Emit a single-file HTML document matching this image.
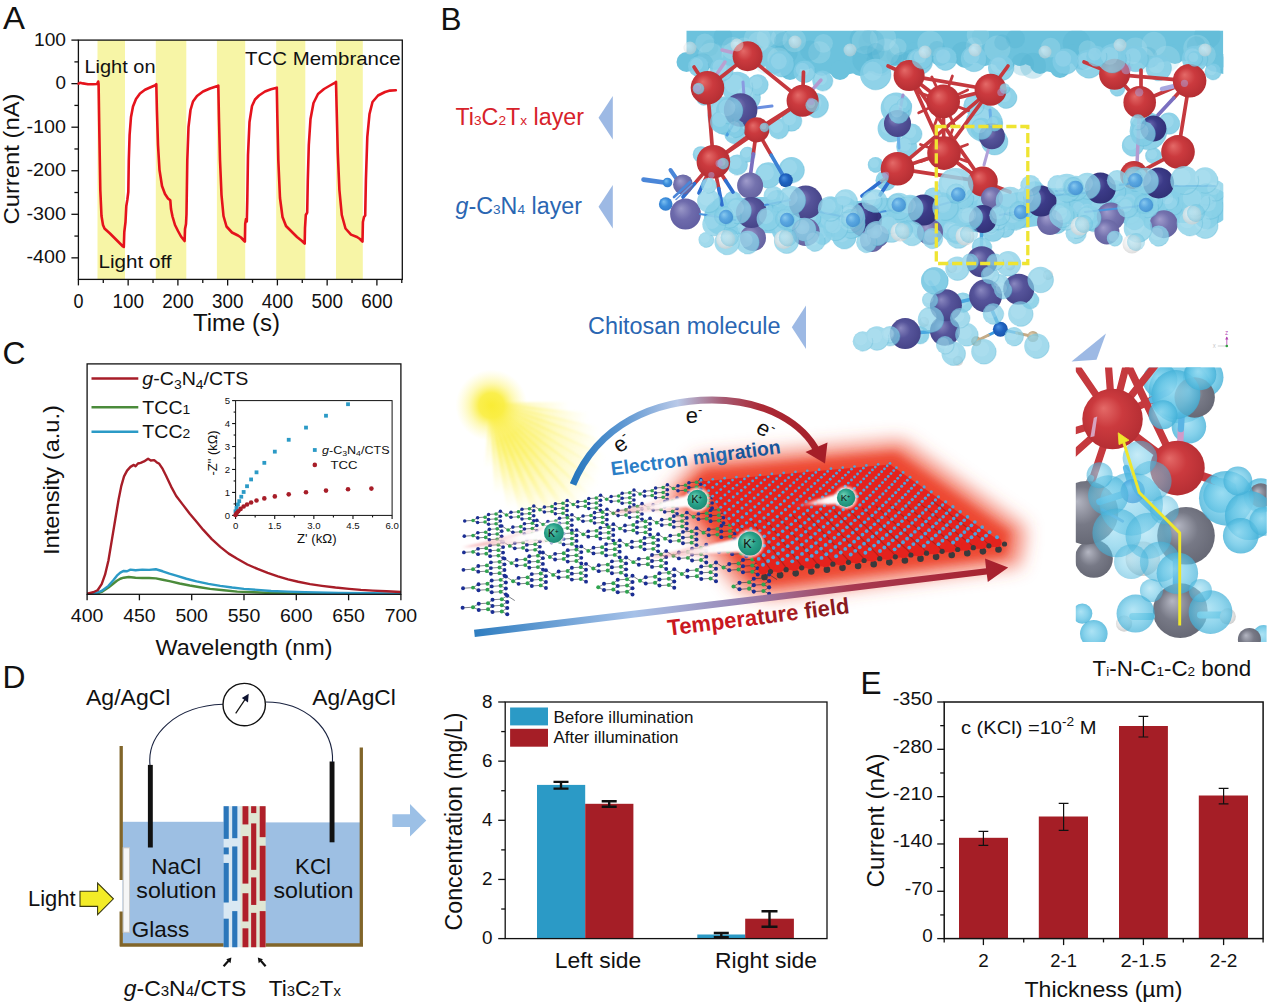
<!DOCTYPE html>
<html><head><meta charset="utf-8"><title>Figure</title>
<style>
html,body{margin:0;padding:0;background:#fff;}
svg{display:block;font-family:"Liberation Sans",sans-serif;}
</style></head><body>
<svg width="1269" height="1006" viewBox="0 0 1269 1006">
<defs><radialGradient id="gRed" cx="0.5" cy="0.5" r="0.75" fx="0.35" fy="0.32"><stop offset="0" stop-color="#e46a68"/><stop offset="0.35" stop-color="#cb3a3e"/><stop offset="1" stop-color="#a6262c"/></radialGradient>
<radialGradient id="gNavy" cx="0.5" cy="0.5" r="0.75" fx="0.35" fy="0.32"><stop offset="0" stop-color="#8a88c0"/><stop offset="0.35" stop-color="#56549a"/><stop offset="1" stop-color="#3a397c"/></radialGradient>
<radialGradient id="gNavyD" cx="0.5" cy="0.5" r="0.75" fx="0.35" fy="0.32"><stop offset="0" stop-color="#6a69b0"/><stop offset="0.35" stop-color="#3c3b88"/><stop offset="1" stop-color="#2a2a6c"/></radialGradient>
<radialGradient id="gPurp2" cx="0.5" cy="0.5" r="0.75" fx="0.35" fy="0.32"><stop offset="0" stop-color="#9a98c8"/><stop offset="0.4" stop-color="#6e6bac"/><stop offset="1" stop-color="#57559a"/></radialGradient>
<radialGradient id="gPurp" cx="0.5" cy="0.5" r="0.75" fx="0.35" fy="0.32"><stop offset="0" stop-color="#a09ccc"/><stop offset="0.4" stop-color="#7472ae"/><stop offset="1" stop-color="#5a5896"/></radialGradient>
<radialGradient id="gBlue" cx="0.5" cy="0.5" r="0.75" fx="0.35" fy="0.32"><stop offset="0" stop-color="#7cc0f0"/><stop offset="0.4" stop-color="#3c8edc"/><stop offset="1" stop-color="#2a6fc0"/></radialGradient>
<radialGradient id="gBlueD" cx="0.5" cy="0.5" r="0.75" fx="0.35" fy="0.32"><stop offset="0" stop-color="#4a90e0"/><stop offset="0.4" stop-color="#1f62c0"/><stop offset="1" stop-color="#174c9c"/></radialGradient>
<radialGradient id="gGrey" cx="0.5" cy="0.5" r="0.75" fx="0.35" fy="0.32"><stop offset="0" stop-color="#b4b6c2"/><stop offset="0.4" stop-color="#777986"/><stop offset="1" stop-color="#5a5c68"/></radialGradient>
<radialGradient id="gWhite" cx="0.5" cy="0.5" r="0.75" fx="0.35" fy="0.32"><stop offset="0" stop-color="#ffffff"/><stop offset="0.5" stop-color="#e4e4e4"/><stop offset="1" stop-color="#b8b8b8"/></radialGradient>
<radialGradient id="gTan" cx="0.5" cy="0.5" r="0.75" fx="0.35" fy="0.32"><stop offset="0" stop-color="#e0cfb0"/><stop offset="0.5" stop-color="#c4ac88"/><stop offset="1" stop-color="#a89070"/></radialGradient>
<radialGradient id="gTeal" cx="0.5" cy="0.5" r="0.75" fx="0.35" fy="0.32"><stop offset="0" stop-color="#6fd0b4"/><stop offset="0.45" stop-color="#27a088"/><stop offset="1" stop-color="#157a66"/></radialGradient>
<radialGradient id="gCy" cx="0.5" cy="0.5" r="0.5" fx="0.45" fy="0.42"><stop offset="0" stop-color="#a2dcee"/><stop offset="0.65" stop-color="#86cfe6"/><stop offset="0.9" stop-color="#6cc2de"/><stop offset="1" stop-color="#5ab6d6"/></radialGradient>
<radialGradient id="gCy2" cx="0.5" cy="0.5" r="0.52" fx="0.42" fy="0.4"><stop offset="0" stop-color="#98dcf2"/><stop offset="0.6" stop-color="#68c6e6"/><stop offset="0.92" stop-color="#48b4da"/><stop offset="1" stop-color="#3ca8d2"/></radialGradient>
<radialGradient id="gSun" cx="0.5" cy="0.5" r="0.5"><stop offset="0" stop-color="#f9ec36"/><stop offset="0.35" stop-color="#faee44" stop-opacity="0.95"/><stop offset="0.62" stop-color="#fcf26a" stop-opacity="0.5"/><stop offset="1" stop-color="#fff8a0" stop-opacity="0"/></radialGradient>
<linearGradient id="gRay" x1="0" y1="0" x2="1" y2="0"><stop offset="0" stop-color="#f9ec36" stop-opacity="0.95"/><stop offset="0.45" stop-color="#fbf05a" stop-opacity="0.7"/><stop offset="0.8" stop-color="#fdf480" stop-opacity="0.3"/><stop offset="1" stop-color="#fff8a0" stop-opacity="0"/></linearGradient>
<linearGradient id="gArc" gradientUnits="userSpaceOnUse" x1="572" y1="0" x2="824" y2="0"><stop offset="0" stop-color="#2576bd"/><stop offset="0.2" stop-color="#5d97d2"/><stop offset="0.42" stop-color="#b9c9e8"/><stop offset="0.6" stop-color="#a65a72"/><stop offset="0.75" stop-color="#ab2a36"/><stop offset="1" stop-color="#a51e28"/></linearGradient>
<linearGradient id="gTemp" gradientUnits="userSpaceOnUse" x1="474" y1="0" x2="1008" y2="0"><stop offset="0" stop-color="#2e7dc0"/><stop offset="0.3" stop-color="#a6c1e8"/><stop offset="0.5" stop-color="#9a86b4"/><stop offset="0.7" stop-color="#a63a52"/><stop offset="1" stop-color="#a81f2b"/></linearGradient>
<linearGradient id="gTail" x1="0" y1="0" x2="1" y2="0"><stop offset="0" stop-color="#f7c8c8" stop-opacity="0"/><stop offset="0.35" stop-color="#fde8e8" stop-opacity="0.8"/><stop offset="0.6" stop-color="#ffffff" stop-opacity="0.97"/><stop offset="1" stop-color="#ffffff" stop-opacity="1"/></linearGradient>
<filter id="blur7" x="-20%" y="-20%" width="140%" height="140%"><feGaussianBlur stdDeviation="7"/></filter>
<filter id="blur10" x="-20%" y="-30%" width="140%" height="160%"><feGaussianBlur stdDeviation="9"/></filter>
<filter id="blur5" x="-20%" y="-30%" width="140%" height="160%"><feGaussianBlur stdDeviation="5"/></filter>
<filter id="blur2" x="-20%" y="-20%" width="140%" height="140%"><feGaussianBlur stdDeviation="2"/></filter>
<filter id="blur1" x="-20%" y="-20%" width="140%" height="140%"><feGaussianBlur stdDeviation="0.8"/></filter>
<clipPath id="clipTop"><rect x="636" y="30.5" width="587.3" height="240"/></clipPath>
<clipPath id="clipIns"><rect x="1075.8" y="367.6" width="190.8" height="274.4"/></clipPath></defs>
<rect width="1269" height="1006" fill="#fff"/>
<g id="panelA">
<rect x="97.5" y="40.1" width="27.5" height="239.3" fill="#f7f5a6" />
<rect x="155.8" y="40.1" width="30.5" height="239.3" fill="#f7f5a6" />
<rect x="216.9" y="40.1" width="28.3" height="239.3" fill="#f7f5a6" />
<rect x="276.2" y="40.1" width="29.1" height="239.3" fill="#f7f5a6" />
<rect x="336" y="40.1" width="26.8" height="239.3" fill="#f7f5a6" />
<rect x="78.4" y="40.1" width="323.9" height="239.3" fill="none" stroke="#111" stroke-width="1.3" />
<line x1="71.4" y1="40.1" x2="78.4" y2="40.1" stroke="#111" stroke-width="1.3" />
<text x="66" y="45.5" font-size="17.6" text-anchor="end" textLength="32" lengthAdjust="spacingAndGlyphs" fill="#111" >100</text>
<line x1="71.4" y1="83.65" x2="78.4" y2="83.65" stroke="#111" stroke-width="1.3" />
<text x="66" y="89.05" font-size="17.6" text-anchor="end" textLength="10.5" lengthAdjust="spacingAndGlyphs" fill="#111" >0</text>
<line x1="71.4" y1="127.2" x2="78.4" y2="127.2" stroke="#111" stroke-width="1.3" />
<text x="66" y="132.6" font-size="17.6" text-anchor="end" textLength="39.5" lengthAdjust="spacingAndGlyphs" fill="#111" >-100</text>
<line x1="71.4" y1="170.75" x2="78.4" y2="170.75" stroke="#111" stroke-width="1.3" />
<text x="66" y="176.15" font-size="17.6" text-anchor="end" textLength="39.5" lengthAdjust="spacingAndGlyphs" fill="#111" >-200</text>
<line x1="71.4" y1="214.3" x2="78.4" y2="214.3" stroke="#111" stroke-width="1.3" />
<text x="66" y="219.7" font-size="17.6" text-anchor="end" textLength="39.5" lengthAdjust="spacingAndGlyphs" fill="#111" >-300</text>
<line x1="71.4" y1="257.85" x2="78.4" y2="257.85" stroke="#111" stroke-width="1.3" />
<text x="66" y="263.25" font-size="17.6" text-anchor="end" textLength="39.5" lengthAdjust="spacingAndGlyphs" fill="#111" >-400</text>
<line x1="74.4" y1="61.88" x2="78.4" y2="61.88" stroke="#111" stroke-width="1.3" />
<line x1="74.4" y1="105.42" x2="78.4" y2="105.42" stroke="#111" stroke-width="1.3" />
<line x1="74.4" y1="148.97" x2="78.4" y2="148.97" stroke="#111" stroke-width="1.3" />
<line x1="74.4" y1="192.52" x2="78.4" y2="192.52" stroke="#111" stroke-width="1.3" />
<line x1="74.4" y1="236.07" x2="78.4" y2="236.07" stroke="#111" stroke-width="1.3" />
<line x1="78.4" y1="279.4" x2="78.4" y2="285.4" stroke="#111" stroke-width="1.3" />
<text x="78.4" y="307.6" font-size="19.6" text-anchor="middle" textLength="10" lengthAdjust="spacingAndGlyphs" fill="#111" >0</text>
<line x1="128.15" y1="279.4" x2="128.15" y2="285.4" stroke="#111" stroke-width="1.3" />
<text x="128.15" y="307.6" font-size="19.6" text-anchor="middle" textLength="31.5" lengthAdjust="spacingAndGlyphs" fill="#111" >100</text>
<line x1="177.9" y1="279.4" x2="177.9" y2="285.4" stroke="#111" stroke-width="1.3" />
<text x="177.9" y="307.6" font-size="19.6" text-anchor="middle" textLength="31.5" lengthAdjust="spacingAndGlyphs" fill="#111" >200</text>
<line x1="227.65" y1="279.4" x2="227.65" y2="285.4" stroke="#111" stroke-width="1.3" />
<text x="227.65" y="307.6" font-size="19.6" text-anchor="middle" textLength="31.5" lengthAdjust="spacingAndGlyphs" fill="#111" >300</text>
<line x1="277.4" y1="279.4" x2="277.4" y2="285.4" stroke="#111" stroke-width="1.3" />
<text x="277.4" y="307.6" font-size="19.6" text-anchor="middle" textLength="31.5" lengthAdjust="spacingAndGlyphs" fill="#111" >400</text>
<line x1="327.15" y1="279.4" x2="327.15" y2="285.4" stroke="#111" stroke-width="1.3" />
<text x="327.15" y="307.6" font-size="19.6" text-anchor="middle" textLength="31.5" lengthAdjust="spacingAndGlyphs" fill="#111" >500</text>
<line x1="376.9" y1="279.4" x2="376.9" y2="285.4" stroke="#111" stroke-width="1.3" />
<text x="376.9" y="307.6" font-size="19.6" text-anchor="middle" textLength="31.5" lengthAdjust="spacingAndGlyphs" fill="#111" >600</text>
<line x1="103.28" y1="279.4" x2="103.28" y2="282.9" stroke="#111" stroke-width="1.3" />
<line x1="153.03" y1="279.4" x2="153.03" y2="282.9" stroke="#111" stroke-width="1.3" />
<line x1="202.78" y1="279.4" x2="202.78" y2="282.9" stroke="#111" stroke-width="1.3" />
<line x1="252.53" y1="279.4" x2="252.53" y2="282.9" stroke="#111" stroke-width="1.3" />
<line x1="302.27" y1="279.4" x2="302.27" y2="282.9" stroke="#111" stroke-width="1.3" />
<line x1="352.02" y1="279.4" x2="352.02" y2="282.9" stroke="#111" stroke-width="1.3" />
<line x1="401.77" y1="279.4" x2="401.77" y2="282.9" stroke="#111" stroke-width="1.3" />
<text x="236.5" y="330.6" font-size="23.5" text-anchor="middle" textLength="87" lengthAdjust="spacingAndGlyphs" fill="#111" >Time (s)</text>
<text transform="translate(19.3 159) rotate(-90)" font-size="22" text-anchor="middle" textLength="131" lengthAdjust="spacingAndGlyphs" fill="#111" >Current (nA)</text>
<text x="3" y="28.5" font-size="32" textLength="22" lengthAdjust="spacingAndGlyphs" fill="#111" >A</text>
<text x="84.5" y="72.8" font-size="18.8" textLength="71" lengthAdjust="spacingAndGlyphs" fill="#111" >Light on</text>
<text x="98.5" y="267.5" font-size="18.8" textLength="73" lengthAdjust="spacingAndGlyphs" fill="#111" >Light off</text>
<text x="245" y="64.5" font-size="19" textLength="155.5" lengthAdjust="spacingAndGlyphs" fill="#111" >TCC Membrance</text>
<polyline points="78.6,83.6 80,82.8 83,83.4 88,84.2 93,84.3 97,84 98.2,81.5 98.6,84 99.3,130 100.3,190 101.5,216 103,225 104.5,228.5 110,233.5 117,240.5 123,246.5 123.8,247 124.3,232 125.5,222 126.3,206 127.3,200 128.3,192 128.8,160 129.6,135 131,117 133,106.5 136,99 140,93.5 145,89.8 150,87.5 155.3,85.2 156.3,84.2 156.9,110 158,145 159.5,170 162,186 165,194 168,198.5 170.3,200.3 171,209 172.5,216.5 175,225 178,231 181,236.5 184.6,241 185,229 186,224 186.5,214 187.3,160 188.5,127 190.5,110 193,101.5 197,96 203,91.5 210,88.5 217.5,86 218.3,85.6 219,120 220,160 221.5,195 223.5,216 226.5,226.5 232,232.5 238,235.5 241,237.5 244.3,241 244.9,241.6 245.2,224 246,219 246.8,221.5 247.3,200 248,155 249.5,122 252,106 255,99.5 259,95.5 265,91.5 271,89.3 276.8,87.7 277.3,115 278.3,160 280,198 282.5,217 286,226 291,231 297,237 302,241 304.7,243.6 305,228 305.8,215 307.2,212.5 307.8,180 308.8,145 310.5,119 313.5,103 318,94 324,89 330,85.5 335.6,82.3 336,81.8 336.6,107 337.8,153 339.4,190 341.8,215 345.5,228.5 351,234.6 357,237 360,239 362.5,241.6 362.9,222 364,217 365.2,215.5 365.9,180 367.3,137 369.5,114 372.5,102 378,95.5 385,92 390,90.6 395.8,90.2" fill="none" stroke="#e5131c" stroke-width="2.6" stroke-linejoin="round" stroke-linecap="round" />
</g>
<g id="panelC">
<clipPath id="clipC"><rect x="87.1" y="363.9" width="313.79999999999995" height="230.39999999999998"/></clipPath>
<polyline points="87.09,594.66 96.58,593.64 101.66,591.95 108.44,587.54 113.52,583.47 116.91,580.76 120.3,578.73 123.69,577.71 128.77,577.03 135.55,577.71 142.32,578.05 149.1,578.05 155.88,578.39 162.66,579.75 169.43,581.1 179.6,583.47 189.77,585.51 199.93,587.2 210.1,588.9 223.65,590.25 237.21,591.61 254.15,592.28 271.09,592.96 304.98,593.64 338.87,593.98 400.88,594.15" fill="none" stroke="#4b8b3b" stroke-width="2.4" stroke-linejoin="round" stroke-linecap="round" clip-path="url(#clipC)"/>
<polyline points="87.09,594.32 96.58,592.96 101.66,590.93 108.44,585.85 113.52,580.08 116.91,575.68 120.3,572.63 123.69,570.94 127.08,571.27 130.46,569.58 135.55,570.26 142.32,569.58 149.1,569.92 155.88,569.24 159.27,570.26 162.66,571.27 169.43,573.65 176.21,575.68 186.38,578.73 196.54,581.44 208.4,583.81 220.26,585.85 232.12,587.54 243.99,588.9 257.54,589.91 271.09,590.93 288.04,591.61 304.98,592.28 338.87,592.96 372.75,593.3 400.88,593.64" fill="none" stroke="#2b9ac6" stroke-width="2.4" stroke-linejoin="round" stroke-linecap="round" clip-path="url(#clipC)"/>
<polyline points="87.09,593.64 93.19,592.28 97.59,590.25 101.66,584.15 105.05,574.66 108.44,560.43 111.83,540.1 115.22,519.77 118.6,499.43 121.31,485.88 124.03,476.39 127.08,470.63 130.46,466.9 133.85,464.87 135.55,466.23 137.92,463.51 140.63,462.84 144.02,461.48 148.09,458.77 150.8,460.46 154.19,460.13 156.56,462.16 159.27,463.85 162.66,468.94 166.05,475.71 171.13,486.56 176.21,496.05 182.99,504.86 189.77,513.67 196.54,521.8 203.32,529.93 211.79,539.08 220.26,546.88 228.74,553.65 237.21,558.74 247.37,564.5 257.54,568.9 267.71,572.97 277.87,576.36 288.04,579.41 298.2,581.78 310.06,584.15 321.92,585.85 335.48,587.54 349.03,588.9 360.89,589.91 372.75,590.59 386.31,591.27 400.88,591.95" fill="none" stroke="#a71d28" stroke-width="2.4" stroke-linejoin="round" stroke-linecap="round" clip-path="url(#clipC)"/>
<rect x="87.1" y="363.9" width="313.8" height="230.4" fill="none" stroke="#111" stroke-width="1.3" />
<line x1="87.1" y1="594.3" x2="87.1" y2="600.3" stroke="#111" stroke-width="1.3" />
<text x="87.1" y="622.3" font-size="18" text-anchor="middle" textLength="32.5" lengthAdjust="spacingAndGlyphs" fill="#111" >400</text>
<line x1="139.4" y1="594.3" x2="139.4" y2="600.3" stroke="#111" stroke-width="1.3" />
<text x="139.4" y="622.3" font-size="18" text-anchor="middle" textLength="32.5" lengthAdjust="spacingAndGlyphs" fill="#111" >450</text>
<line x1="191.7" y1="594.3" x2="191.7" y2="600.3" stroke="#111" stroke-width="1.3" />
<text x="191.7" y="622.3" font-size="18" text-anchor="middle" textLength="32.5" lengthAdjust="spacingAndGlyphs" fill="#111" >500</text>
<line x1="244" y1="594.3" x2="244" y2="600.3" stroke="#111" stroke-width="1.3" />
<text x="244" y="622.3" font-size="18" text-anchor="middle" textLength="32.5" lengthAdjust="spacingAndGlyphs" fill="#111" >550</text>
<line x1="296.3" y1="594.3" x2="296.3" y2="600.3" stroke="#111" stroke-width="1.3" />
<text x="296.3" y="622.3" font-size="18" text-anchor="middle" textLength="32.5" lengthAdjust="spacingAndGlyphs" fill="#111" >600</text>
<line x1="348.6" y1="594.3" x2="348.6" y2="600.3" stroke="#111" stroke-width="1.3" />
<text x="348.6" y="622.3" font-size="18" text-anchor="middle" textLength="32.5" lengthAdjust="spacingAndGlyphs" fill="#111" >650</text>
<line x1="400.9" y1="594.3" x2="400.9" y2="600.3" stroke="#111" stroke-width="1.3" />
<text x="400.9" y="622.3" font-size="18" text-anchor="middle" textLength="32.5" lengthAdjust="spacingAndGlyphs" fill="#111" >700</text>
<text x="244" y="654.8" font-size="22" text-anchor="middle" textLength="177" lengthAdjust="spacingAndGlyphs" fill="#111" >Wavelength (nm)</text>
<text transform="translate(58.5 480) rotate(-90)" font-size="22" text-anchor="middle" textLength="150" lengthAdjust="spacingAndGlyphs" fill="#111" >Intensity (a.u.)</text>
<text x="2.5" y="363.5" font-size="32" textLength="23" lengthAdjust="spacingAndGlyphs" fill="#111" >C</text>
<line x1="91.5" y1="378.5" x2="138.3" y2="378.5" stroke="#a71d28" stroke-width="2.6" />
<line x1="91.5" y1="407.3" x2="138.3" y2="407.3" stroke="#4b8b3b" stroke-width="2.6" />
<line x1="91.5" y1="431.7" x2="138.3" y2="431.7" stroke="#2b9ac6" stroke-width="2.6" />
<text x="142.3" y="384.5" font-size="19" fill="#111" textLength="106" lengthAdjust="spacingAndGlyphs"><tspan font-style="italic">g</tspan>-C<tspan font-size="13.5" dy="4">3</tspan><tspan dy="-4">N</tspan><tspan font-size="13.5" dy="4">4</tspan><tspan dy="-4">/CTS</tspan></text>
<text x="142.3" y="413.8" font-size="19" fill="#111" textLength="48" lengthAdjust="spacingAndGlyphs">TCC<tspan font-size="13.5">1</tspan></text>
<text x="142.3" y="438" font-size="19" fill="#111" textLength="48" lengthAdjust="spacingAndGlyphs">TCC<tspan font-size="13.5">2</tspan></text>
<rect x="235.6" y="400.6" width="156.5" height="114.8" fill="#fff" stroke="#111" stroke-width="1" />
<line x1="235.6" y1="515.4" x2="235.6" y2="518.9" stroke="#111" stroke-width="1.1" />
<text x="235.6" y="529.4" font-size="9.6" text-anchor="middle" fill="#111" >0</text>
<line x1="274.73" y1="515.4" x2="274.73" y2="518.9" stroke="#111" stroke-width="1.1" />
<text x="274.73" y="529.4" font-size="9.6" text-anchor="middle" fill="#111" >1.5</text>
<line x1="313.85" y1="515.4" x2="313.85" y2="518.9" stroke="#111" stroke-width="1.1" />
<text x="313.85" y="529.4" font-size="9.6" text-anchor="middle" fill="#111" >3.0</text>
<line x1="352.98" y1="515.4" x2="352.98" y2="518.9" stroke="#111" stroke-width="1.1" />
<text x="352.98" y="529.4" font-size="9.6" text-anchor="middle" fill="#111" >4.5</text>
<line x1="392.1" y1="515.4" x2="392.1" y2="518.9" stroke="#111" stroke-width="1.1" />
<text x="392.1" y="529.4" font-size="9.6" text-anchor="middle" fill="#111" >6.0</text>
<line x1="255.16" y1="515.4" x2="255.16" y2="517.4" stroke="#111" stroke-width="1.1" />
<line x1="294.29" y1="515.4" x2="294.29" y2="517.4" stroke="#111" stroke-width="1.1" />
<line x1="333.41" y1="515.4" x2="333.41" y2="517.4" stroke="#111" stroke-width="1.1" />
<line x1="372.54" y1="515.4" x2="372.54" y2="517.4" stroke="#111" stroke-width="1.1" />
<line x1="232.1" y1="515.4" x2="235.6" y2="515.4" stroke="#111" stroke-width="1.1" />
<text x="230.1" y="518.8" font-size="9.6" text-anchor="end" fill="#111" >0</text>
<line x1="232.1" y1="492.44" x2="235.6" y2="492.44" stroke="#111" stroke-width="1.1" />
<text x="230.1" y="495.84" font-size="9.6" text-anchor="end" fill="#111" >1</text>
<line x1="232.1" y1="469.48" x2="235.6" y2="469.48" stroke="#111" stroke-width="1.1" />
<text x="230.1" y="472.88" font-size="9.6" text-anchor="end" fill="#111" >2</text>
<line x1="232.1" y1="446.52" x2="235.6" y2="446.52" stroke="#111" stroke-width="1.1" />
<text x="230.1" y="449.92" font-size="9.6" text-anchor="end" fill="#111" >3</text>
<line x1="232.1" y1="423.56" x2="235.6" y2="423.56" stroke="#111" stroke-width="1.1" />
<text x="230.1" y="426.96" font-size="9.6" text-anchor="end" fill="#111" >4</text>
<line x1="232.1" y1="400.6" x2="235.6" y2="400.6" stroke="#111" stroke-width="1.1" />
<text x="230.1" y="404" font-size="9.6" text-anchor="end" fill="#111" >5</text>
<line x1="233.6" y1="503.92" x2="235.6" y2="503.92" stroke="#111" stroke-width="1.1" />
<line x1="233.6" y1="480.96" x2="235.6" y2="480.96" stroke="#111" stroke-width="1.1" />
<line x1="233.6" y1="458" x2="235.6" y2="458" stroke="#111" stroke-width="1.1" />
<line x1="233.6" y1="435.04" x2="235.6" y2="435.04" stroke="#111" stroke-width="1.1" />
<line x1="233.6" y1="412.08" x2="235.6" y2="412.08" stroke="#111" stroke-width="1.1" />
<rect x="346.12" y="402.31" width="3.8" height="3.8" fill="#2b9ac6" />
<rect x="324.09" y="413.83" width="3.8" height="3.8" fill="#2b9ac6" />
<rect x="304.1" y="425.69" width="3.8" height="3.8" fill="#2b9ac6" />
<rect x="286.82" y="437.89" width="3.8" height="3.8" fill="#2b9ac6" />
<rect x="272.92" y="449.75" width="3.8" height="3.8" fill="#2b9ac6" />
<rect x="262.42" y="460.94" width="3.8" height="3.8" fill="#2b9ac6" />
<rect x="254.62" y="470.42" width="3.8" height="3.8" fill="#2b9ac6" />
<rect x="249.2" y="477.54" width="3.8" height="3.8" fill="#2b9ac6" />
<rect x="245.13" y="484.32" width="3.8" height="3.8" fill="#2b9ac6" />
<rect x="241.75" y="490.08" width="3.8" height="3.8" fill="#2b9ac6" />
<rect x="239.37" y="494.82" width="3.8" height="3.8" fill="#2b9ac6" />
<rect x="237.34" y="499.23" width="3.8" height="3.8" fill="#2b9ac6" />
<rect x="235.99" y="502.62" width="3.8" height="3.8" fill="#2b9ac6" />
<rect x="234.63" y="506.01" width="3.8" height="3.8" fill="#2b9ac6" />
<rect x="233.61" y="509.39" width="3.8" height="3.8" fill="#2b9ac6" />
<circle cx="371.4" cy="488.59" r="2.3" fill="#a71d28" />
<circle cx="348.02" cy="489.27" r="2.3" fill="#a71d28" />
<circle cx="325.99" cy="490.62" r="2.3" fill="#a71d28" />
<circle cx="306" cy="492.32" r="2.3" fill="#a71d28" />
<circle cx="288.72" cy="494.35" r="2.3" fill="#a71d28" />
<circle cx="274.82" cy="496.38" r="2.3" fill="#a71d28" />
<circle cx="264.32" cy="498.42" r="2.3" fill="#a71d28" />
<circle cx="256.52" cy="500.45" r="2.3" fill="#a71d28" />
<circle cx="251.1" cy="502.48" r="2.3" fill="#a71d28" />
<circle cx="247.03" cy="504.52" r="2.3" fill="#a71d28" />
<circle cx="243.65" cy="506.55" r="2.3" fill="#a71d28" />
<circle cx="240.6" cy="508.92" r="2.3" fill="#a71d28" />
<circle cx="238.22" cy="511.29" r="2.3" fill="#a71d28" />
<circle cx="236.53" cy="513.33" r="2.3" fill="#a71d28" />
<circle cx="235.51" cy="515.02" r="2.3" fill="#a71d28" />
<rect x="312.9" y="448.1" width="3.8" height="3.8" fill="#2b9ac6" />
<circle cx="314.8" cy="464.9" r="2.3" fill="#a71d28" />
<text x="322" y="454" font-size="10.8" fill="#111" textLength="67.5" lengthAdjust="spacingAndGlyphs"><tspan font-style="italic">g</tspan>-C<tspan font-size="7.5" dy="2">3</tspan><tspan dy="-2">N</tspan><tspan font-size="7.5" dy="2">4</tspan><tspan dy="-2">/CTS</tspan></text>
<text x="330.4" y="468.6" font-size="10.8" textLength="27" lengthAdjust="spacingAndGlyphs" fill="#111" >TCC</text>
<text x="316.8" y="543" font-size="12" text-anchor="middle" textLength="39.5" lengthAdjust="spacingAndGlyphs" fill="#111" >Z' (k&#937;)</text>
<text transform="translate(216.5 453) rotate(-90)" font-size="12" text-anchor="middle" textLength="45" lengthAdjust="spacingAndGlyphs" fill="#111" >-Z'' (k&#937;)</text>
</g>
<g id="panelD">
<text x="2.5" y="688" font-size="32" textLength="23" lengthAdjust="spacingAndGlyphs" fill="#111" >D</text>
<rect x="122.5" y="821.8" width="101.5" height="123" fill="#9dbfe3" />
<rect x="265" y="822.4" width="95.5" height="122.4" fill="#9dbfe3" />
<path d="M121.2 746 V880 M121.2 911.5 V946.3 M119.8 945 H363 M361.3 747.6 V946.3" stroke="#81652a" stroke-width="3.3" fill="none"/>
<rect x="123.2" y="847.8" width="6.3" height="84.5" fill="#f6f6f6" stroke="#c9c9c9" stroke-width="1" />
<rect x="223.6" y="806.2" width="18.9" height="141" fill="#d9e8f3" />
<rect x="240.5" y="806.2" width="25.2" height="141" fill="#dfe6d3" />
<rect x="223.6" y="806.2" width="5.16" height="32.68" fill="#2b76ba" />
<rect x="223.6" y="847.48" width="5.16" height="6.88" fill="#2b76ba" />
<rect x="223.6" y="862.96" width="5.16" height="39.56" fill="#2b76ba" />
<rect x="223.6" y="918.69" width="5.16" height="28.55" fill="#2b76ba" />
<rect x="232.2" y="806.2" width="5.16" height="31.99" fill="#2b76ba" />
<rect x="232.2" y="846.45" width="5.16" height="54.35" fill="#2b76ba" />
<rect x="232.2" y="911.12" width="5.16" height="36.12" fill="#2b76ba" />
<rect x="242.52" y="806.2" width="5.85" height="18.23" fill="#b0202a" />
<rect x="242.52" y="836.13" width="5.85" height="47.47" fill="#b0202a" />
<rect x="242.52" y="893.23" width="5.85" height="28.21" fill="#b0202a" />
<rect x="242.52" y="928.32" width="5.85" height="18.92" fill="#b0202a" />
<rect x="251.12" y="806.2" width="5.16" height="6.88" fill="#b0202a" />
<rect x="251.12" y="823.4" width="5.16" height="46.44" fill="#b0202a" />
<rect x="251.12" y="877.41" width="5.16" height="27.52" fill="#b0202a" />
<rect x="251.12" y="912.84" width="5.16" height="34.4" fill="#b0202a" />
<rect x="259.72" y="806.2" width="5.85" height="30.96" fill="#b0202a" />
<rect x="259.72" y="845.76" width="5.85" height="55.04" fill="#b0202a" />
<rect x="259.72" y="911.12" width="5.85" height="36.12" fill="#b0202a" />
<rect x="147.9" y="764.9" width="4.9" height="82.6" fill="#111" />
<rect x="329.6" y="761.5" width="4.9" height="80.8" fill="#111" />
<path d="M150 765 C147 735 175 706 223 704.3" stroke="#1a2340" stroke-width="1.1" fill="none"/>
<path d="M265.5 702 C305 702 334 728 332.5 762" stroke="#1a2340" stroke-width="1.1" fill="none"/>
<circle cx="244.2" cy="704.6" r="21.2" fill="#fff" stroke="#111" stroke-width="1.4"/>
<path d="M235.7 713.4 L245.6 698.6" stroke="#111" stroke-width="1.2"/><path d="M248.7 693.8 L248 702.4 L241.8 698 Z" fill="#0d1230"/>
<text x="86" y="705.4" font-size="22.8" textLength="84.5" lengthAdjust="spacingAndGlyphs" fill="#111" >Ag/AgCl</text>
<text x="312.3" y="705.4" font-size="22.8" textLength="83.5" lengthAdjust="spacingAndGlyphs" fill="#111" >Ag/AgCl</text>
<text x="176.3" y="874" font-size="22.8" text-anchor="middle" textLength="50" lengthAdjust="spacingAndGlyphs" fill="#111" >NaCl</text>
<text x="176.3" y="898.2" font-size="22.8" text-anchor="middle" textLength="80" lengthAdjust="spacingAndGlyphs" fill="#111" >solution</text>
<text x="313" y="874" font-size="22.8" text-anchor="middle" textLength="36" lengthAdjust="spacingAndGlyphs" fill="#111" >KCl</text>
<text x="313.5" y="898.2" font-size="22.8" text-anchor="middle" textLength="80" lengthAdjust="spacingAndGlyphs" fill="#111" >solution</text>
<text x="131.7" y="937" font-size="22.8" textLength="57.5" lengthAdjust="spacingAndGlyphs" fill="#111" >Glass</text>
<text x="28" y="906" font-size="22.8" textLength="47.5" lengthAdjust="spacingAndGlyphs" fill="#111" >Light</text>
<path d="M80 891.2 H97.6 V883 L113.4 898.8 L97.6 914.6 V906.4 H80 Z" fill="#f3ec27" stroke="#3b3a10" stroke-width="1.1" stroke-linejoin="miter"/>
<path d="M223.6 966.2 L228.5 960.8" stroke="#111" stroke-width="2.2"/><path d="M231.4 957.6 L230.5 963.2 L226.3 959.2 Z" fill="#111"/>
<path d="M265.6 966.2 L260.8 960.8" stroke="#111" stroke-width="2.2"/><path d="M257.8 957.6 L258.7 963.2 L262.9 959.2 Z" fill="#111"/>
<text x="123.8" y="995.6" font-size="22.8" fill="#111" textLength="122.5" lengthAdjust="spacingAndGlyphs"><tspan font-style="italic">g</tspan>-C<tspan font-size="15">3</tspan>N<tspan font-size="15">4</tspan>/CTS</text>
<text x="268.8" y="995.6" font-size="22.8" fill="#111" textLength="72" lengthAdjust="spacingAndGlyphs">Ti<tspan font-size="15">3</tspan>C<tspan font-size="15">2</tspan>T<tspan font-size="15">x</tspan></text>
<path d="M392.4 814.2 H410 V804.1 L426.3 820.4 L410 836.6 V827.1 H392.4 Z" fill="#9cc0e6"/>
<rect x="537" y="784.9" width="48.2" height="153.7" fill="#2b9ac6" />
<rect x="585.2" y="803.8" width="48.2" height="134.8" fill="#a51e26" />
<rect x="697.3" y="934.5" width="47.9" height="4.1" fill="#2b9ac6" />
<rect x="745.2" y="918.7" width="48.7" height="19.9" fill="#a51e26" />
<path d="M561 781.9 V788.6 M553.5 781.9 H568.5 M553.5 788.6 H568.5" stroke="#111" stroke-width="2.4" fill="none"/>
<path d="M609.2 801.2 V806.8 M601.7 801.2 H616.7 M601.7 806.8 H616.7" stroke="#111" stroke-width="2.4" fill="none"/>
<path d="M721.3 933 V937.2 M713.8 933 H728.8 M713.8 937.2 H728.8" stroke="#111" stroke-width="2.4" fill="none"/>
<path d="M769.5 911.2 V926.7 M761.5 911.2 H777.5 M761.5 926.7 H777.5" stroke="#111" stroke-width="2.4" fill="none"/>
<rect x="505.2" y="702" width="321.8" height="236.6" fill="none" stroke="#111" stroke-width="1.3" />
<line x1="498.2" y1="938.6" x2="505.2" y2="938.6" stroke="#111" stroke-width="1.3" />
<text x="492.6" y="944.4" font-size="18.3" text-anchor="end" textLength="10.5" lengthAdjust="spacingAndGlyphs" fill="#111" >0</text>
<line x1="498.2" y1="879.45" x2="505.2" y2="879.45" stroke="#111" stroke-width="1.3" />
<text x="492.6" y="885.25" font-size="18.3" text-anchor="end" textLength="10.5" lengthAdjust="spacingAndGlyphs" fill="#111" >2</text>
<line x1="498.2" y1="820.3" x2="505.2" y2="820.3" stroke="#111" stroke-width="1.3" />
<text x="492.6" y="826.1" font-size="18.3" text-anchor="end" textLength="10.5" lengthAdjust="spacingAndGlyphs" fill="#111" >4</text>
<line x1="498.2" y1="761.15" x2="505.2" y2="761.15" stroke="#111" stroke-width="1.3" />
<text x="492.6" y="766.95" font-size="18.3" text-anchor="end" textLength="10.5" lengthAdjust="spacingAndGlyphs" fill="#111" >6</text>
<line x1="498.2" y1="702" x2="505.2" y2="702" stroke="#111" stroke-width="1.3" />
<text x="492.6" y="707.8" font-size="18.3" text-anchor="end" textLength="10.5" lengthAdjust="spacingAndGlyphs" fill="#111" >8</text>
<line x1="501.2" y1="909.02" x2="505.2" y2="909.02" stroke="#111" stroke-width="1.3" />
<line x1="501.2" y1="849.88" x2="505.2" y2="849.88" stroke="#111" stroke-width="1.3" />
<line x1="501.2" y1="790.73" x2="505.2" y2="790.73" stroke="#111" stroke-width="1.3" />
<line x1="501.2" y1="731.58" x2="505.2" y2="731.58" stroke="#111" stroke-width="1.3" />
<rect x="510.1" y="707.5" width="37.9" height="17.9" fill="#2b9ac6" />
<rect x="510.1" y="728.8" width="37.9" height="17.9" fill="#a51e26" />
<text x="553.5" y="722.5" font-size="16.3" textLength="140" lengthAdjust="spacingAndGlyphs" fill="#111" >Before illumination</text>
<text x="553.5" y="743.3" font-size="16.3" textLength="125" lengthAdjust="spacingAndGlyphs" fill="#111" >After illumination</text>
<text x="554.8" y="968" font-size="22.6" textLength="86.5" lengthAdjust="spacingAndGlyphs" fill="#111" >Left side</text>
<text x="715" y="968" font-size="22.6" textLength="102" lengthAdjust="spacingAndGlyphs" fill="#111" >Right side</text>
<text transform="translate(461.8 821.5) rotate(-90)" font-size="23" text-anchor="middle" textLength="218" lengthAdjust="spacingAndGlyphs" fill="#111" >Concentration (mg/L)</text>
</g>
<g id="panelE">
<text x="860.5" y="693.6" font-size="32" textLength="21" lengthAdjust="spacingAndGlyphs" fill="#111" >E</text>
<rect x="959" y="837.8" width="49" height="100.8" fill="#a51e26" />
<rect x="1038.8" y="816.5" width="49.2" height="122.1" fill="#a51e26" />
<rect x="1119" y="726" width="48.9" height="212.6" fill="#a51e26" />
<rect x="1198.8" y="795.5" width="49.2" height="143.1" fill="#a51e26" />
<path d="M983.4 831.3 V845.4 M978.5 831.3 H988.3 M978.5 845.4 H988.3" stroke="#111" stroke-width="1.2" fill="none"/>
<path d="M1063.6 803.4 V830.3 M1058.7 803.4 H1068.5 M1058.7 830.3 H1068.5" stroke="#111" stroke-width="1.2" fill="none"/>
<path d="M1143.4 716.4 V737 M1138.5 716.4 H1148.3 M1138.5 737 H1148.3" stroke="#111" stroke-width="1.2" fill="none"/>
<path d="M1223.6 788.3 V803.8 M1218.7 788.3 H1228.5 M1218.7 803.8 H1228.5" stroke="#111" stroke-width="1.2" fill="none"/>
<rect x="944.2" y="702" width="318.9" height="236.6" fill="none" stroke="#111" stroke-width="1.5" />
<line x1="937.2" y1="938.6" x2="944.2" y2="938.6" stroke="#111" stroke-width="1.3" />
<text x="932.7" y="942" font-size="18" text-anchor="end" textLength="10.5" lengthAdjust="spacingAndGlyphs" fill="#111" >0</text>
<line x1="937.2" y1="891.28" x2="944.2" y2="891.28" stroke="#111" stroke-width="1.3" />
<text x="932.7" y="894.68" font-size="18" text-anchor="end" textLength="28" lengthAdjust="spacingAndGlyphs" fill="#111" >-70</text>
<line x1="937.2" y1="843.96" x2="944.2" y2="843.96" stroke="#111" stroke-width="1.3" />
<text x="932.7" y="847.36" font-size="18" text-anchor="end" textLength="40" lengthAdjust="spacingAndGlyphs" fill="#111" >-140</text>
<line x1="937.2" y1="796.64" x2="944.2" y2="796.64" stroke="#111" stroke-width="1.3" />
<text x="932.7" y="800.04" font-size="18" text-anchor="end" textLength="40" lengthAdjust="spacingAndGlyphs" fill="#111" >-210</text>
<line x1="937.2" y1="749.32" x2="944.2" y2="749.32" stroke="#111" stroke-width="1.3" />
<text x="932.7" y="752.72" font-size="18" text-anchor="end" textLength="40" lengthAdjust="spacingAndGlyphs" fill="#111" >-280</text>
<line x1="937.2" y1="702" x2="944.2" y2="702" stroke="#111" stroke-width="1.3" />
<text x="932.7" y="705.4" font-size="18" text-anchor="end" textLength="40" lengthAdjust="spacingAndGlyphs" fill="#111" >-350</text>
<line x1="940.2" y1="914.94" x2="944.2" y2="914.94" stroke="#111" stroke-width="1.3" />
<line x1="940.2" y1="867.62" x2="944.2" y2="867.62" stroke="#111" stroke-width="1.3" />
<line x1="940.2" y1="820.3" x2="944.2" y2="820.3" stroke="#111" stroke-width="1.3" />
<line x1="940.2" y1="772.98" x2="944.2" y2="772.98" stroke="#111" stroke-width="1.3" />
<line x1="940.2" y1="725.66" x2="944.2" y2="725.66" stroke="#111" stroke-width="1.3" />
<line x1="983.4" y1="938.6" x2="983.4" y2="945.1" stroke="#111" stroke-width="1.3" />
<text x="983.4" y="966.5" font-size="18.5" text-anchor="middle" textLength="10.5" lengthAdjust="spacingAndGlyphs" fill="#111" >2</text>
<line x1="1063.6" y1="938.6" x2="1063.6" y2="945.1" stroke="#111" stroke-width="1.3" />
<text x="1063.6" y="966.5" font-size="18.5" text-anchor="middle" textLength="26.5" lengthAdjust="spacingAndGlyphs" fill="#111" >2-1</text>
<line x1="1143.4" y1="938.6" x2="1143.4" y2="945.1" stroke="#111" stroke-width="1.3" />
<text x="1143.4" y="966.5" font-size="18.5" text-anchor="middle" textLength="46" lengthAdjust="spacingAndGlyphs" fill="#111" >2-1.5</text>
<line x1="1223.6" y1="938.6" x2="1223.6" y2="945.1" stroke="#111" stroke-width="1.3" />
<text x="1223.6" y="966.5" font-size="18.5" text-anchor="middle" textLength="27.5" lengthAdjust="spacingAndGlyphs" fill="#111" >2-2</text>
<line x1="944.2" y1="938.6" x2="944.2" y2="942.4" stroke="#111" stroke-width="1.3" />
<line x1="1023.7" y1="938.6" x2="1023.7" y2="942.4" stroke="#111" stroke-width="1.3" />
<line x1="1103.5" y1="938.6" x2="1103.5" y2="942.4" stroke="#111" stroke-width="1.3" />
<line x1="1183.3" y1="938.6" x2="1183.3" y2="942.4" stroke="#111" stroke-width="1.3" />
<line x1="1263.1" y1="938.6" x2="1263.1" y2="942.4" stroke="#111" stroke-width="1.3" />
<text x="1103.5" y="997.2" font-size="22.5" text-anchor="middle" textLength="158" lengthAdjust="spacingAndGlyphs" fill="#111" >Thickness (&#181;m)</text>
<text transform="translate(884 820.5) rotate(-90)" font-size="23" text-anchor="middle" textLength="134" lengthAdjust="spacingAndGlyphs" fill="#111" >Current (nA)</text>
<text x="961" y="734" font-size="17.6" fill="#111" textLength="135.5" lengthAdjust="spacingAndGlyphs">c (KCl) =10<tspan font-size="12" dy="-8">-2</tspan><tspan dy="8"> M</tspan></text>
<text x="1092.6" y="675.8" font-size="22.3" fill="#111" textLength="158.5" lengthAdjust="spacingAndGlyphs">T<tspan font-size="13.5">i</tspan>-N-C<tspan font-size="13.5">1</tspan>-C<tspan font-size="13.5">2</tspan> bond</text>
</g>
<g id="panelB">
<text x="440.5" y="29.5" font-size="32" textLength="21" lengthAdjust="spacingAndGlyphs" fill="#111" >B</text>
<text x="455.5" y="124.8" font-size="23" fill="#d7222a" textLength="128.5" lengthAdjust="spacingAndGlyphs">Ti<tspan font-size="13.5">3</tspan>C<tspan font-size="13.5">2</tspan>T<tspan font-size="13.5">x</tspan> layer</text>
<text x="455.5" y="213.5" font-size="23" fill="#2a66b2" textLength="126.5" lengthAdjust="spacingAndGlyphs"><tspan font-style="italic">g</tspan>-C<tspan font-size="13.5">3</tspan>N<tspan font-size="13.5">4</tspan> layer</text>
<text x="588" y="334.3" font-size="23" textLength="192.5" lengthAdjust="spacingAndGlyphs" fill="#2a66b2" >Chitosan molecule</text>
<g stroke-width="0.8" fill="none"><path d="M1226.8 346 V337" stroke="#b040b0"/><path d="M1225.2 339.5 L1226.8 336.5 L1228.3999999999999 339.5 Z" fill="#b040b0" stroke="none"/><path d="M1226.8 346 H1217.8" stroke="#c8c8c8"/><circle cx="1226.8" cy="346" r="1.3" fill="#30a040" stroke="none"/></g><text x="1225.3" y="335" font-size="4.5" fill="#b040b0">Z</text><text x="1212.8" y="347.5" font-size="4.5" fill="#c0c0c0">X</text>
<path d="M612.8 96 V139.5 L598.5 117.8 Z" fill="#9db9e4"/>
<path d="M612.8 185 V228.5 L598.5 206.8 Z" fill="#9db9e4"/>
<path d="M806 305.5 V349 L791.8 327.2 Z" fill="#9db9e4"/>
<path d="M1071.5 361.6 L1106 333.5 L1096.5 359.8 Z" fill="#9db9e4"/>
<g clip-path="url(#clipTop)">
<path d="M686.5 30.5 H1223.3 L1223.3 70 L1215 68 L1200 62 L1175 60 L1150 64 L1120 60 L1095 62 L1082 66 L1074 60 L1060 74 L1040 70 L1020 62 L1005 68 L985 62 L965 64 L940 62 L915 58 L895 62 L880 70 L860 72 L840 76 L822 72 L805 66 L790 76 L775 70 L760 64 L730 62 L715 66 L700 70 L686.5 68 Z" fill="#6cc2dd"/>
<circle cx="686.5" cy="62" r="10" fill="#6cc2dd"/>
<circle cx="700" cy="64" r="10" fill="#6cc2dd"/>
<circle cx="715" cy="60" r="10" fill="#6cc2dd"/>
<circle cx="730" cy="56" r="10" fill="#6cc2dd"/>
<circle cx="760" cy="58" r="10" fill="#6cc2dd"/>
<circle cx="775" cy="64" r="10" fill="#6cc2dd"/>
<circle cx="790" cy="70" r="10" fill="#6cc2dd"/>
<circle cx="805" cy="60" r="10" fill="#6cc2dd"/>
<circle cx="822" cy="66" r="10" fill="#6cc2dd"/>
<circle cx="840" cy="70" r="10" fill="#6cc2dd"/>
<circle cx="860" cy="66" r="10" fill="#6cc2dd"/>
<circle cx="880" cy="64" r="10" fill="#6cc2dd"/>
<circle cx="895" cy="56" r="10" fill="#6cc2dd"/>
<circle cx="915" cy="52" r="10" fill="#6cc2dd"/>
<circle cx="940" cy="56" r="10" fill="#6cc2dd"/>
<circle cx="965" cy="58" r="10" fill="#6cc2dd"/>
<circle cx="985" cy="56" r="10" fill="#6cc2dd"/>
<circle cx="1005" cy="62" r="10" fill="#6cc2dd"/>
<circle cx="1020" cy="56" r="10" fill="#6cc2dd"/>
<circle cx="1040" cy="64" r="10" fill="#6cc2dd"/>
<circle cx="1060" cy="68" r="10" fill="#6cc2dd"/>
<circle cx="1074" cy="54" r="10" fill="#6cc2dd"/>
<circle cx="1082" cy="60" r="10" fill="#6cc2dd"/>
<circle cx="1095" cy="56" r="10" fill="#6cc2dd"/>
<circle cx="1120" cy="54" r="10" fill="#6cc2dd"/>
<circle cx="1150" cy="58" r="10" fill="#6cc2dd"/>
<circle cx="1175" cy="54" r="10" fill="#6cc2dd"/>
<circle cx="1200" cy="56" r="10" fill="#6cc2dd"/>
<circle cx="1215" cy="62" r="10" fill="#6cc2dd"/>
<circle cx="1223.3" cy="64" r="10" fill="#6cc2dd"/>
<circle cx="861.63" cy="38.83" r="11.91" fill="#4eb0d2" fill-opacity="0.28"/>
<circle cx="974.02" cy="45.7" r="8.35" fill="#b4e2f0" fill-opacity="0.3"/>
<circle cx="709.87" cy="47.88" r="8.42" fill="#4eb0d2" fill-opacity="0.28"/>
<circle cx="915" cy="60.46" r="8.74" fill="#4eb0d2" fill-opacity="0.28"/>
<circle cx="1022.54" cy="64.33" r="11.46" fill="#4eb0d2" fill-opacity="0.28"/>
<circle cx="1207.42" cy="35.49" r="13.15" fill="#4eb0d2" fill-opacity="0.28"/>
<circle cx="766.46" cy="37.77" r="9.85" fill="#b4e2f0" fill-opacity="0.3"/>
<circle cx="785.78" cy="52.61" r="11.83" fill="#4eb0d2" fill-opacity="0.28"/>
<circle cx="980.3" cy="36.01" r="8.36" fill="#4eb0d2" fill-opacity="0.28"/>
<circle cx="1050.61" cy="47.68" r="9.88" fill="#b4e2f0" fill-opacity="0.3"/>
<circle cx="930.19" cy="43.59" r="12.77" fill="#b4e2f0" fill-opacity="0.3"/>
<circle cx="819.37" cy="52.38" r="11.15" fill="#b4e2f0" fill-opacity="0.3"/>
<circle cx="1076.61" cy="43.21" r="13.88" fill="#4eb0d2" fill-opacity="0.28"/>
<circle cx="911.61" cy="58.23" r="8.91" fill="#4eb0d2" fill-opacity="0.28"/>
<circle cx="710.78" cy="55.38" r="12.59" fill="#b4e2f0" fill-opacity="0.3"/>
<circle cx="1154" cy="44.04" r="12.17" fill="#b4e2f0" fill-opacity="0.3"/>
<circle cx="997.34" cy="48.6" r="13.04" fill="#b4e2f0" fill-opacity="0.3"/>
<circle cx="941.27" cy="55.25" r="8.36" fill="#b4e2f0" fill-opacity="0.3"/>
<circle cx="1032.98" cy="65.78" r="12.93" fill="#4eb0d2" fill-opacity="0.28"/>
<circle cx="894.47" cy="55.4" r="8.14" fill="#4eb0d2" fill-opacity="0.28"/>
<circle cx="779.07" cy="37.75" r="8.35" fill="#b4e2f0" fill-opacity="0.3"/>
<circle cx="758.55" cy="41.92" r="10.35" fill="#b4e2f0" fill-opacity="0.3"/>
<circle cx="732.71" cy="48.37" r="11.3" fill="#b4e2f0" fill-opacity="0.3"/>
<circle cx="1124.22" cy="61.65" r="9.67" fill="#4eb0d2" fill-opacity="0.28"/>
<circle cx="880.15" cy="62.29" r="13.75" fill="#4eb0d2" fill-opacity="0.28"/>
<circle cx="783.4" cy="41.42" r="9.4" fill="#4eb0d2" fill-opacity="0.28"/>
<circle cx="1002.24" cy="42.41" r="8.02" fill="#4eb0d2" fill-opacity="0.28"/>
<circle cx="885.7" cy="52.12" r="13.72" fill="#b4e2f0" fill-opacity="0.3"/>
<circle cx="963.21" cy="53.76" r="12.06" fill="#4eb0d2" fill-opacity="0.28"/>
<circle cx="1166.75" cy="58.96" r="13.25" fill="#b4e2f0" fill-opacity="0.3"/>
<circle cx="897.96" cy="46.77" r="8.62" fill="#b4e2f0" fill-opacity="0.3"/>
<circle cx="722.99" cy="36.16" r="9.25" fill="#4eb0d2" fill-opacity="0.28"/>
<circle cx="870.23" cy="35.68" r="8" fill="#4eb0d2" fill-opacity="0.28"/>
<circle cx="743.78" cy="45.64" r="8.15" fill="#b4e2f0" fill-opacity="0.3"/>
<circle cx="1015.46" cy="38.75" r="9.51" fill="#4eb0d2" fill-opacity="0.28"/>
<circle cx="883.01" cy="37.93" r="13.09" fill="#b4e2f0" fill-opacity="0.3"/>
<circle cx="936.97" cy="49.48" r="8.52" fill="#4eb0d2" fill-opacity="0.28"/>
<circle cx="871.6" cy="42.47" r="12.97" fill="#4eb0d2" fill-opacity="0.28"/>
<circle cx="702.24" cy="64.43" r="11.17" fill="#4eb0d2" fill-opacity="0.28"/>
<circle cx="977.88" cy="34.87" r="11.17" fill="#b4e2f0" fill-opacity="0.3"/>
<circle cx="1147.56" cy="56.28" r="9.57" fill="#4eb0d2" fill-opacity="0.28"/>
<circle cx="778.53" cy="58.7" r="11.2" fill="#b4e2f0" fill-opacity="0.3"/>
<circle cx="864.72" cy="41.14" r="12.87" fill="#b4e2f0" fill-opacity="0.3"/>
<circle cx="1141.89" cy="59.79" r="12.91" fill="#b4e2f0" fill-opacity="0.3"/>
<circle cx="810.17" cy="50.56" r="10.13" fill="#4eb0d2" fill-opacity="0.28"/>
<circle cx="704.81" cy="42.94" r="9.56" fill="#b4e2f0" fill-opacity="0.3"/>
<circle cx="1196.95" cy="48.31" r="13.62" fill="#b4e2f0" fill-opacity="0.3"/>
<circle cx="1196.15" cy="45.67" r="9.32" fill="#4eb0d2" fill-opacity="0.28"/>
<circle cx="794.25" cy="40.54" r="11.74" fill="#b4e2f0" fill-opacity="0.3"/>
<circle cx="1135.43" cy="49.34" r="11.92" fill="#b4e2f0" fill-opacity="0.3"/>
<circle cx="734.93" cy="55.14" r="13.46" fill="#b4e2f0" fill-opacity="0.3"/>
<circle cx="1087.57" cy="49.3" r="9.07" fill="#b4e2f0" fill-opacity="0.3"/>
<circle cx="866.23" cy="59.63" r="13.83" fill="#4eb0d2" fill-opacity="0.28"/>
<circle cx="902.74" cy="64.3" r="12.35" fill="#4eb0d2" fill-opacity="0.28"/>
<circle cx="757.33" cy="38.84" r="13.43" fill="#b4e2f0" fill-opacity="0.3"/>
<circle cx="767.47" cy="60.45" r="13.88" fill="#b4e2f0" fill-opacity="0.3"/>
<circle cx="875.72" cy="51.56" r="8.79" fill="#4eb0d2" fill-opacity="0.28"/>
<circle cx="1204.57" cy="54.79" r="11.16" fill="#b4e2f0" fill-opacity="0.3"/>
<circle cx="919.92" cy="61.9" r="12.96" fill="#4eb0d2" fill-opacity="0.28"/>
<circle cx="823.47" cy="43.37" r="9.44" fill="#b4e2f0" fill-opacity="0.3"/>
<path d="M722 217 L760 215 L800 216 L850 220 L890 216 L930 213 L970 214 L1000 213 L1050 206 L1100 206 L1160 204 L1212 206" fill="none" stroke="#86cfe7" stroke-width="36" stroke-linecap="round" stroke-linejoin="round"/>
<g opacity="0.9" fill="#86cfe7">
<circle cx="842.2" cy="217.46" r="8.52"/>
<circle cx="1168.83" cy="200.08" r="9.83"/>
<circle cx="1004.84" cy="227.88" r="9.68"/>
<circle cx="1172.7" cy="205.55" r="10.13"/>
<circle cx="974.8" cy="197.51" r="9.76"/>
<circle cx="803.92" cy="199.46" r="11.2"/>
<circle cx="798.52" cy="216.01" r="10.9"/>
<circle cx="991.35" cy="208.02" r="10.07"/>
<circle cx="990.83" cy="224.54" r="8.42"/>
<circle cx="993.27" cy="205.17" r="9.11"/>
<circle cx="1099.68" cy="207.28" r="10.25"/>
<circle cx="1093.52" cy="221.85" r="9.77"/>
<circle cx="1019.49" cy="211.47" r="10.05"/>
<circle cx="1059.75" cy="205.28" r="10.13"/>
<circle cx="951.97" cy="230.44" r="10.8"/>
<circle cx="1152.02" cy="221.18" r="9.04"/>
<circle cx="992.88" cy="230.2" r="11.36"/>
<circle cx="780.84" cy="202.9" r="9.77"/>
<circle cx="748.42" cy="207.27" r="8.29"/>
<circle cx="1048.08" cy="217.49" r="11.59"/>
<circle cx="789.53" cy="224.52" r="10.64"/>
<circle cx="783.78" cy="230.38" r="11.87"/>
<circle cx="822.23" cy="235.07" r="9.59"/>
<circle cx="956.6" cy="232.3" r="11.33"/>
<circle cx="793.06" cy="214.36" r="10.06"/>
<circle cx="882.24" cy="206.82" r="9.27"/>
<circle cx="1074.52" cy="189.7" r="10.22"/>
<circle cx="933.11" cy="196.73" r="9.33"/>
<circle cx="1025.21" cy="210.91" r="8.26"/>
<circle cx="1206.51" cy="217.17" r="11.89"/>
<circle cx="764.6" cy="207.68" r="8.16"/>
<circle cx="1103.06" cy="198.63" r="8.52"/>
<circle cx="923.97" cy="229.26" r="11.28"/>
<circle cx="841.82" cy="207.72" r="11.68"/>
<circle cx="998.44" cy="221.27" r="8.36"/>
<circle cx="740.88" cy="223.78" r="9.7"/>
<circle cx="748.35" cy="232.39" r="10.54"/>
<circle cx="1114.42" cy="191.53" r="11.42"/>
<circle cx="745.44" cy="229.83" r="9.82"/>
<circle cx="882.25" cy="219.68" r="11.71"/>
<circle cx="846.47" cy="207.37" r="10.11"/>
<circle cx="831.69" cy="205.48" r="8.65"/>
<circle cx="737.29" cy="206.46" r="9.25"/>
<circle cx="865.11" cy="228.83" r="9.16"/>
<circle cx="963.04" cy="203.23" r="9.39"/>
<circle cx="721.12" cy="205.02" r="8.06"/>
<circle cx="1080.01" cy="208.84" r="8.76"/>
<circle cx="950.33" cy="230.16" r="8.43"/>
<circle cx="1123.1" cy="203.79" r="9.98"/>
<circle cx="1130.98" cy="202.12" r="10.03"/>
<circle cx="1057.25" cy="224.37" r="9.37"/>
<circle cx="1129.81" cy="213.45" r="10.54"/>
<circle cx="915.16" cy="209.63" r="8.22"/>
<circle cx="777.17" cy="200.98" r="10.96"/>
<circle cx="840.31" cy="208.1" r="8.34"/>
<circle cx="1134.32" cy="219.2" r="10.68"/>
<circle cx="853.53" cy="211.37" r="9.17"/>
<circle cx="942.65" cy="201.99" r="9.78"/>
<circle cx="844.15" cy="237.16" r="11.89"/>
<circle cx="986.63" cy="205.25" r="11.86"/>
<circle cx="867.39" cy="214.1" r="8"/>
<circle cx="903.58" cy="215.07" r="10.01"/>
<circle cx="812.89" cy="218.2" r="8.02"/>
<circle cx="844.61" cy="205.8" r="9.6"/>
<circle cx="732.92" cy="200.24" r="9.22"/>
<circle cx="828.87" cy="222.39" r="10.12"/>
<circle cx="1088.77" cy="212.67" r="10.86"/>
<circle cx="1153.3" cy="201.25" r="9.3"/>
<circle cx="1206.33" cy="194.16" r="10.9"/>
<circle cx="1034.9" cy="192.69" r="11.34"/>
</g>
<circle cx="840.67" cy="215.76" r="5.29" fill="#c4eaf5" fill-opacity="0.22"/>
<path d="M850.3 214.9 A8.52 8.52 0 0 1 839.64 225.56" fill="none" stroke="#4fb0d2" stroke-opacity="0.28" stroke-width="1.1"/>
<circle cx="1167.06" cy="198.11" r="6.1" fill="#c4eaf5" fill-opacity="0.22"/>
<path d="M1178.17 197.13 A9.83 9.83 0 0 1 1165.88 209.42" fill="none" stroke="#4fb0d2" stroke-opacity="0.28" stroke-width="1.1"/>
<circle cx="1003.1" cy="225.94" r="6" fill="#c4eaf5" fill-opacity="0.22"/>
<path d="M1014.04 224.97 A9.68 9.68 0 0 1 1001.94 237.08" fill="none" stroke="#4fb0d2" stroke-opacity="0.28" stroke-width="1.1"/>
<circle cx="1170.87" cy="203.52" r="6.28" fill="#c4eaf5" fill-opacity="0.22"/>
<path d="M1182.32 202.51 A10.13 10.13 0 0 1 1169.66 215.17" fill="none" stroke="#4fb0d2" stroke-opacity="0.28" stroke-width="1.1"/>
<circle cx="973.04" cy="195.56" r="6.05" fill="#c4eaf5" fill-opacity="0.22"/>
<path d="M984.07 194.59 A9.76 9.76 0 0 1 971.87 206.79" fill="none" stroke="#4fb0d2" stroke-opacity="0.28" stroke-width="1.1"/>
<circle cx="801.9" cy="197.22" r="6.94" fill="#c4eaf5" fill-opacity="0.22"/>
<path d="M814.56 196.1 A11.2 11.2 0 0 1 800.56 210.09" fill="none" stroke="#4fb0d2" stroke-opacity="0.28" stroke-width="1.1"/>
<circle cx="796.56" cy="213.83" r="6.76" fill="#c4eaf5" fill-opacity="0.22"/>
<path d="M808.87 212.74 A10.9 10.9 0 0 1 795.25 226.36" fill="none" stroke="#4fb0d2" stroke-opacity="0.28" stroke-width="1.1"/>
<circle cx="989.54" cy="206.01" r="6.25" fill="#c4eaf5" fill-opacity="0.22"/>
<path d="M1000.92 205 A10.07 10.07 0 0 1 988.33 217.59" fill="none" stroke="#4fb0d2" stroke-opacity="0.28" stroke-width="1.1"/>
<circle cx="989.32" cy="222.85" r="5.22" fill="#c4eaf5" fill-opacity="0.22"/>
<path d="M998.84 222.01 A8.42 8.42 0 0 1 988.3 232.54" fill="none" stroke="#4fb0d2" stroke-opacity="0.28" stroke-width="1.1"/>
<circle cx="991.63" cy="203.35" r="5.65" fill="#c4eaf5" fill-opacity="0.22"/>
<path d="M1001.92 202.44 A9.11 9.11 0 0 1 990.54 213.82" fill="none" stroke="#4fb0d2" stroke-opacity="0.28" stroke-width="1.1"/>
<circle cx="1097.83" cy="205.23" r="6.35" fill="#c4eaf5" fill-opacity="0.22"/>
<path d="M1109.41 204.2 A10.25 10.25 0 0 1 1096.6 217.01" fill="none" stroke="#4fb0d2" stroke-opacity="0.28" stroke-width="1.1"/>
<circle cx="1091.76" cy="219.89" r="6.06" fill="#c4eaf5" fill-opacity="0.22"/>
<path d="M1102.8 218.92 A9.77 9.77 0 0 1 1090.58 231.13" fill="none" stroke="#4fb0d2" stroke-opacity="0.28" stroke-width="1.1"/>
<circle cx="1017.68" cy="209.46" r="6.23" fill="#c4eaf5" fill-opacity="0.22"/>
<path d="M1029.04 208.46 A10.05 10.05 0 0 1 1016.47 221.02" fill="none" stroke="#4fb0d2" stroke-opacity="0.28" stroke-width="1.1"/>
<circle cx="1057.93" cy="203.26" r="6.28" fill="#c4eaf5" fill-opacity="0.22"/>
<path d="M1069.38 202.24 A10.13 10.13 0 0 1 1056.71 214.91" fill="none" stroke="#4fb0d2" stroke-opacity="0.28" stroke-width="1.1"/>
<circle cx="950.03" cy="228.28" r="6.69" fill="#c4eaf5" fill-opacity="0.22"/>
<path d="M962.23 227.2 A10.8 10.8 0 0 1 948.74 240.7" fill="none" stroke="#4fb0d2" stroke-opacity="0.28" stroke-width="1.1"/>
<circle cx="1150.39" cy="219.38" r="5.6" fill="#c4eaf5" fill-opacity="0.22"/>
<path d="M1160.61 218.47 A9.04 9.04 0 0 1 1149.31 229.77" fill="none" stroke="#4fb0d2" stroke-opacity="0.28" stroke-width="1.1"/>
<circle cx="990.83" cy="227.92" r="7.04" fill="#c4eaf5" fill-opacity="0.22"/>
<path d="M1003.67 226.79 A11.36 11.36 0 0 1 989.47 240.99" fill="none" stroke="#4fb0d2" stroke-opacity="0.28" stroke-width="1.1"/>
<circle cx="779.08" cy="200.95" r="6.06" fill="#c4eaf5" fill-opacity="0.22"/>
<path d="M790.12 199.97 A9.77 9.77 0 0 1 777.91 212.18" fill="none" stroke="#4fb0d2" stroke-opacity="0.28" stroke-width="1.1"/>
<circle cx="746.93" cy="205.61" r="5.14" fill="#c4eaf5" fill-opacity="0.22"/>
<path d="M756.3 204.78 A8.29 8.29 0 0 1 745.93 215.15" fill="none" stroke="#4fb0d2" stroke-opacity="0.28" stroke-width="1.1"/>
<circle cx="1045.99" cy="215.17" r="7.18" fill="#c4eaf5" fill-opacity="0.22"/>
<path d="M1059.08 214.01 A11.59 11.59 0 0 1 1044.6 228.5" fill="none" stroke="#4fb0d2" stroke-opacity="0.28" stroke-width="1.1"/>
<circle cx="787.62" cy="222.39" r="6.6" fill="#c4eaf5" fill-opacity="0.22"/>
<path d="M799.64 221.33 A10.64 10.64 0 0 1 786.34 234.63" fill="none" stroke="#4fb0d2" stroke-opacity="0.28" stroke-width="1.1"/>
<circle cx="781.64" cy="228" r="7.36" fill="#c4eaf5" fill-opacity="0.22"/>
<path d="M795.05 226.82 A11.87 11.87 0 0 1 780.21 241.65" fill="none" stroke="#4fb0d2" stroke-opacity="0.28" stroke-width="1.1"/>
<circle cx="820.51" cy="233.15" r="5.95" fill="#c4eaf5" fill-opacity="0.22"/>
<path d="M831.35 232.19 A9.59 9.59 0 0 1 819.36 244.18" fill="none" stroke="#4fb0d2" stroke-opacity="0.28" stroke-width="1.1"/>
<circle cx="954.57" cy="230.03" r="7.02" fill="#c4eaf5" fill-opacity="0.22"/>
<path d="M967.37 228.9 A11.33 11.33 0 0 1 953.21 243.06" fill="none" stroke="#4fb0d2" stroke-opacity="0.28" stroke-width="1.1"/>
<circle cx="791.24" cy="212.35" r="6.24" fill="#c4eaf5" fill-opacity="0.22"/>
<path d="M802.62 211.34 A10.06 10.06 0 0 1 790.04 223.92" fill="none" stroke="#4fb0d2" stroke-opacity="0.28" stroke-width="1.1"/>
<circle cx="880.57" cy="204.97" r="5.75" fill="#c4eaf5" fill-opacity="0.22"/>
<path d="M891.05 204.04 A9.27 9.27 0 0 1 879.45 215.63" fill="none" stroke="#4fb0d2" stroke-opacity="0.28" stroke-width="1.1"/>
<circle cx="1072.68" cy="187.66" r="6.33" fill="#c4eaf5" fill-opacity="0.22"/>
<path d="M1084.23 186.64 A10.22 10.22 0 0 1 1071.45 199.41" fill="none" stroke="#4fb0d2" stroke-opacity="0.28" stroke-width="1.1"/>
<circle cx="931.43" cy="194.86" r="5.78" fill="#c4eaf5" fill-opacity="0.22"/>
<path d="M941.97 193.93 A9.33 9.33 0 0 1 930.31 205.59" fill="none" stroke="#4fb0d2" stroke-opacity="0.28" stroke-width="1.1"/>
<circle cx="1023.73" cy="209.26" r="5.12" fill="#c4eaf5" fill-opacity="0.22"/>
<path d="M1033.06 208.43 A8.26 8.26 0 0 1 1022.73 218.76" fill="none" stroke="#4fb0d2" stroke-opacity="0.28" stroke-width="1.1"/>
<circle cx="1204.37" cy="214.79" r="7.37" fill="#c4eaf5" fill-opacity="0.22"/>
<path d="M1217.8 213.6 A11.89 11.89 0 0 1 1202.95 228.46" fill="none" stroke="#4fb0d2" stroke-opacity="0.28" stroke-width="1.1"/>
<circle cx="763.13" cy="206.04" r="5.06" fill="#c4eaf5" fill-opacity="0.22"/>
<path d="M772.35 205.23 A8.16 8.16 0 0 1 762.15 215.43" fill="none" stroke="#4fb0d2" stroke-opacity="0.28" stroke-width="1.1"/>
<circle cx="1101.52" cy="196.93" r="5.28" fill="#c4eaf5" fill-opacity="0.22"/>
<path d="M1111.15 196.08 A8.52 8.52 0 0 1 1100.5 206.73" fill="none" stroke="#4fb0d2" stroke-opacity="0.28" stroke-width="1.1"/>
<circle cx="921.94" cy="227.01" r="6.99" fill="#c4eaf5" fill-opacity="0.22"/>
<path d="M934.68 225.88 A11.28 11.28 0 0 1 920.59 239.98" fill="none" stroke="#4fb0d2" stroke-opacity="0.28" stroke-width="1.1"/>
<circle cx="839.72" cy="205.39" r="7.24" fill="#c4eaf5" fill-opacity="0.22"/>
<path d="M852.91 204.22 A11.68 11.68 0 0 1 838.32 218.82" fill="none" stroke="#4fb0d2" stroke-opacity="0.28" stroke-width="1.1"/>
<circle cx="996.93" cy="219.6" r="5.18" fill="#c4eaf5" fill-opacity="0.22"/>
<path d="M1006.38 218.76 A8.36 8.36 0 0 1 995.93 229.21" fill="none" stroke="#4fb0d2" stroke-opacity="0.28" stroke-width="1.1"/>
<circle cx="739.13" cy="221.84" r="6.01" fill="#c4eaf5" fill-opacity="0.22"/>
<path d="M750.09 220.87 A9.7 9.7 0 0 1 737.97 233" fill="none" stroke="#4fb0d2" stroke-opacity="0.28" stroke-width="1.1"/>
<circle cx="746.46" cy="230.29" r="6.53" fill="#c4eaf5" fill-opacity="0.22"/>
<path d="M758.36 229.23 A10.54 10.54 0 0 1 745.19 242.4" fill="none" stroke="#4fb0d2" stroke-opacity="0.28" stroke-width="1.1"/>
<circle cx="1112.36" cy="189.25" r="7.08" fill="#c4eaf5" fill-opacity="0.22"/>
<path d="M1125.27 188.11 A11.42 11.42 0 0 1 1110.99 202.39" fill="none" stroke="#4fb0d2" stroke-opacity="0.28" stroke-width="1.1"/>
<circle cx="743.68" cy="227.86" r="6.09" fill="#c4eaf5" fill-opacity="0.22"/>
<path d="M754.77 226.88 A9.82 9.82 0 0 1 742.5 239.15" fill="none" stroke="#4fb0d2" stroke-opacity="0.28" stroke-width="1.1"/>
<circle cx="880.15" cy="217.34" r="7.26" fill="#c4eaf5" fill-opacity="0.22"/>
<path d="M893.38 216.17 A11.71 11.71 0 0 1 878.74 230.81" fill="none" stroke="#4fb0d2" stroke-opacity="0.28" stroke-width="1.1"/>
<circle cx="844.65" cy="205.35" r="6.27" fill="#c4eaf5" fill-opacity="0.22"/>
<path d="M856.07 204.34 A10.11 10.11 0 0 1 843.43 216.97" fill="none" stroke="#4fb0d2" stroke-opacity="0.28" stroke-width="1.1"/>
<circle cx="830.14" cy="203.75" r="5.36" fill="#c4eaf5" fill-opacity="0.22"/>
<path d="M839.91 202.88 A8.65 8.65 0 0 1 829.1 213.69" fill="none" stroke="#4fb0d2" stroke-opacity="0.28" stroke-width="1.1"/>
<circle cx="735.63" cy="204.61" r="5.73" fill="#c4eaf5" fill-opacity="0.22"/>
<path d="M746.08 203.68 A9.25 9.25 0 0 1 734.52 215.24" fill="none" stroke="#4fb0d2" stroke-opacity="0.28" stroke-width="1.1"/>
<circle cx="863.46" cy="227" r="5.68" fill="#c4eaf5" fill-opacity="0.22"/>
<path d="M873.81 226.08 A9.16 9.16 0 0 1 862.36 237.53" fill="none" stroke="#4fb0d2" stroke-opacity="0.28" stroke-width="1.1"/>
<circle cx="961.35" cy="201.35" r="5.82" fill="#c4eaf5" fill-opacity="0.22"/>
<path d="M971.96 200.41 A9.39 9.39 0 0 1 960.23 212.15" fill="none" stroke="#4fb0d2" stroke-opacity="0.28" stroke-width="1.1"/>
<circle cx="719.67" cy="203.4" r="5" fill="#c4eaf5" fill-opacity="0.22"/>
<path d="M728.78 202.6 A8.06 8.06 0 0 1 718.7 212.67" fill="none" stroke="#4fb0d2" stroke-opacity="0.28" stroke-width="1.1"/>
<circle cx="1078.43" cy="207.09" r="5.43" fill="#c4eaf5" fill-opacity="0.22"/>
<path d="M1088.33 206.21 A8.76 8.76 0 0 1 1077.38 217.16" fill="none" stroke="#4fb0d2" stroke-opacity="0.28" stroke-width="1.1"/>
<circle cx="948.81" cy="228.47" r="5.22" fill="#c4eaf5" fill-opacity="0.22"/>
<path d="M958.33 227.63 A8.43 8.43 0 0 1 947.8 238.16" fill="none" stroke="#4fb0d2" stroke-opacity="0.28" stroke-width="1.1"/>
<circle cx="1121.3" cy="201.79" r="6.19" fill="#c4eaf5" fill-opacity="0.22"/>
<path d="M1132.58 200.79 A9.98 9.98 0 0 1 1120.1 213.27" fill="none" stroke="#4fb0d2" stroke-opacity="0.28" stroke-width="1.1"/>
<circle cx="1129.17" cy="200.11" r="6.22" fill="#c4eaf5" fill-opacity="0.22"/>
<path d="M1140.5 199.11 A10.03 10.03 0 0 1 1127.97 211.64" fill="none" stroke="#4fb0d2" stroke-opacity="0.28" stroke-width="1.1"/>
<circle cx="1055.56" cy="222.49" r="5.81" fill="#c4eaf5" fill-opacity="0.22"/>
<path d="M1066.15 221.56 A9.37 9.37 0 0 1 1054.44 233.27" fill="none" stroke="#4fb0d2" stroke-opacity="0.28" stroke-width="1.1"/>
<circle cx="1127.91" cy="211.34" r="6.54" fill="#c4eaf5" fill-opacity="0.22"/>
<path d="M1139.82 210.29 A10.54 10.54 0 0 1 1126.64 223.47" fill="none" stroke="#4fb0d2" stroke-opacity="0.28" stroke-width="1.1"/>
<circle cx="913.68" cy="207.98" r="5.09" fill="#c4eaf5" fill-opacity="0.22"/>
<path d="M922.96 207.16 A8.22 8.22 0 0 1 912.69 217.43" fill="none" stroke="#4fb0d2" stroke-opacity="0.28" stroke-width="1.1"/>
<circle cx="775.2" cy="198.78" r="6.8" fill="#c4eaf5" fill-opacity="0.22"/>
<path d="M787.58 197.69 A10.96 10.96 0 0 1 773.88 211.39" fill="none" stroke="#4fb0d2" stroke-opacity="0.28" stroke-width="1.1"/>
<circle cx="838.81" cy="206.43" r="5.17" fill="#c4eaf5" fill-opacity="0.22"/>
<path d="M848.23 205.6 A8.34 8.34 0 0 1 837.81 216.02" fill="none" stroke="#4fb0d2" stroke-opacity="0.28" stroke-width="1.1"/>
<circle cx="1132.39" cy="217.06" r="6.62" fill="#c4eaf5" fill-opacity="0.22"/>
<path d="M1144.47 215.99 A10.68 10.68 0 0 1 1131.11 229.34" fill="none" stroke="#4fb0d2" stroke-opacity="0.28" stroke-width="1.1"/>
<circle cx="851.88" cy="209.53" r="5.69" fill="#c4eaf5" fill-opacity="0.22"/>
<path d="M862.24 208.61 A9.17 9.17 0 0 1 850.78 220.08" fill="none" stroke="#4fb0d2" stroke-opacity="0.28" stroke-width="1.1"/>
<circle cx="940.88" cy="200.03" r="6.07" fill="#c4eaf5" fill-opacity="0.22"/>
<path d="M951.94 199.05 A9.78 9.78 0 0 1 939.71 211.28" fill="none" stroke="#4fb0d2" stroke-opacity="0.28" stroke-width="1.1"/>
<circle cx="842.01" cy="234.78" r="7.37" fill="#c4eaf5" fill-opacity="0.22"/>
<path d="M855.44 233.59 A11.89 11.89 0 0 1 840.58 248.45" fill="none" stroke="#4fb0d2" stroke-opacity="0.28" stroke-width="1.1"/>
<circle cx="984.5" cy="202.87" r="7.35" fill="#c4eaf5" fill-opacity="0.22"/>
<path d="M997.9 201.69 A11.86 11.86 0 0 1 983.07 216.52" fill="none" stroke="#4fb0d2" stroke-opacity="0.28" stroke-width="1.1"/>
<circle cx="865.95" cy="212.5" r="4.96" fill="#c4eaf5" fill-opacity="0.22"/>
<path d="M875 211.7 A8 8 0 0 1 864.99 221.7" fill="none" stroke="#4fb0d2" stroke-opacity="0.28" stroke-width="1.1"/>
<circle cx="901.77" cy="213.07" r="6.21" fill="#c4eaf5" fill-opacity="0.22"/>
<path d="M913.09 212.07 A10.01 10.01 0 0 1 900.57 224.58" fill="none" stroke="#4fb0d2" stroke-opacity="0.28" stroke-width="1.1"/>
<circle cx="811.45" cy="216.6" r="4.97" fill="#c4eaf5" fill-opacity="0.22"/>
<path d="M820.51 215.8 A8.02 8.02 0 0 1 810.49 225.82" fill="none" stroke="#4fb0d2" stroke-opacity="0.28" stroke-width="1.1"/>
<circle cx="842.89" cy="203.88" r="5.95" fill="#c4eaf5" fill-opacity="0.22"/>
<path d="M853.73 202.92 A9.6 9.6 0 0 1 841.73 214.92" fill="none" stroke="#4fb0d2" stroke-opacity="0.28" stroke-width="1.1"/>
<circle cx="731.26" cy="198.39" r="5.71" fill="#c4eaf5" fill-opacity="0.22"/>
<path d="M741.67 197.47 A9.22 9.22 0 0 1 730.15 208.99" fill="none" stroke="#4fb0d2" stroke-opacity="0.28" stroke-width="1.1"/>
<circle cx="827.05" cy="220.37" r="6.27" fill="#c4eaf5" fill-opacity="0.22"/>
<path d="M838.48 219.36 A10.12 10.12 0 0 1 825.84 232" fill="none" stroke="#4fb0d2" stroke-opacity="0.28" stroke-width="1.1"/>
<circle cx="1086.82" cy="210.5" r="6.74" fill="#c4eaf5" fill-opacity="0.22"/>
<path d="M1099.09 209.41 A10.86 10.86 0 0 1 1085.51 222.99" fill="none" stroke="#4fb0d2" stroke-opacity="0.28" stroke-width="1.1"/>
<circle cx="1151.63" cy="199.38" r="5.77" fill="#c4eaf5" fill-opacity="0.22"/>
<path d="M1162.14 198.45 A9.3 9.3 0 0 1 1150.51 210.09" fill="none" stroke="#4fb0d2" stroke-opacity="0.28" stroke-width="1.1"/>
<circle cx="1204.37" cy="191.98" r="6.76" fill="#c4eaf5" fill-opacity="0.22"/>
<path d="M1216.69 190.89 A10.9 10.9 0 0 1 1203.07 204.51" fill="none" stroke="#4fb0d2" stroke-opacity="0.28" stroke-width="1.1"/>
<circle cx="1032.85" cy="190.42" r="7.03" fill="#c4eaf5" fill-opacity="0.22"/>
<path d="M1045.67 189.29 A11.34 11.34 0 0 1 1031.49 203.47" fill="none" stroke="#4fb0d2" stroke-opacity="0.28" stroke-width="1.1"/>
<g opacity="0.88" fill="#80cce5">
<circle cx="737.22" cy="87.22" r="15.51"/>
<circle cx="726.88" cy="115.66" r="19.39"/>
<circle cx="747.56" cy="97.56" r="12.93"/>
<circle cx="757.9" cy="84.63" r="10.34"/>
<circle cx="781.17" cy="63.95" r="12.93"/>
<circle cx="804.44" cy="71.71" r="10.86"/>
<circle cx="822.53" cy="80.75" r="10.34"/>
<circle cx="816.07" cy="105.32" r="12.41"/>
<circle cx="791.51" cy="120.83" r="10.34"/>
<circle cx="778.58" cy="128.58" r="10.34"/>
<circle cx="703.61" cy="97.56" r="7.76"/>
<circle cx="734.63" cy="133.75" r="10.34"/>
<circle cx="701.02" cy="154.44" r="8.27"/>
<circle cx="737.22" cy="164.78" r="10.34"/>
<circle cx="768.24" cy="175.12" r="12.93"/>
<circle cx="791.51" cy="169.95" r="12.93"/>
<circle cx="747.56" cy="154.44" r="7.76"/>
<circle cx="721.71" cy="69.12" r="11.63"/>
<circle cx="698.44" cy="66.54" r="10.34"/>
<circle cx="875.51" cy="74.29" r="15.51"/>
<circle cx="896.19" cy="107.9" r="15.51"/>
<circle cx="891.02" cy="128.58" r="13.44"/>
<circle cx="911.71" cy="133.75" r="10.34"/>
<circle cx="906.54" cy="146.68" r="10.34"/>
<circle cx="984.1" cy="123.41" r="18.61"/>
<circle cx="994.44" cy="141.51" r="13.44"/>
<circle cx="973.75" cy="105.32" r="10.34"/>
<circle cx="1006.07" cy="97.56" r="10.86"/>
<circle cx="1000.9" cy="67.83" r="12.93"/>
<circle cx="885.85" cy="180.29" r="10.34"/>
<circle cx="875.51" cy="164.78" r="7.76"/>
<circle cx="919.46" cy="61.37" r="12.93"/>
<circle cx="945.32" cy="58.78" r="11.63"/>
<circle cx="973.75" cy="58.78" r="12.93"/>
<circle cx="1065.51" cy="61.37" r="12.93"/>
<circle cx="1088.78" cy="63.95" r="14.22"/>
<circle cx="1114.63" cy="58.78" r="15.51"/>
<circle cx="1135.32" cy="58.78" r="12.93"/>
<circle cx="1158.58" cy="67.83" r="12.93"/>
<circle cx="1212.87" cy="71.71" r="8.27"/>
<circle cx="1148.24" cy="131.17" r="18.61"/>
<circle cx="1132.73" cy="145.39" r="10.86"/>
<circle cx="1168.92" cy="123.41" r="10.86"/>
<circle cx="1153.41" cy="155.73" r="8.27"/>
<circle cx="1117.22" cy="88.51" r="7.76"/>
<circle cx="1194.78" cy="58.78" r="12.93"/>
</g>
<circle cx="734.43" cy="84.12" r="9.62" fill="#c4eaf5" fill-opacity="0.22"/>
<path d="M751.95 82.56 A15.51 15.51 0 0 1 732.56 101.95" fill="none" stroke="#4fb0d2" stroke-opacity="0.28" stroke-width="1.1"/>
<circle cx="723.39" cy="111.78" r="12.02" fill="#c4eaf5" fill-opacity="0.22"/>
<path d="M745.3 109.84 A19.39 19.39 0 0 1 721.06 134.08" fill="none" stroke="#4fb0d2" stroke-opacity="0.28" stroke-width="1.1"/>
<circle cx="745.23" cy="94.97" r="8.01" fill="#c4eaf5" fill-opacity="0.22"/>
<path d="M759.84 93.68 A12.93 12.93 0 0 1 743.68 109.84" fill="none" stroke="#4fb0d2" stroke-opacity="0.28" stroke-width="1.1"/>
<circle cx="756.04" cy="82.56" r="6.41" fill="#c4eaf5" fill-opacity="0.22"/>
<path d="M767.72 81.53 A10.34 10.34 0 0 1 754.8 94.46" fill="none" stroke="#4fb0d2" stroke-opacity="0.28" stroke-width="1.1"/>
<circle cx="778.84" cy="61.37" r="8.01" fill="#c4eaf5" fill-opacity="0.22"/>
<path d="M793.45 60.07 A12.93 12.93 0 0 1 777.29 76.23" fill="none" stroke="#4fb0d2" stroke-opacity="0.28" stroke-width="1.1"/>
<circle cx="802.48" cy="69.53" r="6.73" fill="#c4eaf5" fill-opacity="0.22"/>
<path d="M814.75 68.45 A10.86 10.86 0 0 1 801.18 82.02" fill="none" stroke="#4fb0d2" stroke-opacity="0.28" stroke-width="1.1"/>
<circle cx="820.67" cy="78.69" r="6.41" fill="#c4eaf5" fill-opacity="0.22"/>
<path d="M832.36 77.65 A10.34 10.34 0 0 1 819.43 90.58" fill="none" stroke="#4fb0d2" stroke-opacity="0.28" stroke-width="1.1"/>
<circle cx="813.84" cy="102.83" r="7.69" fill="#c4eaf5" fill-opacity="0.22"/>
<path d="M827.86 101.59 A12.41 12.41 0 0 1 812.35 117.1" fill="none" stroke="#4fb0d2" stroke-opacity="0.28" stroke-width="1.1"/>
<circle cx="789.65" cy="118.76" r="6.41" fill="#c4eaf5" fill-opacity="0.22"/>
<path d="M801.33 117.72 A10.34 10.34 0 0 1 788.41 130.65" fill="none" stroke="#4fb0d2" stroke-opacity="0.28" stroke-width="1.1"/>
<circle cx="776.72" cy="126.51" r="6.41" fill="#c4eaf5" fill-opacity="0.22"/>
<path d="M788.41 125.48 A10.34 10.34 0 0 1 775.48 138.41" fill="none" stroke="#4fb0d2" stroke-opacity="0.28" stroke-width="1.1"/>
<circle cx="702.21" cy="96.01" r="4.81" fill="#c4eaf5" fill-opacity="0.22"/>
<path d="M710.98 95.23 A7.76 7.76 0 0 1 701.28 104.93" fill="none" stroke="#4fb0d2" stroke-opacity="0.28" stroke-width="1.1"/>
<circle cx="732.77" cy="131.69" r="6.41" fill="#c4eaf5" fill-opacity="0.22"/>
<path d="M744.46 130.65 A10.34 10.34 0 0 1 731.53 143.58" fill="none" stroke="#4fb0d2" stroke-opacity="0.28" stroke-width="1.1"/>
<circle cx="699.53" cy="152.78" r="5.13" fill="#c4eaf5" fill-opacity="0.22"/>
<path d="M708.88 151.95 A8.27 8.27 0 0 1 698.54 162.3" fill="none" stroke="#4fb0d2" stroke-opacity="0.28" stroke-width="1.1"/>
<circle cx="735.36" cy="162.71" r="6.41" fill="#c4eaf5" fill-opacity="0.22"/>
<path d="M747.04 161.68 A10.34 10.34 0 0 1 734.12 174.6" fill="none" stroke="#4fb0d2" stroke-opacity="0.28" stroke-width="1.1"/>
<circle cx="765.92" cy="172.53" r="8.01" fill="#c4eaf5" fill-opacity="0.22"/>
<path d="M780.52 171.24 A12.93 12.93 0 0 1 764.36 187.4" fill="none" stroke="#4fb0d2" stroke-opacity="0.28" stroke-width="1.1"/>
<circle cx="789.18" cy="167.36" r="8.01" fill="#c4eaf5" fill-opacity="0.22"/>
<path d="M803.79 166.07 A12.93 12.93 0 0 1 787.63 182.23" fill="none" stroke="#4fb0d2" stroke-opacity="0.28" stroke-width="1.1"/>
<circle cx="746.16" cy="152.89" r="4.81" fill="#c4eaf5" fill-opacity="0.22"/>
<path d="M754.93 152.11 A7.76 7.76 0 0 1 745.23 161.8" fill="none" stroke="#4fb0d2" stroke-opacity="0.28" stroke-width="1.1"/>
<circle cx="719.61" cy="66.79" r="7.21" fill="#c4eaf5" fill-opacity="0.22"/>
<path d="M732.76 65.63 A11.63 11.63 0 0 1 718.22 80.17" fill="none" stroke="#4fb0d2" stroke-opacity="0.28" stroke-width="1.1"/>
<circle cx="696.58" cy="64.47" r="6.41" fill="#c4eaf5" fill-opacity="0.22"/>
<path d="M708.26 63.43 A10.34 10.34 0 0 1 695.34 76.36" fill="none" stroke="#4fb0d2" stroke-opacity="0.28" stroke-width="1.1"/>
<circle cx="872.72" cy="71.19" r="9.62" fill="#c4eaf5" fill-opacity="0.22"/>
<path d="M890.25 69.64 A15.51 15.51 0 0 1 870.86 89.03" fill="none" stroke="#4fb0d2" stroke-opacity="0.28" stroke-width="1.1"/>
<circle cx="893.4" cy="104.8" r="9.62" fill="#c4eaf5" fill-opacity="0.22"/>
<path d="M910.93 103.25 A15.51 15.51 0 0 1 891.54 122.64" fill="none" stroke="#4fb0d2" stroke-opacity="0.28" stroke-width="1.1"/>
<circle cx="888.6" cy="125.89" r="8.34" fill="#c4eaf5" fill-opacity="0.22"/>
<path d="M903.8 124.55 A13.44 13.44 0 0 1 886.99 141.35" fill="none" stroke="#4fb0d2" stroke-opacity="0.28" stroke-width="1.1"/>
<circle cx="909.84" cy="131.69" r="6.41" fill="#c4eaf5" fill-opacity="0.22"/>
<path d="M921.53 130.65 A10.34 10.34 0 0 1 908.6 143.58" fill="none" stroke="#4fb0d2" stroke-opacity="0.28" stroke-width="1.1"/>
<circle cx="904.67" cy="144.61" r="6.41" fill="#c4eaf5" fill-opacity="0.22"/>
<path d="M916.36 143.58 A10.34 10.34 0 0 1 903.43 156.5" fill="none" stroke="#4fb0d2" stroke-opacity="0.28" stroke-width="1.1"/>
<circle cx="980.74" cy="119.69" r="11.54" fill="#c4eaf5" fill-opacity="0.22"/>
<path d="M1001.78 117.83 A18.61 18.61 0 0 1 978.51 141.1" fill="none" stroke="#4fb0d2" stroke-opacity="0.28" stroke-width="1.1"/>
<circle cx="992.02" cy="138.82" r="8.34" fill="#c4eaf5" fill-opacity="0.22"/>
<path d="M1007.21 137.48 A13.44 13.44 0 0 1 990.4 154.28" fill="none" stroke="#4fb0d2" stroke-opacity="0.28" stroke-width="1.1"/>
<circle cx="971.89" cy="103.25" r="6.41" fill="#c4eaf5" fill-opacity="0.22"/>
<path d="M983.58 102.21 A10.34 10.34 0 0 1 970.65 115.14" fill="none" stroke="#4fb0d2" stroke-opacity="0.28" stroke-width="1.1"/>
<circle cx="1004.12" cy="95.39" r="6.73" fill="#c4eaf5" fill-opacity="0.22"/>
<path d="M1016.39 94.3 A10.86 10.86 0 0 1 1002.81 107.87" fill="none" stroke="#4fb0d2" stroke-opacity="0.28" stroke-width="1.1"/>
<circle cx="998.57" cy="65.24" r="8.01" fill="#c4eaf5" fill-opacity="0.22"/>
<path d="M1013.18 63.95 A12.93 12.93 0 0 1 997.02 80.11" fill="none" stroke="#4fb0d2" stroke-opacity="0.28" stroke-width="1.1"/>
<circle cx="883.99" cy="178.22" r="6.41" fill="#c4eaf5" fill-opacity="0.22"/>
<path d="M895.68 177.19 A10.34 10.34 0 0 1 882.75 190.11" fill="none" stroke="#4fb0d2" stroke-opacity="0.28" stroke-width="1.1"/>
<circle cx="874.12" cy="163.23" r="4.81" fill="#c4eaf5" fill-opacity="0.22"/>
<path d="M882.88 162.45 A7.76 7.76 0 0 1 873.19 172.15" fill="none" stroke="#4fb0d2" stroke-opacity="0.28" stroke-width="1.1"/>
<circle cx="917.14" cy="58.78" r="8.01" fill="#c4eaf5" fill-opacity="0.22"/>
<path d="M931.74 57.49 A12.93 12.93 0 0 1 915.58 73.65" fill="none" stroke="#4fb0d2" stroke-opacity="0.28" stroke-width="1.1"/>
<circle cx="943.22" cy="56.45" r="7.21" fill="#c4eaf5" fill-opacity="0.22"/>
<path d="M956.37 55.29 A11.63 11.63 0 0 1 941.83 69.83" fill="none" stroke="#4fb0d2" stroke-opacity="0.28" stroke-width="1.1"/>
<circle cx="971.43" cy="56.19" r="8.01" fill="#c4eaf5" fill-opacity="0.22"/>
<path d="M986.03 54.9 A12.93 12.93 0 0 1 969.88 71.06" fill="none" stroke="#4fb0d2" stroke-opacity="0.28" stroke-width="1.1"/>
<circle cx="1063.19" cy="58.78" r="8.01" fill="#c4eaf5" fill-opacity="0.22"/>
<path d="M1077.79 57.49 A12.93 12.93 0 0 1 1061.63 73.65" fill="none" stroke="#4fb0d2" stroke-opacity="0.28" stroke-width="1.1"/>
<circle cx="1086.22" cy="61.11" r="8.82" fill="#c4eaf5" fill-opacity="0.22"/>
<path d="M1102.29 59.68 A14.22 14.22 0 0 1 1084.51 77.46" fill="none" stroke="#4fb0d2" stroke-opacity="0.28" stroke-width="1.1"/>
<circle cx="1111.84" cy="55.68" r="9.62" fill="#c4eaf5" fill-opacity="0.22"/>
<path d="M1129.37 54.13 A15.51 15.51 0 0 1 1109.98 73.52" fill="none" stroke="#4fb0d2" stroke-opacity="0.28" stroke-width="1.1"/>
<circle cx="1132.99" cy="56.19" r="8.01" fill="#c4eaf5" fill-opacity="0.22"/>
<path d="M1147.6 54.9 A12.93 12.93 0 0 1 1131.44 71.06" fill="none" stroke="#4fb0d2" stroke-opacity="0.28" stroke-width="1.1"/>
<circle cx="1156.26" cy="65.24" r="8.01" fill="#c4eaf5" fill-opacity="0.22"/>
<path d="M1170.86 63.95 A12.93 12.93 0 0 1 1154.71 80.11" fill="none" stroke="#4fb0d2" stroke-opacity="0.28" stroke-width="1.1"/>
<circle cx="1211.39" cy="70.05" r="5.13" fill="#c4eaf5" fill-opacity="0.22"/>
<path d="M1220.73 69.22 A8.27 8.27 0 0 1 1210.39 79.57" fill="none" stroke="#4fb0d2" stroke-opacity="0.28" stroke-width="1.1"/>
<circle cx="1144.89" cy="127.45" r="11.54" fill="#c4eaf5" fill-opacity="0.22"/>
<path d="M1165.93 125.58 A18.61 18.61 0 0 1 1142.66 148.85" fill="none" stroke="#4fb0d2" stroke-opacity="0.28" stroke-width="1.1"/>
<circle cx="1130.78" cy="143.22" r="6.73" fill="#c4eaf5" fill-opacity="0.22"/>
<path d="M1143.05 142.13 A10.86 10.86 0 0 1 1129.47 155.7" fill="none" stroke="#4fb0d2" stroke-opacity="0.28" stroke-width="1.1"/>
<circle cx="1166.97" cy="121.24" r="6.73" fill="#c4eaf5" fill-opacity="0.22"/>
<path d="M1179.24 120.16 A10.86 10.86 0 0 1 1165.67 133.73" fill="none" stroke="#4fb0d2" stroke-opacity="0.28" stroke-width="1.1"/>
<circle cx="1151.92" cy="154.07" r="5.13" fill="#c4eaf5" fill-opacity="0.22"/>
<path d="M1161.27 153.25 A8.27 8.27 0 0 1 1150.93 163.59" fill="none" stroke="#4fb0d2" stroke-opacity="0.28" stroke-width="1.1"/>
<circle cx="1115.82" cy="86.96" r="4.81" fill="#c4eaf5" fill-opacity="0.22"/>
<path d="M1124.59 86.18 A7.76 7.76 0 0 1 1114.89 95.88" fill="none" stroke="#4fb0d2" stroke-opacity="0.28" stroke-width="1.1"/>
<circle cx="1192.45" cy="56.19" r="8.01" fill="#c4eaf5" fill-opacity="0.22"/>
<path d="M1207.06 54.9 A12.93 12.93 0 0 1 1190.9 71.06" fill="none" stroke="#4fb0d2" stroke-opacity="0.28" stroke-width="1.1"/>
<line x1="747.6" y1="56.2" x2="802.6" y2="100.7" stroke="#c5393e" stroke-width="3.7" stroke-linecap="round"/>
<line x1="747.6" y1="56.2" x2="707.5" y2="87.7" stroke="#c5393e" stroke-width="3.7" stroke-linecap="round"/>
<line x1="707.5" y1="87.7" x2="713.4" y2="161.7" stroke="#c5393e" stroke-width="3.7" stroke-linecap="round"/>
<line x1="713.4" y1="161.7" x2="756.6" y2="129.9" stroke="#c5393e" stroke-width="3.7" stroke-linecap="round"/>
<line x1="756.6" y1="129.9" x2="802.6" y2="100.7" stroke="#c5393e" stroke-width="3.7" stroke-linecap="round"/>
<line x1="713.4" y1="161.7" x2="802.6" y2="100.7" stroke="#c5393e" stroke-width="3.7" stroke-linecap="round"/>
<line x1="802.6" y1="100.7" x2="803.5" y2="72" stroke="#c5393e" stroke-width="3.7" stroke-linecap="round"/>
<line x1="802.6" y1="100.7" x2="821" y2="80" stroke="#b39ad0" stroke-width="3.4" stroke-linecap="round"/>
<line x1="707.5" y1="87.7" x2="694" y2="67" stroke="#c5393e" stroke-width="3.7" stroke-linecap="round"/>
<line x1="747.6" y1="56.2" x2="722" y2="50" stroke="#b9a0d0" stroke-width="3.5" stroke-linecap="round"/>
<line x1="707.5" y1="87.7" x2="725" y2="62" stroke="#b9a0d0" stroke-width="3.5" stroke-linecap="round"/>
<line x1="756.6" y1="129.9" x2="753.3" y2="153.95" stroke="#c5393e" stroke-width="3.7" stroke-linecap="round"/><line x1="753.3" y1="153.95" x2="750" y2="178" stroke="#7a6fc0" stroke-width="3.7" stroke-linecap="round"/>
<line x1="756.6" y1="129.9" x2="771.2" y2="155.1" stroke="#c5393e" stroke-width="3.7" stroke-linecap="round"/><line x1="771.2" y1="155.1" x2="785.8" y2="180.3" stroke="#3c82d4" stroke-width="3.7" stroke-linecap="round"/>
<line x1="713.4" y1="161.7" x2="694.55" y2="183.59" stroke="#c5393e" stroke-width="3.7" stroke-linecap="round"/><line x1="694.55" y1="183.59" x2="683" y2="197" stroke="#2f6fd0" stroke-width="3.7" stroke-linecap="round"/>
<line x1="713.4" y1="161.7" x2="704.47" y2="181.11" stroke="#c5393e" stroke-width="3.7" stroke-linecap="round"/><line x1="704.47" y1="181.11" x2="699" y2="193" stroke="#2f6fd0" stroke-width="3.7" stroke-linecap="round"/>
<line x1="713.4" y1="161.7" x2="718.73" y2="188.55" stroke="#c5393e" stroke-width="3.7" stroke-linecap="round"/><line x1="718.73" y1="188.55" x2="722" y2="205" stroke="#2f6fd0" stroke-width="3.7" stroke-linecap="round"/>
<line x1="713.4" y1="161.7" x2="725.55" y2="180.49" stroke="#c5393e" stroke-width="3.7" stroke-linecap="round"/><line x1="725.55" y1="180.49" x2="733" y2="192" stroke="#2f6fd0" stroke-width="3.7" stroke-linecap="round"/>
<line x1="740.6" y1="110" x2="772" y2="106" stroke="#6a8fe0" stroke-width="3" stroke-linecap="round"/>
<line x1="740.6" y1="110" x2="727" y2="135" stroke="#4a9fe0" stroke-width="3" stroke-linecap="round"/>
<line x1="743" y1="82" x2="744" y2="96" stroke="#8a9ae0" stroke-width="3" stroke-linecap="round"/>
<line x1="643.5" y1="179.6" x2="668" y2="183" stroke="#4a86d8" stroke-width="4.6" stroke-linecap="round"/>
<line x1="670.5" y1="170" x2="676" y2="178" stroke="#4a86d8" stroke-width="4" stroke-linecap="round"/>
<circle cx="667.5" cy="182.5" r="4.8" fill="url(#gBlue)"/>
<circle cx="683" cy="184.4" r="10" fill="url(#gPurp)"/>
<circle cx="665.7" cy="204" r="6.8" fill="url(#gBlue)"/>
<line x1="674" y1="197" x2="690" y2="182" stroke="#4a86d8" stroke-width="2.6" stroke-linecap="round"/>
<line x1="676" y1="199.5" x2="692" y2="184.5" stroke="#6a9ae0" stroke-width="1.6" stroke-linecap="round"/>
<circle cx="740.6" cy="110" r="16.8" fill="url(#gNavy)"/>
<circle cx="747.6" cy="56.2" r="15" fill="url(#gRed)"/>
<circle cx="707.5" cy="87.7" r="16.8" fill="url(#gRed)"/>
<circle cx="802.6" cy="100.7" r="16" fill="url(#gRed)"/>
<circle cx="756.6" cy="129.9" r="12.6" fill="url(#gRed)"/>
<circle cx="713.4" cy="161.7" r="16.8" fill="url(#gRed)"/>
<g opacity="0.78" fill="#80cce5">
<circle cx="729.46" cy="110.49" r="13.44"/>
<circle cx="721.71" cy="122.12" r="11.63"/>
<circle cx="735.93" cy="128.58" r="9.05"/>
<circle cx="698.44" cy="88.51" r="5.69"/>
<circle cx="812.19" cy="105.32" r="6.72"/>
<circle cx="764.36" cy="127.29" r="4.65"/>
<circle cx="723" cy="163.49" r="5.69"/>
</g>
<circle cx="727.04" cy="107.8" r="8.34" fill="#c4eaf5" fill-opacity="0.22"/>
<path d="M742.23 106.45 A13.44 13.44 0 0 1 725.43 123.26" fill="none" stroke="#4fb0d2" stroke-opacity="0.28" stroke-width="1.1"/>
<circle cx="719.61" cy="119.79" r="7.21" fill="#c4eaf5" fill-opacity="0.22"/>
<path d="M732.76 118.63 A11.63 11.63 0 0 1 718.22 133.17" fill="none" stroke="#4fb0d2" stroke-opacity="0.28" stroke-width="1.1"/>
<circle cx="734.3" cy="126.77" r="5.61" fill="#c4eaf5" fill-opacity="0.22"/>
<path d="M744.52 125.87 A9.05 9.05 0 0 1 733.21 137.18" fill="none" stroke="#4fb0d2" stroke-opacity="0.28" stroke-width="1.1"/>
<circle cx="697.41" cy="87.37" r="3.53" fill="#c4eaf5" fill-opacity="0.22"/>
<path d="M703.84 86.8 A5.69 5.69 0 0 1 696.73 93.91" fill="none" stroke="#4fb0d2" stroke-opacity="0.28" stroke-width="1.1"/>
<circle cx="810.98" cy="103.97" r="4.17" fill="#c4eaf5" fill-opacity="0.22"/>
<path d="M818.58 103.3 A6.72 6.72 0 0 1 810.18 111.7" fill="none" stroke="#4fb0d2" stroke-opacity="0.28" stroke-width="1.1"/>
<circle cx="763.53" cy="126.36" r="2.89" fill="#c4eaf5" fill-opacity="0.22"/>
<path d="M768.78 125.89 A4.65 4.65 0 0 1 762.97 131.71" fill="none" stroke="#4fb0d2" stroke-opacity="0.28" stroke-width="1.1"/>
<circle cx="721.98" cy="162.35" r="3.53" fill="#c4eaf5" fill-opacity="0.22"/>
<path d="M728.4 161.78 A5.69 5.69 0 0 1 721.29 168.89" fill="none" stroke="#4fb0d2" stroke-opacity="0.28" stroke-width="1.1"/>
<circle cx="697.15" cy="88.51" r="3.62" fill="#a99ad2" fill-opacity="0.55"/>
<circle cx="810.9" cy="101.44" r="3.62" fill="#a99ad2" fill-opacity="0.55"/>
<circle cx="719.12" cy="163.49" r="3.62" fill="#a99ad2" fill-opacity="0.55"/>
<circle cx="711.37" cy="175.12" r="3.1" fill="#a99ad2" fill-opacity="0.55"/>
<circle cx="750.1" cy="185.5" r="13" fill="url(#gPurp)"/>
<circle cx="805.7" cy="232" r="14" fill="url(#gPurp)"/>
<circle cx="753" cy="238" r="13" fill="url(#gPurp)"/>
<circle cx="685.5" cy="214" r="15.4" fill="url(#gPurp2)"/>
<circle cx="751.4" cy="212.6" r="15.5" fill="url(#gNavy)"/>
<circle cx="805.7" cy="202.3" r="16.8" fill="url(#gNavy)"/>
<circle cx="865.2" cy="220.4" r="16.8" fill="url(#gNavyD)"/>
<circle cx="872" cy="240" r="12" fill="url(#gPurp)"/>
<circle cx="785.8" cy="180.3" r="7" fill="url(#gBlueD)"/>
<line x1="909.1" y1="75.6" x2="943.2" y2="101.4" stroke="#c5393e" stroke-width="3.7" stroke-linecap="round"/>
<line x1="909.1" y1="75.6" x2="990.6" y2="89.8" stroke="#c5393e" stroke-width="3.7" stroke-linecap="round"/>
<line x1="943.2" y1="101.4" x2="990.6" y2="89.8" stroke="#c5393e" stroke-width="3.7" stroke-linecap="round"/>
<line x1="943.2" y1="101.4" x2="944" y2="153.1" stroke="#c5393e" stroke-width="3.7" stroke-linecap="round"/>
<line x1="909.1" y1="75.6" x2="944" y2="153.1" stroke="#c5393e" stroke-width="3.7" stroke-linecap="round"/>
<line x1="990.6" y1="89.8" x2="944" y2="153.1" stroke="#c5393e" stroke-width="3.7" stroke-linecap="round"/>
<line x1="944" y1="153.1" x2="897.5" y2="168.7" stroke="#c5393e" stroke-width="3.7" stroke-linecap="round"/>
<line x1="944" y1="153.1" x2="982.8" y2="181.6" stroke="#c5393e" stroke-width="3.7" stroke-linecap="round"/>
<line x1="897.5" y1="168.7" x2="982.8" y2="181.6" stroke="#c5393e" stroke-width="3.7" stroke-linecap="round"/>
<line x1="990.6" y1="89.8" x2="897.5" y2="168.7" stroke="#c5393e" stroke-width="3.7" stroke-linecap="round"/>
<line x1="909.1" y1="75.6" x2="982.8" y2="181.6" stroke="#c5393e" stroke-width="3.7" stroke-linecap="round"/>
<line x1="943.2" y1="101.4" x2="968.57" y2="110.63" stroke="#c5393e" stroke-width="2.8" stroke-linecap="round"/>
<line x1="943.2" y1="101.4" x2="954.61" y2="125.87" stroke="#c5393e" stroke-width="2.8" stroke-linecap="round"/>
<line x1="943.2" y1="101.4" x2="933.97" y2="126.77" stroke="#c5393e" stroke-width="2.8" stroke-linecap="round"/>
<line x1="943.2" y1="101.4" x2="918.73" y2="112.81" stroke="#c5393e" stroke-width="2.8" stroke-linecap="round"/>
<line x1="943.2" y1="101.4" x2="917.83" y2="92.17" stroke="#c5393e" stroke-width="2.8" stroke-linecap="round"/>
<line x1="943.2" y1="101.4" x2="931.79" y2="76.93" stroke="#c5393e" stroke-width="2.8" stroke-linecap="round"/>
<line x1="943.2" y1="101.4" x2="952.43" y2="76.03" stroke="#c5393e" stroke-width="2.8" stroke-linecap="round"/>
<line x1="943.2" y1="101.4" x2="967.67" y2="89.99" stroke="#c5393e" stroke-width="2.8" stroke-linecap="round"/>
<line x1="944" y1="153.1" x2="967.49" y2="161.65" stroke="#c5393e" stroke-width="2.8" stroke-linecap="round"/>
<line x1="944" y1="153.1" x2="920.51" y2="161.65" stroke="#c5393e" stroke-width="2.8" stroke-linecap="round"/>
<line x1="944" y1="153.1" x2="920.51" y2="144.55" stroke="#c5393e" stroke-width="2.8" stroke-linecap="round"/>
<line x1="944" y1="153.1" x2="935.45" y2="129.61" stroke="#c5393e" stroke-width="2.8" stroke-linecap="round"/>
<line x1="944" y1="153.1" x2="952.55" y2="129.61" stroke="#c5393e" stroke-width="2.8" stroke-linecap="round"/>
<line x1="944" y1="153.1" x2="967.49" y2="144.55" stroke="#c5393e" stroke-width="2.8" stroke-linecap="round"/>
<line x1="909.1" y1="75.6" x2="888" y2="66" stroke="#c5393e" stroke-width="3.7" stroke-linecap="round"/>
<line x1="990.6" y1="89.8" x2="1008" y2="66" stroke="#c5393e" stroke-width="3.7" stroke-linecap="round"/>
<line x1="897.5" y1="168.7" x2="879.75" y2="182.35" stroke="#c5393e" stroke-width="3.7" stroke-linecap="round"/><line x1="879.75" y1="182.35" x2="862" y2="196" stroke="#2f6fd0" stroke-width="3.7" stroke-linecap="round"/>
<line x1="897.5" y1="168.7" x2="888.75" y2="181.85" stroke="#c5393e" stroke-width="3.7" stroke-linecap="round"/><line x1="888.75" y1="181.85" x2="880" y2="195" stroke="#2f6fd0" stroke-width="3.7" stroke-linecap="round"/>
<line x1="982.8" y1="181.6" x2="1010" y2="192" stroke="#c5393e" stroke-width="3.7" stroke-linecap="round"/>
<line x1="897.5" y1="123.4" x2="899" y2="148" stroke="#6ab0e8" stroke-width="3" stroke-linecap="round"/>
<line x1="897.5" y1="123.4" x2="903" y2="95" stroke="#a090d0" stroke-width="3" stroke-linecap="round"/>
<line x1="991.9" y1="136.3" x2="990" y2="110" stroke="#6ab0e8" stroke-width="3" stroke-linecap="round"/>
<line x1="991.9" y1="136.3" x2="984" y2="165" stroke="#b0a0d8" stroke-width="3" stroke-linecap="round"/>
<circle cx="897.5" cy="123.4" r="13.5" fill="url(#gNavy)"/>
<circle cx="991.9" cy="136.3" r="13" fill="url(#gNavy)"/>
<circle cx="909.1" cy="75.6" r="15.5" fill="url(#gRed)"/>
<circle cx="943.2" cy="101.4" r="16.8" fill="url(#gRed)"/>
<circle cx="990.6" cy="89.8" r="16" fill="url(#gRed)"/>
<circle cx="944" cy="153.1" r="16.8" fill="url(#gRed)"/>
<circle cx="897.5" cy="168.7" r="16.8" fill="url(#gRed)"/>
<circle cx="982.8" cy="181.6" r="15" fill="url(#gRed)"/>
<g opacity="0.78" fill="#80cce5">
<circle cx="898.78" cy="113.07" r="10.34"/>
<circle cx="903.95" cy="105.32" r="7.76"/>
<circle cx="981.51" cy="128.58" r="10.86"/>
<circle cx="994.44" cy="123.41" r="7.76"/>
<circle cx="922.05" cy="58.78" r="10.34"/>
<circle cx="1004.78" cy="88.51" r="5.17"/>
<circle cx="883.27" cy="177.7" r="5.17"/>
</g>
<circle cx="896.92" cy="111" r="6.41" fill="#c4eaf5" fill-opacity="0.22"/>
<path d="M908.6 109.97 A10.34 10.34 0 0 1 895.68 122.9" fill="none" stroke="#4fb0d2" stroke-opacity="0.28" stroke-width="1.1"/>
<circle cx="902.55" cy="103.76" r="4.81" fill="#c4eaf5" fill-opacity="0.22"/>
<path d="M911.32 102.99 A7.76 7.76 0 0 1 901.62 112.68" fill="none" stroke="#4fb0d2" stroke-opacity="0.28" stroke-width="1.1"/>
<circle cx="979.56" cy="126.41" r="6.73" fill="#c4eaf5" fill-opacity="0.22"/>
<path d="M991.83 125.33 A10.86 10.86 0 0 1 978.25 138.9" fill="none" stroke="#4fb0d2" stroke-opacity="0.28" stroke-width="1.1"/>
<circle cx="993.04" cy="121.86" r="4.81" fill="#c4eaf5" fill-opacity="0.22"/>
<path d="M1001.8 121.09 A7.76 7.76 0 0 1 992.11 130.78" fill="none" stroke="#4fb0d2" stroke-opacity="0.28" stroke-width="1.1"/>
<circle cx="920.19" cy="56.71" r="6.41" fill="#c4eaf5" fill-opacity="0.22"/>
<path d="M931.87 55.68 A10.34 10.34 0 0 1 918.95 68.6" fill="none" stroke="#4fb0d2" stroke-opacity="0.28" stroke-width="1.1"/>
<circle cx="1003.85" cy="87.48" r="3.21" fill="#c4eaf5" fill-opacity="0.22"/>
<path d="M1009.69 86.96 A5.17 5.17 0 0 1 1003.23 93.42" fill="none" stroke="#4fb0d2" stroke-opacity="0.28" stroke-width="1.1"/>
<circle cx="882.34" cy="176.67" r="3.21" fill="#c4eaf5" fill-opacity="0.22"/>
<path d="M888.18 176.15 A5.17 5.17 0 0 1 881.72 182.62" fill="none" stroke="#4fb0d2" stroke-opacity="0.28" stroke-width="1.1"/>
<circle cx="1000.9" cy="92.39" r="3.62" fill="#a99ad2" fill-opacity="0.55"/>
<circle cx="885.85" cy="175.12" r="3.36" fill="#a99ad2" fill-opacity="0.55"/>
<line x1="981.5" y1="232" x2="981.5" y2="252" stroke="#4aa8e0" stroke-width="3.5" stroke-linecap="round"/>
<circle cx="930" cy="232" r="13" fill="url(#gPurp)"/>
<circle cx="878" cy="236" r="11" fill="url(#gPurp)"/>
<circle cx="992" cy="198" r="11" fill="url(#gPurp)"/>
<circle cx="1050" cy="222" r="13" fill="url(#gPurp)"/>
<circle cx="863.9" cy="216.5" r="14" fill="url(#gNavyD)"/>
<circle cx="923.3" cy="210" r="15.5" fill="url(#gNavyD)"/>
<circle cx="982.8" cy="219.1" r="14" fill="url(#gNavyD)"/>
<circle cx="1041" cy="201" r="15.5" fill="url(#gNavyD)"/>
<line x1="1114.6" y1="74.3" x2="1139.7" y2="102.2" stroke="#c5393e" stroke-width="3.7" stroke-linecap="round"/>
<line x1="1139.7" y1="102.2" x2="1189.6" y2="80.8" stroke="#c5393e" stroke-width="3.7" stroke-linecap="round"/>
<line x1="1189.6" y1="80.8" x2="1178" y2="151.9" stroke="#c5393e" stroke-width="3.7" stroke-linecap="round"/>
<line x1="1178" y1="151.9" x2="1134" y2="175.1" stroke="#c5393e" stroke-width="3.7" stroke-linecap="round"/>
<line x1="1114.6" y1="74.3" x2="1189.6" y2="80.8" stroke="#c5393e" stroke-width="3.7" stroke-linecap="round"/>
<line x1="1139.7" y1="102.2" x2="1137" y2="165" stroke="#b49ad0" stroke-width="3.5" stroke-linecap="round"/>
<line x1="1189.6" y1="80.8" x2="1173.8" y2="97.9" stroke="#c5393e" stroke-width="3.7" stroke-linecap="round"/><line x1="1173.8" y1="97.9" x2="1158" y2="115" stroke="#7a6fc0" stroke-width="3.7" stroke-linecap="round"/>
<line x1="1114.6" y1="74.3" x2="1084" y2="62" stroke="#c5393e" stroke-width="3.7" stroke-linecap="round"/>
<line x1="1141" y1="70" x2="1141" y2="92" stroke="#c5393e" stroke-width="3.7" stroke-linecap="round"/>
<line x1="1162" y1="89" x2="1183" y2="84" stroke="#a9a8e0" stroke-width="4.5" stroke-linecap="round"/>
<circle cx="1153.4" cy="128.6" r="13" fill="url(#gNavyD)"/>
<circle cx="1114.6" cy="74.3" r="15.5" fill="url(#gRed)"/>
<circle cx="1139.7" cy="102.2" r="16.3" fill="url(#gRed)"/>
<circle cx="1189.6" cy="80.8" r="16.8" fill="url(#gRed)"/>
<circle cx="1178" cy="151.9" r="16.8" fill="url(#gRed)"/>
<circle cx="1134" cy="175.1" r="14" fill="url(#gRed)"/>
<g opacity="0.8" fill="#80cce5">
<circle cx="1112.05" cy="58.78" r="14.22"/>
<circle cx="1096.54" cy="56.19" r="10.34"/>
<circle cx="1143.07" cy="133.75" r="12.41"/>
<circle cx="1137.9" cy="122.12" r="7.76"/>
<circle cx="1135.32" cy="179" r="12.41"/>
<circle cx="1194.78" cy="58.78" r="7.76"/>
</g>
<circle cx="1109.49" cy="55.94" r="8.82" fill="#c4eaf5" fill-opacity="0.22"/>
<path d="M1125.56 54.51 A14.22 14.22 0 0 1 1107.78 72.29" fill="none" stroke="#4fb0d2" stroke-opacity="0.28" stroke-width="1.1"/>
<circle cx="1094.67" cy="54.13" r="6.41" fill="#c4eaf5" fill-opacity="0.22"/>
<path d="M1106.36 53.09 A10.34 10.34 0 0 1 1093.43 66.02" fill="none" stroke="#4fb0d2" stroke-opacity="0.28" stroke-width="1.1"/>
<circle cx="1140.84" cy="131.27" r="7.69" fill="#c4eaf5" fill-opacity="0.22"/>
<path d="M1154.86 130.03 A12.41 12.41 0 0 1 1139.35 145.54" fill="none" stroke="#4fb0d2" stroke-opacity="0.28" stroke-width="1.1"/>
<circle cx="1136.5" cy="120.57" r="4.81" fill="#c4eaf5" fill-opacity="0.22"/>
<path d="M1145.27 119.79 A7.76 7.76 0 0 1 1135.57 129.49" fill="none" stroke="#4fb0d2" stroke-opacity="0.28" stroke-width="1.1"/>
<circle cx="1133.08" cy="176.51" r="7.69" fill="#c4eaf5" fill-opacity="0.22"/>
<path d="M1147.1 175.27 A12.41 12.41 0 0 1 1131.59 190.79" fill="none" stroke="#4fb0d2" stroke-opacity="0.28" stroke-width="1.1"/>
<circle cx="1193.38" cy="57.23" r="4.81" fill="#c4eaf5" fill-opacity="0.22"/>
<path d="M1202.15 56.45 A7.76 7.76 0 0 1 1192.45 66.15" fill="none" stroke="#4fb0d2" stroke-opacity="0.28" stroke-width="1.1"/>
<circle cx="1139.19" cy="92.39" r="4.14" fill="#a99ad2" fill-opacity="0.55"/>
<circle cx="1184.44" cy="83.34" r="3.62" fill="#a99ad2" fill-opacity="0.55"/>
<circle cx="1126.27" cy="69.12" r="5.17" fill="#a99ad2" fill-opacity="0.55"/>
<circle cx="1110.8" cy="216.5" r="14" fill="url(#gPurp)"/>
<circle cx="1106.9" cy="232" r="12.5" fill="url(#gPurp)"/>
<circle cx="1163.8" cy="224.2" r="14" fill="url(#gPurp)"/>
<circle cx="1100.4" cy="188" r="15.5" fill="url(#gNavyD)"/>
<circle cx="1158.6" cy="182.9" r="15.5" fill="url(#gNavyD)"/>
<line x1="700" y1="214" x2="735" y2="220" stroke="#4a94dc" stroke-width="2.2" stroke-linecap="round"/>
<line x1="765" y1="205" x2="790" y2="200" stroke="#4a94dc" stroke-width="2.2" stroke-linecap="round"/>
<line x1="820" y1="212" x2="850" y2="218" stroke="#4a94dc" stroke-width="2.2" stroke-linecap="round"/>
<line x1="880" y1="212" x2="905" y2="208" stroke="#4a94dc" stroke-width="2.2" stroke-linecap="round"/>
<line x1="940" y1="205" x2="965" y2="198" stroke="#4a94dc" stroke-width="2.2" stroke-linecap="round"/>
<line x1="1000" y1="215" x2="1025" y2="210" stroke="#4a94dc" stroke-width="2.2" stroke-linecap="round"/>
<line x1="1056" y1="191" x2="1085" y2="189" stroke="#4a94dc" stroke-width="2.2" stroke-linecap="round"/>
<line x1="1056" y1="195" x2="1085" y2="193" stroke="#4a94dc" stroke-width="2.2" stroke-linecap="round"/>
<line x1="1120" y1="185" x2="1140" y2="182" stroke="#4a94dc" stroke-width="2.2" stroke-linecap="round"/>
<line x1="1175" y1="186" x2="1215" y2="186" stroke="#4a94dc" stroke-width="2.2" stroke-linecap="round"/>
<line x1="1085" y1="212" x2="1140" y2="206" stroke="#4a94dc" stroke-width="2.2" stroke-linecap="round"/>
<g opacity="0.8" fill="#8ad1e8">
<circle cx="852" cy="214.5" r="11.9"/>
<circle cx="845.8" cy="200.97" r="11.63"/>
<circle cx="1061.65" cy="215.19" r="12.41"/>
<circle cx="1088.78" cy="217.78" r="12.41"/>
<circle cx="773.41" cy="195.8" r="9.82"/>
<circle cx="1158.58" cy="235.87" r="10.34"/>
<circle cx="708.78" cy="200.97" r="11.63"/>
<circle cx="804.44" cy="229.41" r="11.63"/>
<circle cx="898.78" cy="206.14" r="13.44"/>
<circle cx="1027.83" cy="199" r="13.17"/>
<circle cx="835.46" cy="228.12" r="12.41"/>
<circle cx="1015.12" cy="217.78" r="12.41"/>
<circle cx="768.24" cy="219.07" r="11.63"/>
<circle cx="1210.29" cy="206.14" r="12.93"/>
<circle cx="1145.42" cy="180.9" r="13.17"/>
<circle cx="729.46" cy="216.48" r="11.63"/>
<circle cx="958.24" cy="235.87" r="12.41"/>
<circle cx="910.12" cy="208" r="13.17"/>
<circle cx="891.02" cy="228.12" r="14.22"/>
<circle cx="963.41" cy="198.39" r="10.34"/>
<circle cx="871.65" cy="200.97" r="10.34"/>
<circle cx="738.23" cy="210.6" r="13.17"/>
<circle cx="932.39" cy="238.46" r="10.34"/>
<circle cx="1215.46" cy="190.63" r="10.34"/>
<circle cx="866.48" cy="242.34" r="10.34"/>
<circle cx="999.61" cy="215.19" r="10.34"/>
<circle cx="1205.12" cy="225.53" r="12.93"/>
<circle cx="1127.56" cy="207.44" r="10.34"/>
<circle cx="1075.85" cy="233.29" r="10.34"/>
<circle cx="726.88" cy="242.34" r="12.41"/>
<circle cx="1205.12" cy="180.29" r="12.93"/>
<circle cx="830.29" cy="208.73" r="12.41"/>
<circle cx="875.51" cy="200.97" r="11.63"/>
<circle cx="1057.76" cy="185.46" r="10.34"/>
<circle cx="791.42" cy="200.3" r="14.28"/>
<circle cx="1065.51" cy="217.78" r="12.41"/>
<circle cx="786.34" cy="241.04" r="12.41"/>
<circle cx="955.66" cy="185.46" r="17.58"/>
<circle cx="706.19" cy="239.75" r="7.76"/>
<circle cx="1009.95" cy="200.97" r="14.22"/>
<circle cx="1189.61" cy="222.95" r="12.93"/>
<circle cx="911.71" cy="233.29" r="12.41"/>
<circle cx="876.83" cy="233.29" r="12.41"/>
<circle cx="1077.17" cy="228.12" r="10.34"/>
<circle cx="708.78" cy="185.46" r="7.76"/>
<circle cx="1194.78" cy="200.97" r="14.99"/>
<circle cx="968.58" cy="217.78" r="12.93"/>
<circle cx="1030.63" cy="185.46" r="10.34"/>
<circle cx="850.92" cy="218.4" r="14.28"/>
<circle cx="1184.44" cy="180.29" r="14.22"/>
<circle cx="747.56" cy="242.34" r="11.63"/>
<circle cx="1066.83" cy="188.05" r="14.22"/>
<circle cx="787.63" cy="219.07" r="12.41"/>
<circle cx="814.78" cy="241.04" r="10.34"/>
<circle cx="1137.9" cy="228.12" r="14.22"/>
<circle cx="945.32" cy="207.44" r="12.93"/>
<circle cx="1117.22" cy="180.29" r="10.34"/>
<circle cx="1075.85" cy="188.05" r="12.41"/>
<circle cx="713.95" cy="224.24" r="11.63"/>
<circle cx="1148.24" cy="207.44" r="10.34"/>
<circle cx="850.97" cy="224.24" r="14.22"/>
<circle cx="1114.63" cy="238.46" r="7.76"/>
<circle cx="970.9" cy="217.1" r="11.9"/>
<circle cx="1087.23" cy="186" r="13.17"/>
</g>
<circle cx="849.86" cy="212.12" r="7.38" fill="#c4eaf5" fill-opacity="0.22"/>
<path d="M863.3 210.93 A11.9 11.9 0 0 1 848.43 225.81" fill="none" stroke="#4fb0d2" stroke-opacity="0.28" stroke-width="1.1"/>
<circle cx="843.71" cy="198.65" r="7.21" fill="#c4eaf5" fill-opacity="0.22"/>
<path d="M856.85 197.48 A11.63 11.63 0 0 1 842.31 212.02" fill="none" stroke="#4fb0d2" stroke-opacity="0.28" stroke-width="1.1"/>
<circle cx="1059.42" cy="212.71" r="7.69" fill="#c4eaf5" fill-opacity="0.22"/>
<path d="M1073.44 211.47 A12.41 12.41 0 0 1 1057.93 226.98" fill="none" stroke="#4fb0d2" stroke-opacity="0.28" stroke-width="1.1"/>
<circle cx="1086.55" cy="215.29" r="7.69" fill="#c4eaf5" fill-opacity="0.22"/>
<path d="M1100.57 214.05 A12.41 12.41 0 0 1 1085.06 229.57" fill="none" stroke="#4fb0d2" stroke-opacity="0.28" stroke-width="1.1"/>
<circle cx="771.64" cy="193.84" r="6.09" fill="#c4eaf5" fill-opacity="0.22"/>
<path d="M782.75 192.85 A9.82 9.82 0 0 1 770.47 205.13" fill="none" stroke="#4fb0d2" stroke-opacity="0.28" stroke-width="1.1"/>
<circle cx="1156.72" cy="233.81" r="6.41" fill="#c4eaf5" fill-opacity="0.22"/>
<path d="M1168.41 232.77 A10.34 10.34 0 0 1 1155.48 245.7" fill="none" stroke="#4fb0d2" stroke-opacity="0.28" stroke-width="1.1"/>
<circle cx="706.69" cy="198.65" r="7.21" fill="#c4eaf5" fill-opacity="0.22"/>
<path d="M719.83 197.48 A11.63 11.63 0 0 1 705.29 212.02" fill="none" stroke="#4fb0d2" stroke-opacity="0.28" stroke-width="1.1"/>
<circle cx="802.34" cy="227.08" r="7.21" fill="#c4eaf5" fill-opacity="0.22"/>
<path d="M815.49 225.92 A11.63 11.63 0 0 1 800.95 240.46" fill="none" stroke="#4fb0d2" stroke-opacity="0.28" stroke-width="1.1"/>
<circle cx="896.36" cy="203.45" r="8.34" fill="#c4eaf5" fill-opacity="0.22"/>
<path d="M911.55 202.11 A13.44 13.44 0 0 1 894.75 218.91" fill="none" stroke="#4fb0d2" stroke-opacity="0.28" stroke-width="1.1"/>
<circle cx="1025.45" cy="196.37" r="8.17" fill="#c4eaf5" fill-opacity="0.22"/>
<path d="M1040.34 195.05 A13.17 13.17 0 0 1 1023.87 211.52" fill="none" stroke="#4fb0d2" stroke-opacity="0.28" stroke-width="1.1"/>
<circle cx="833.23" cy="225.64" r="7.69" fill="#c4eaf5" fill-opacity="0.22"/>
<path d="M847.25 224.4 A12.41 12.41 0 0 1 831.74 239.91" fill="none" stroke="#4fb0d2" stroke-opacity="0.28" stroke-width="1.1"/>
<circle cx="1012.89" cy="215.29" r="7.69" fill="#c4eaf5" fill-opacity="0.22"/>
<path d="M1026.91 214.05 A12.41 12.41 0 0 1 1011.4 229.57" fill="none" stroke="#4fb0d2" stroke-opacity="0.28" stroke-width="1.1"/>
<circle cx="766.15" cy="216.74" r="7.21" fill="#c4eaf5" fill-opacity="0.22"/>
<path d="M779.29 215.58 A11.63 11.63 0 0 1 764.75 230.12" fill="none" stroke="#4fb0d2" stroke-opacity="0.28" stroke-width="1.1"/>
<circle cx="1207.96" cy="203.56" r="8.01" fill="#c4eaf5" fill-opacity="0.22"/>
<path d="M1222.57 202.26 A12.93 12.93 0 0 1 1206.41 218.42" fill="none" stroke="#4fb0d2" stroke-opacity="0.28" stroke-width="1.1"/>
<circle cx="1143.05" cy="178.27" r="8.17" fill="#c4eaf5" fill-opacity="0.22"/>
<path d="M1157.94 176.95 A13.17 13.17 0 0 1 1141.47 193.42" fill="none" stroke="#4fb0d2" stroke-opacity="0.28" stroke-width="1.1"/>
<circle cx="727.37" cy="214.16" r="7.21" fill="#c4eaf5" fill-opacity="0.22"/>
<path d="M740.51 212.99 A11.63 11.63 0 0 1 725.97 227.54" fill="none" stroke="#4fb0d2" stroke-opacity="0.28" stroke-width="1.1"/>
<circle cx="956.01" cy="233.39" r="7.69" fill="#c4eaf5" fill-opacity="0.22"/>
<path d="M970.03 232.15 A12.41 12.41 0 0 1 954.52 247.66" fill="none" stroke="#4fb0d2" stroke-opacity="0.28" stroke-width="1.1"/>
<circle cx="907.75" cy="205.37" r="8.17" fill="#c4eaf5" fill-opacity="0.22"/>
<path d="M922.64 204.05 A13.17 13.17 0 0 1 906.17 220.52" fill="none" stroke="#4fb0d2" stroke-opacity="0.28" stroke-width="1.1"/>
<circle cx="888.46" cy="225.27" r="8.82" fill="#c4eaf5" fill-opacity="0.22"/>
<path d="M904.53 223.85 A14.22 14.22 0 0 1 886.76 241.63" fill="none" stroke="#4fb0d2" stroke-opacity="0.28" stroke-width="1.1"/>
<circle cx="961.55" cy="196.32" r="6.41" fill="#c4eaf5" fill-opacity="0.22"/>
<path d="M973.24 195.28 A10.34 10.34 0 0 1 960.31 208.21" fill="none" stroke="#4fb0d2" stroke-opacity="0.28" stroke-width="1.1"/>
<circle cx="869.79" cy="198.9" r="6.41" fill="#c4eaf5" fill-opacity="0.22"/>
<path d="M881.48 197.87 A10.34 10.34 0 0 1 868.55 210.8" fill="none" stroke="#4fb0d2" stroke-opacity="0.28" stroke-width="1.1"/>
<circle cx="735.85" cy="207.97" r="8.17" fill="#c4eaf5" fill-opacity="0.22"/>
<path d="M750.74 206.65 A13.17 13.17 0 0 1 734.27 223.12" fill="none" stroke="#4fb0d2" stroke-opacity="0.28" stroke-width="1.1"/>
<circle cx="930.53" cy="236.39" r="6.41" fill="#c4eaf5" fill-opacity="0.22"/>
<path d="M942.21 235.36 A10.34 10.34 0 0 1 929.29 248.28" fill="none" stroke="#4fb0d2" stroke-opacity="0.28" stroke-width="1.1"/>
<circle cx="1213.6" cy="188.56" r="6.41" fill="#c4eaf5" fill-opacity="0.22"/>
<path d="M1225.28 187.53 A10.34 10.34 0 0 1 1212.36 200.46" fill="none" stroke="#4fb0d2" stroke-opacity="0.28" stroke-width="1.1"/>
<circle cx="864.62" cy="240.27" r="6.41" fill="#c4eaf5" fill-opacity="0.22"/>
<path d="M876.31 239.23 A10.34 10.34 0 0 1 863.38 252.16" fill="none" stroke="#4fb0d2" stroke-opacity="0.28" stroke-width="1.1"/>
<circle cx="997.75" cy="213.12" r="6.41" fill="#c4eaf5" fill-opacity="0.22"/>
<path d="M1009.43 212.09 A10.34 10.34 0 0 1 996.5 225.02" fill="none" stroke="#4fb0d2" stroke-opacity="0.28" stroke-width="1.1"/>
<circle cx="1202.79" cy="222.95" r="8.01" fill="#c4eaf5" fill-opacity="0.22"/>
<path d="M1217.4 221.65 A12.93 12.93 0 0 1 1201.24 237.81" fill="none" stroke="#4fb0d2" stroke-opacity="0.28" stroke-width="1.1"/>
<circle cx="1125.7" cy="205.37" r="6.41" fill="#c4eaf5" fill-opacity="0.22"/>
<path d="M1137.38 204.33 A10.34 10.34 0 0 1 1124.46 217.26" fill="none" stroke="#4fb0d2" stroke-opacity="0.28" stroke-width="1.1"/>
<circle cx="1073.99" cy="231.22" r="6.41" fill="#c4eaf5" fill-opacity="0.22"/>
<path d="M1085.68 230.19 A10.34 10.34 0 0 1 1072.75 243.11" fill="none" stroke="#4fb0d2" stroke-opacity="0.28" stroke-width="1.1"/>
<circle cx="724.64" cy="239.86" r="7.69" fill="#c4eaf5" fill-opacity="0.22"/>
<path d="M738.67 238.61 A12.41 12.41 0 0 1 723.15 254.13" fill="none" stroke="#4fb0d2" stroke-opacity="0.28" stroke-width="1.1"/>
<circle cx="1202.79" cy="177.7" r="8.01" fill="#c4eaf5" fill-opacity="0.22"/>
<path d="M1217.4 176.41 A12.93 12.93 0 0 1 1201.24 192.57" fill="none" stroke="#4fb0d2" stroke-opacity="0.28" stroke-width="1.1"/>
<circle cx="828.06" cy="206.25" r="7.69" fill="#c4eaf5" fill-opacity="0.22"/>
<path d="M842.08 205.01 A12.41 12.41 0 0 1 826.57 220.52" fill="none" stroke="#4fb0d2" stroke-opacity="0.28" stroke-width="1.1"/>
<circle cx="873.42" cy="198.65" r="7.21" fill="#c4eaf5" fill-opacity="0.22"/>
<path d="M886.56 197.48 A11.63 11.63 0 0 1 872.02 212.02" fill="none" stroke="#4fb0d2" stroke-opacity="0.28" stroke-width="1.1"/>
<circle cx="1055.89" cy="183.39" r="6.41" fill="#c4eaf5" fill-opacity="0.22"/>
<path d="M1067.58 182.36 A10.34 10.34 0 0 1 1054.65 195.28" fill="none" stroke="#4fb0d2" stroke-opacity="0.28" stroke-width="1.1"/>
<circle cx="788.85" cy="197.44" r="8.85" fill="#c4eaf5" fill-opacity="0.22"/>
<path d="M804.99 196.02 A14.28 14.28 0 0 1 787.14 213.87" fill="none" stroke="#4fb0d2" stroke-opacity="0.28" stroke-width="1.1"/>
<circle cx="1063.28" cy="215.29" r="7.69" fill="#c4eaf5" fill-opacity="0.22"/>
<path d="M1077.3 214.05 A12.41 12.41 0 0 1 1061.79 229.57" fill="none" stroke="#4fb0d2" stroke-opacity="0.28" stroke-width="1.1"/>
<circle cx="784.11" cy="238.56" r="7.69" fill="#c4eaf5" fill-opacity="0.22"/>
<path d="M798.13 237.32 A12.41 12.41 0 0 1 782.62 252.83" fill="none" stroke="#4fb0d2" stroke-opacity="0.28" stroke-width="1.1"/>
<circle cx="952.49" cy="181.94" r="10.9" fill="#c4eaf5" fill-opacity="0.22"/>
<path d="M972.36 180.19 A17.58 17.58 0 0 1 950.38 202.16" fill="none" stroke="#4fb0d2" stroke-opacity="0.28" stroke-width="1.1"/>
<circle cx="704.8" cy="238.2" r="4.81" fill="#c4eaf5" fill-opacity="0.22"/>
<path d="M713.56 237.43 A7.76 7.76 0 0 1 703.87 247.12" fill="none" stroke="#4fb0d2" stroke-opacity="0.28" stroke-width="1.1"/>
<circle cx="1007.39" cy="198.13" r="8.82" fill="#c4eaf5" fill-opacity="0.22"/>
<path d="M1023.46 196.71 A14.22 14.22 0 0 1 1005.68 214.48" fill="none" stroke="#4fb0d2" stroke-opacity="0.28" stroke-width="1.1"/>
<circle cx="1187.28" cy="220.36" r="8.01" fill="#c4eaf5" fill-opacity="0.22"/>
<path d="M1201.89 219.07 A12.93 12.93 0 0 1 1185.73 235.23" fill="none" stroke="#4fb0d2" stroke-opacity="0.28" stroke-width="1.1"/>
<circle cx="909.47" cy="230.81" r="7.69" fill="#c4eaf5" fill-opacity="0.22"/>
<path d="M923.5 229.57 A12.41 12.41 0 0 1 907.98 245.08" fill="none" stroke="#4fb0d2" stroke-opacity="0.28" stroke-width="1.1"/>
<circle cx="874.59" cy="230.81" r="7.69" fill="#c4eaf5" fill-opacity="0.22"/>
<path d="M888.61 229.57 A12.41 12.41 0 0 1 873.1 245.08" fill="none" stroke="#4fb0d2" stroke-opacity="0.28" stroke-width="1.1"/>
<circle cx="1075.31" cy="226.05" r="6.41" fill="#c4eaf5" fill-opacity="0.22"/>
<path d="M1086.99 225.02 A10.34 10.34 0 0 1 1074.06 237.94" fill="none" stroke="#4fb0d2" stroke-opacity="0.28" stroke-width="1.1"/>
<circle cx="707.38" cy="183.91" r="4.81" fill="#c4eaf5" fill-opacity="0.22"/>
<path d="M716.15 183.13 A7.76 7.76 0 0 1 706.45 192.83" fill="none" stroke="#4fb0d2" stroke-opacity="0.28" stroke-width="1.1"/>
<circle cx="1192.08" cy="197.97" r="9.3" fill="#c4eaf5" fill-opacity="0.22"/>
<path d="M1209.02 196.47 A14.99 14.99 0 0 1 1190.28 215.22" fill="none" stroke="#4fb0d2" stroke-opacity="0.28" stroke-width="1.1"/>
<circle cx="966.26" cy="215.19" r="8.01" fill="#c4eaf5" fill-opacity="0.22"/>
<path d="M980.86 213.9 A12.93 12.93 0 0 1 964.71 230.06" fill="none" stroke="#4fb0d2" stroke-opacity="0.28" stroke-width="1.1"/>
<circle cx="1028.77" cy="183.39" r="6.41" fill="#c4eaf5" fill-opacity="0.22"/>
<path d="M1040.46 182.36 A10.34 10.34 0 0 1 1027.53 195.28" fill="none" stroke="#4fb0d2" stroke-opacity="0.28" stroke-width="1.1"/>
<circle cx="848.35" cy="215.54" r="8.85" fill="#c4eaf5" fill-opacity="0.22"/>
<path d="M864.49 214.12 A14.28 14.28 0 0 1 846.64 231.97" fill="none" stroke="#4fb0d2" stroke-opacity="0.28" stroke-width="1.1"/>
<circle cx="1181.88" cy="177.45" r="8.82" fill="#c4eaf5" fill-opacity="0.22"/>
<path d="M1197.94 176.02 A14.22 14.22 0 0 1 1180.17 193.8" fill="none" stroke="#4fb0d2" stroke-opacity="0.28" stroke-width="1.1"/>
<circle cx="745.47" cy="240.01" r="7.21" fill="#c4eaf5" fill-opacity="0.22"/>
<path d="M758.61 238.85 A11.63 11.63 0 0 1 744.07 253.39" fill="none" stroke="#4fb0d2" stroke-opacity="0.28" stroke-width="1.1"/>
<circle cx="1064.27" cy="185.2" r="8.82" fill="#c4eaf5" fill-opacity="0.22"/>
<path d="M1080.33 183.78 A14.22 14.22 0 0 1 1062.56 201.55" fill="none" stroke="#4fb0d2" stroke-opacity="0.28" stroke-width="1.1"/>
<circle cx="785.4" cy="216.59" r="7.69" fill="#c4eaf5" fill-opacity="0.22"/>
<path d="M799.42 215.35 A12.41 12.41 0 0 1 783.91 230.86" fill="none" stroke="#4fb0d2" stroke-opacity="0.28" stroke-width="1.1"/>
<circle cx="812.92" cy="238.98" r="6.41" fill="#c4eaf5" fill-opacity="0.22"/>
<path d="M824.6 237.94 A10.34 10.34 0 0 1 811.68 250.87" fill="none" stroke="#4fb0d2" stroke-opacity="0.28" stroke-width="1.1"/>
<circle cx="1135.34" cy="225.27" r="8.82" fill="#c4eaf5" fill-opacity="0.22"/>
<path d="M1151.41 223.85 A14.22 14.22 0 0 1 1133.63 241.63" fill="none" stroke="#4fb0d2" stroke-opacity="0.28" stroke-width="1.1"/>
<circle cx="942.99" cy="204.85" r="8.01" fill="#c4eaf5" fill-opacity="0.22"/>
<path d="M957.6 203.56 A12.93 12.93 0 0 1 941.44 219.72" fill="none" stroke="#4fb0d2" stroke-opacity="0.28" stroke-width="1.1"/>
<circle cx="1115.36" cy="178.22" r="6.41" fill="#c4eaf5" fill-opacity="0.22"/>
<path d="M1127.04 177.19 A10.34 10.34 0 0 1 1114.12 190.11" fill="none" stroke="#4fb0d2" stroke-opacity="0.28" stroke-width="1.1"/>
<circle cx="1073.62" cy="185.56" r="7.69" fill="#c4eaf5" fill-opacity="0.22"/>
<path d="M1087.64 184.32 A12.41 12.41 0 0 1 1072.13 199.83" fill="none" stroke="#4fb0d2" stroke-opacity="0.28" stroke-width="1.1"/>
<circle cx="711.86" cy="221.91" r="7.21" fill="#c4eaf5" fill-opacity="0.22"/>
<path d="M725 220.75 A11.63 11.63 0 0 1 710.46 235.29" fill="none" stroke="#4fb0d2" stroke-opacity="0.28" stroke-width="1.1"/>
<circle cx="1146.38" cy="205.37" r="6.41" fill="#c4eaf5" fill-opacity="0.22"/>
<path d="M1158.07 204.33 A10.34 10.34 0 0 1 1145.14 217.26" fill="none" stroke="#4fb0d2" stroke-opacity="0.28" stroke-width="1.1"/>
<circle cx="848.41" cy="221.4" r="8.82" fill="#c4eaf5" fill-opacity="0.22"/>
<path d="M864.48 219.97 A14.22 14.22 0 0 1 846.71 237.75" fill="none" stroke="#4fb0d2" stroke-opacity="0.28" stroke-width="1.1"/>
<circle cx="1113.24" cy="236.91" r="4.81" fill="#c4eaf5" fill-opacity="0.22"/>
<path d="M1122 236.13 A7.76 7.76 0 0 1 1112.31 245.83" fill="none" stroke="#4fb0d2" stroke-opacity="0.28" stroke-width="1.1"/>
<circle cx="968.76" cy="214.72" r="7.38" fill="#c4eaf5" fill-opacity="0.22"/>
<path d="M982.2 213.53 A11.9 11.9 0 0 1 967.33 228.41" fill="none" stroke="#4fb0d2" stroke-opacity="0.28" stroke-width="1.1"/>
<circle cx="1084.85" cy="183.37" r="8.17" fill="#c4eaf5" fill-opacity="0.22"/>
<path d="M1099.74 182.05 A13.17 13.17 0 0 1 1083.27 198.52" fill="none" stroke="#4fb0d2" stroke-opacity="0.28" stroke-width="1.1"/>
<circle cx="726" cy="217" r="7.2" fill="url(#gBlue)"/>
<circle cx="724" cy="216" r="10" fill="url(#gCy)" fill-opacity="0.35"/>
<circle cx="787" cy="220" r="7.2" fill="url(#gBlue)"/>
<circle cx="785" cy="219" r="10" fill="url(#gCy)" fill-opacity="0.35"/>
<circle cx="853" cy="220" r="7.2" fill="url(#gBlue)"/>
<circle cx="851" cy="219" r="10" fill="url(#gCy)" fill-opacity="0.35"/>
<circle cx="898.8" cy="204.8" r="7.2" fill="url(#gBlue)"/>
<circle cx="896.8" cy="203.8" r="10" fill="url(#gCy)" fill-opacity="0.35"/>
<circle cx="958.2" cy="194.5" r="7.2" fill="url(#gBlue)"/>
<circle cx="956.2" cy="193.5" r="10" fill="url(#gCy)" fill-opacity="0.35"/>
<circle cx="1074.6" cy="188" r="7.2" fill="url(#gBlue)"/>
<circle cx="1072.6" cy="187" r="10" fill="url(#gCy)" fill-opacity="0.35"/>
<circle cx="1021" cy="212" r="7.2" fill="url(#gBlue)"/>
<circle cx="1019" cy="211" r="10" fill="url(#gCy)" fill-opacity="0.35"/>
<circle cx="1075.9" cy="188" r="7.2" fill="url(#gBlue)"/>
<circle cx="1073.9" cy="187" r="10" fill="url(#gCy)" fill-opacity="0.35"/>
<circle cx="1135.3" cy="180.3" r="7.2" fill="url(#gBlue)"/>
<circle cx="1133.3" cy="179.3" r="10" fill="url(#gCy)" fill-opacity="0.35"/>
<circle cx="1146" cy="205" r="7.2" fill="url(#gBlue)"/>
<circle cx="1144" cy="204" r="10" fill="url(#gCy)" fill-opacity="0.35"/>
<circle cx="725.6" cy="239.5" r="9.5" fill="url(#gWhite)" fill-opacity="0.7"/>
<circle cx="729.6" cy="237.5" r="9" fill="url(#gCy)" fill-opacity="0.45"/>
<circle cx="783.8" cy="239.5" r="9.5" fill="url(#gWhite)" fill-opacity="0.7"/>
<circle cx="787.8" cy="237.5" r="9" fill="url(#gCy)" fill-opacity="0.45"/>
<circle cx="900" cy="232" r="9.5" fill="url(#gWhite)" fill-opacity="0.7"/>
<circle cx="904" cy="230" r="9" fill="url(#gCy)" fill-opacity="0.45"/>
<circle cx="965" cy="236" r="9.5" fill="url(#gWhite)" fill-opacity="0.7"/>
<circle cx="969" cy="234" r="9" fill="url(#gCy)" fill-opacity="0.45"/>
<circle cx="1080" cy="226" r="9.5" fill="url(#gWhite)" fill-opacity="0.7"/>
<circle cx="1084" cy="224" r="9" fill="url(#gCy)" fill-opacity="0.45"/>
<circle cx="1132" cy="244" r="9.5" fill="url(#gWhite)" fill-opacity="0.7"/>
<circle cx="1136" cy="242" r="9" fill="url(#gCy)" fill-opacity="0.45"/>
<circle cx="1192" cy="215" r="9.5" fill="url(#gWhite)" fill-opacity="0.7"/>
<circle cx="1196" cy="213" r="9" fill="url(#gCy)" fill-opacity="0.45"/>
<circle cx="737" cy="45" r="6.5" fill="url(#gWhite)" fill-opacity="0.5"/>
<circle cx="795" cy="42" r="6.5" fill="url(#gWhite)" fill-opacity="0.5"/>
<circle cx="850" cy="50" r="6.5" fill="url(#gWhite)" fill-opacity="0.5"/>
<circle cx="925" cy="52" r="6.5" fill="url(#gWhite)" fill-opacity="0.5"/>
<circle cx="975" cy="50" r="6.5" fill="url(#gWhite)" fill-opacity="0.5"/>
<circle cx="1045" cy="52" r="6.5" fill="url(#gWhite)" fill-opacity="0.5"/>
<circle cx="1205" cy="50" r="6.5" fill="url(#gWhite)" fill-opacity="0.5"/>
<circle cx="1120" cy="45" r="6.5" fill="url(#gWhite)" fill-opacity="0.5"/>
<circle cx="690" cy="48" r="6.5" fill="url(#gWhite)" fill-opacity="0.5"/>
</g>
<g opacity="0.85" fill="#80cce5">
<circle cx="981.8" cy="247" r="10"/>
<circle cx="962.9" cy="302.4" r="10"/>
<circle cx="1030" cy="300" r="9"/>
<circle cx="934.6" cy="280.7" r="13.5"/>
<circle cx="920" cy="335" r="9"/>
</g>
<circle cx="980" cy="245" r="6.2" fill="#c4eaf5" fill-opacity="0.22"/>
<path d="M991.3 244 A10 10 0 0 1 978.8 256.5" fill="none" stroke="#4fb0d2" stroke-opacity="0.28" stroke-width="1.1"/>
<circle cx="961.1" cy="300.4" r="6.2" fill="#c4eaf5" fill-opacity="0.22"/>
<path d="M972.4 299.4 A10 10 0 0 1 959.9 311.9" fill="none" stroke="#4fb0d2" stroke-opacity="0.28" stroke-width="1.1"/>
<circle cx="1028.38" cy="298.2" r="5.58" fill="#c4eaf5" fill-opacity="0.22"/>
<path d="M1038.55 297.3 A9 9 0 0 1 1027.3 308.55" fill="none" stroke="#4fb0d2" stroke-opacity="0.28" stroke-width="1.1"/>
<circle cx="932.17" cy="278" r="8.37" fill="#c4eaf5" fill-opacity="0.22"/>
<path d="M947.43 276.65 A13.5 13.5 0 0 1 930.55 293.52" fill="none" stroke="#4fb0d2" stroke-opacity="0.28" stroke-width="1.1"/>
<circle cx="918.38" cy="333.2" r="5.58" fill="#c4eaf5" fill-opacity="0.22"/>
<path d="M928.55 332.3 A9 9 0 0 1 917.3 343.55" fill="none" stroke="#4fb0d2" stroke-opacity="0.28" stroke-width="1.1"/>
<line x1="985.6" y1="295.8" x2="1000.4" y2="329.3" stroke="#3c9ae0" stroke-width="3.5" stroke-linecap="round"/>
<line x1="1000.4" y1="329.3" x2="988.3" y2="335.25" stroke="#3c9ae0" stroke-width="3" stroke-linecap="round"/><line x1="988.3" y1="335.25" x2="976.2" y2="341.2" stroke="#c4ac88" stroke-width="3" stroke-linecap="round"/>
<line x1="1000.4" y1="329.3" x2="1016.65" y2="332.9" stroke="#3c9ae0" stroke-width="3" stroke-linecap="round"/><line x1="1016.65" y1="332.9" x2="1032.9" y2="336.5" stroke="#c4ac88" stroke-width="3" stroke-linecap="round"/>
<line x1="945.9" y1="305.2" x2="985.6" y2="295.8" stroke="#4aa8e0" stroke-width="3.5" stroke-linecap="round"/>
<line x1="905.2" y1="333.6" x2="945" y2="330.8" stroke="#4aa8e0" stroke-width="3.5" stroke-linecap="round"/>
<line x1="945.9" y1="305.2" x2="930" y2="282" stroke="#6ac0e4" stroke-width="3.5" stroke-linecap="round"/>
<circle cx="945" cy="330.8" r="15" fill="url(#gNavy)"/>
<circle cx="981.8" cy="261.7" r="15.5" fill="url(#gNavy)"/>
<circle cx="1018.7" cy="289.2" r="15.5" fill="url(#gNavy)"/>
<circle cx="945.9" cy="305.2" r="16" fill="url(#gNavy)"/>
<circle cx="985.6" cy="295.8" r="16.5" fill="url(#gNavy)"/>
<circle cx="905.2" cy="333.6" r="15.5" fill="url(#gNavy)"/>
<circle cx="1000.4" cy="329.3" r="7.5" fill="url(#gBlueD)"/>
<circle cx="976.2" cy="341.2" r="5" fill="url(#gTan)"/>
<circle cx="1032.9" cy="336.5" r="5.5" fill="url(#gTan)"/>
<circle cx="952" cy="268" r="5" fill="url(#gWhite)" fill-opacity="0.9"/>
<circle cx="1010" cy="265.5" r="5" fill="url(#gWhite)" fill-opacity="0.9"/>
<circle cx="1048" cy="275" r="5" fill="url(#gWhite)" fill-opacity="0.9"/>
<circle cx="924" cy="322" r="5" fill="url(#gWhite)" fill-opacity="0.9"/>
<circle cx="958" cy="361" r="5" fill="url(#gWhite)" fill-opacity="0.9"/>
<g opacity="0.72" fill="#80cce5">
<circle cx="862.7" cy="341.2" r="10"/>
<circle cx="876.9" cy="338.3" r="12"/>
<circle cx="890" cy="336" r="10"/>
<circle cx="934.6" cy="280.7" r="13.5"/>
<circle cx="957.3" cy="268.4" r="12"/>
<circle cx="1008.3" cy="263.6" r="12.5"/>
<circle cx="1040.5" cy="279.7" r="13"/>
<circle cx="1020.6" cy="313.8" r="12.5"/>
<circle cx="993.2" cy="313.8" r="10.5"/>
<circle cx="930.8" cy="319.4" r="13"/>
<circle cx="966.7" cy="334.6" r="11.5"/>
<circle cx="953.5" cy="353.5" r="12"/>
<circle cx="983.7" cy="351.6" r="12.5"/>
<circle cx="1036.7" cy="345.9" r="12.5"/>
<circle cx="1014" cy="336.5" r="9.5"/>
<circle cx="970" cy="262" r="8.5"/>
<circle cx="995" cy="262" r="8.5"/>
<circle cx="1000" cy="283" r="9"/>
<circle cx="960" cy="318" r="10"/>
<circle cx="945" cy="345" r="9"/>
<circle cx="990" cy="275" r="9"/>
<circle cx="1003" cy="290" r="9"/>
<circle cx="930" cy="300" r="8"/>
<circle cx="890" cy="335" r="8"/>
</g>
<circle cx="860.9" cy="339.2" r="6.2" fill="#c4eaf5" fill-opacity="0.22"/>
<path d="M872.2 338.2 A10 10 0 0 1 859.7 350.7" fill="none" stroke="#4fb0d2" stroke-opacity="0.28" stroke-width="1.1"/>
<circle cx="874.74" cy="335.9" r="7.44" fill="#c4eaf5" fill-opacity="0.22"/>
<path d="M888.3 334.7 A12 12 0 0 1 873.3 349.7" fill="none" stroke="#4fb0d2" stroke-opacity="0.28" stroke-width="1.1"/>
<circle cx="888.2" cy="334" r="6.2" fill="#c4eaf5" fill-opacity="0.22"/>
<path d="M899.5 333 A10 10 0 0 1 887 345.5" fill="none" stroke="#4fb0d2" stroke-opacity="0.28" stroke-width="1.1"/>
<circle cx="932.17" cy="278" r="8.37" fill="#c4eaf5" fill-opacity="0.22"/>
<path d="M947.43 276.65 A13.5 13.5 0 0 1 930.55 293.52" fill="none" stroke="#4fb0d2" stroke-opacity="0.28" stroke-width="1.1"/>
<circle cx="955.14" cy="266" r="7.44" fill="#c4eaf5" fill-opacity="0.22"/>
<path d="M968.7 264.8 A12 12 0 0 1 953.7 279.8" fill="none" stroke="#4fb0d2" stroke-opacity="0.28" stroke-width="1.1"/>
<circle cx="1006.05" cy="261.1" r="7.75" fill="#c4eaf5" fill-opacity="0.22"/>
<path d="M1020.17 259.85 A12.5 12.5 0 0 1 1004.55 275.48" fill="none" stroke="#4fb0d2" stroke-opacity="0.28" stroke-width="1.1"/>
<circle cx="1038.16" cy="277.1" r="8.06" fill="#c4eaf5" fill-opacity="0.22"/>
<path d="M1052.85 275.8 A13 13 0 0 1 1036.6 292.05" fill="none" stroke="#4fb0d2" stroke-opacity="0.28" stroke-width="1.1"/>
<circle cx="1018.35" cy="311.3" r="7.75" fill="#c4eaf5" fill-opacity="0.22"/>
<path d="M1032.47 310.05 A12.5 12.5 0 0 1 1016.85 325.68" fill="none" stroke="#4fb0d2" stroke-opacity="0.28" stroke-width="1.1"/>
<circle cx="991.31" cy="311.7" r="6.51" fill="#c4eaf5" fill-opacity="0.22"/>
<path d="M1003.18 310.65 A10.5 10.5 0 0 1 990.05 323.78" fill="none" stroke="#4fb0d2" stroke-opacity="0.28" stroke-width="1.1"/>
<circle cx="928.46" cy="316.8" r="8.06" fill="#c4eaf5" fill-opacity="0.22"/>
<path d="M943.15 315.5 A13 13 0 0 1 926.9 331.75" fill="none" stroke="#4fb0d2" stroke-opacity="0.28" stroke-width="1.1"/>
<circle cx="964.63" cy="332.3" r="7.13" fill="#c4eaf5" fill-opacity="0.22"/>
<path d="M977.62 331.15 A11.5 11.5 0 0 1 963.25 345.53" fill="none" stroke="#4fb0d2" stroke-opacity="0.28" stroke-width="1.1"/>
<circle cx="951.34" cy="351.1" r="7.44" fill="#c4eaf5" fill-opacity="0.22"/>
<path d="M964.9 349.9 A12 12 0 0 1 949.9 364.9" fill="none" stroke="#4fb0d2" stroke-opacity="0.28" stroke-width="1.1"/>
<circle cx="981.45" cy="349.1" r="7.75" fill="#c4eaf5" fill-opacity="0.22"/>
<path d="M995.58 347.85 A12.5 12.5 0 0 1 979.95 363.48" fill="none" stroke="#4fb0d2" stroke-opacity="0.28" stroke-width="1.1"/>
<circle cx="1034.45" cy="343.4" r="7.75" fill="#c4eaf5" fill-opacity="0.22"/>
<path d="M1048.58 342.15 A12.5 12.5 0 0 1 1032.95 357.77" fill="none" stroke="#4fb0d2" stroke-opacity="0.28" stroke-width="1.1"/>
<circle cx="1012.29" cy="334.6" r="5.89" fill="#c4eaf5" fill-opacity="0.22"/>
<path d="M1023.02 333.65 A9.5 9.5 0 0 1 1011.15 345.52" fill="none" stroke="#4fb0d2" stroke-opacity="0.28" stroke-width="1.1"/>
<circle cx="968.47" cy="260.3" r="5.27" fill="#c4eaf5" fill-opacity="0.22"/>
<path d="M978.08 259.45 A8.5 8.5 0 0 1 967.45 270.07" fill="none" stroke="#4fb0d2" stroke-opacity="0.28" stroke-width="1.1"/>
<circle cx="993.47" cy="260.3" r="5.27" fill="#c4eaf5" fill-opacity="0.22"/>
<path d="M1003.08 259.45 A8.5 8.5 0 0 1 992.45 270.07" fill="none" stroke="#4fb0d2" stroke-opacity="0.28" stroke-width="1.1"/>
<circle cx="998.38" cy="281.2" r="5.58" fill="#c4eaf5" fill-opacity="0.22"/>
<path d="M1008.55 280.3 A9 9 0 0 1 997.3 291.55" fill="none" stroke="#4fb0d2" stroke-opacity="0.28" stroke-width="1.1"/>
<circle cx="958.2" cy="316" r="6.2" fill="#c4eaf5" fill-opacity="0.22"/>
<path d="M969.5 315 A10 10 0 0 1 957 327.5" fill="none" stroke="#4fb0d2" stroke-opacity="0.28" stroke-width="1.1"/>
<circle cx="943.38" cy="343.2" r="5.58" fill="#c4eaf5" fill-opacity="0.22"/>
<path d="M953.55 342.3 A9 9 0 0 1 942.3 353.55" fill="none" stroke="#4fb0d2" stroke-opacity="0.28" stroke-width="1.1"/>
<circle cx="988.38" cy="273.2" r="5.58" fill="#c4eaf5" fill-opacity="0.22"/>
<path d="M998.55 272.3 A9 9 0 0 1 987.3 283.55" fill="none" stroke="#4fb0d2" stroke-opacity="0.28" stroke-width="1.1"/>
<circle cx="1001.38" cy="288.2" r="5.58" fill="#c4eaf5" fill-opacity="0.22"/>
<path d="M1011.55 287.3 A9 9 0 0 1 1000.3 298.55" fill="none" stroke="#4fb0d2" stroke-opacity="0.28" stroke-width="1.1"/>
<circle cx="928.56" cy="298.4" r="4.96" fill="#c4eaf5" fill-opacity="0.22"/>
<path d="M937.6 297.6 A8 8 0 0 1 927.6 307.6" fill="none" stroke="#4fb0d2" stroke-opacity="0.28" stroke-width="1.1"/>
<circle cx="888.56" cy="333.4" r="4.96" fill="#c4eaf5" fill-opacity="0.22"/>
<path d="M897.6 332.6 A8 8 0 0 1 887.6 342.6" fill="none" stroke="#4fb0d2" stroke-opacity="0.28" stroke-width="1.1"/>
<rect x="936.3" y="126.5" width="91.5" height="137" fill="none" stroke="#efe432" stroke-width="3.3" stroke-dasharray="10.2 3.8"/>
<g filter="url(#blur1)">
<path d="M0 0 L80 -6 L80 6 Z" fill="url(#gRay)" fill-opacity="0.55" transform="translate(489.5 402.5) rotate(4)"/>
<path d="M0 0 L100 -7 L100 7 Z" fill="url(#gRay)" fill-opacity="0.65" transform="translate(489.5 402.5) rotate(10)"/>
<path d="M0 0 L112 -7 L112 7 Z" fill="url(#gRay)" fill-opacity="0.7" transform="translate(489.5 402.5) rotate(16)"/>
<path d="M0 0 L122 -8 L122 8 Z" fill="url(#gRay)" fill-opacity="0.75" transform="translate(489.5 402.5) rotate(22)"/>
<path d="M0 0 L128 -8 L128 8 Z" fill="url(#gRay)" fill-opacity="0.8" transform="translate(489.5 402.5) rotate(28)"/>
<path d="M0 0 L132 -8 L132 8 Z" fill="url(#gRay)" fill-opacity="0.85" transform="translate(489.5 402.5) rotate(34)"/>
<path d="M0 0 L136 -9 L136 9 Z" fill="url(#gRay)" fill-opacity="0.9" transform="translate(489.5 402.5) rotate(40)"/>
<path d="M0 0 L138 -9 L138 9 Z" fill="url(#gRay)" fill-opacity="0.95" transform="translate(489.5 402.5) rotate(46)"/>
<path d="M0 0 L138 -10 L138 10 Z" fill="url(#gRay)" fill-opacity="1.0" transform="translate(489.5 402.5) rotate(52)"/>
<path d="M0 0 L134 -10 L134 10 Z" fill="url(#gRay)" fill-opacity="1.0" transform="translate(489.5 402.5) rotate(58)"/>
<path d="M0 0 L128 -10 L128 10 Z" fill="url(#gRay)" fill-opacity="1.0" transform="translate(489.5 402.5) rotate(64)"/>
<path d="M0 0 L120 -10 L120 10 Z" fill="url(#gRay)" fill-opacity="1.0" transform="translate(489.5 402.5) rotate(70)"/>
<path d="M0 0 L108 -9 L108 9 Z" fill="url(#gRay)" fill-opacity="0.95" transform="translate(489.5 402.5) rotate(76)"/>
<path d="M0 0 L92 -8 L92 8 Z" fill="url(#gRay)" fill-opacity="0.8" transform="translate(489.5 402.5) rotate(82)"/>
<path d="M0 0 L66 -6 L66 6 Z" fill="url(#gRay)" fill-opacity="0.55" transform="translate(489.5 402.5) rotate(89)"/>
</g>
<ellipse cx="491.5" cy="405.5" rx="36" ry="36" fill="url(#gSun)"/>
<path d="M664 496 L698 458 L902 440 L1026 528 L1020 566 L772 598 L738 590 Z" fill="#f0563a" fill-opacity="0.7" filter="url(#blur10)"/>
<path d="M680 492 L704 470 L896 452 L1010 532 L1006 556 L770 586 L750 580 Z" fill="#ec3c24" fill-opacity="0.85" filter="url(#blur5)"/>
<line x1="464.7" y1="520.94" x2="473" y2="520.4" stroke="#2a2f3a" stroke-width="0.6"/>
<line x1="473" y1="520.4" x2="477.6" y2="517.63" stroke="#2a2f3a" stroke-width="0.6"/>
<line x1="473" y1="520.4" x2="477.6" y2="522.58" stroke="#2a2f3a" stroke-width="0.6"/>
<line x1="477.6" y1="517.63" x2="485" y2="517.14" stroke="#2a2f3a" stroke-width="0.6"/>
<line x1="477.6" y1="522.58" x2="485" y2="522.1" stroke="#2a2f3a" stroke-width="0.6"/>
<line x1="485" y1="517.14" x2="488.6" y2="514.44" stroke="#2a2f3a" stroke-width="0.6"/>
<line x1="485" y1="517.14" x2="488.6" y2="519.39" stroke="#2a2f3a" stroke-width="0.6"/>
<line x1="485" y1="522.1" x2="488.6" y2="519.39" stroke="#2a2f3a" stroke-width="0.6"/>
<line x1="485" y1="522.1" x2="488.6" y2="524.34" stroke="#2a2f3a" stroke-width="0.6"/>
<line x1="488.6" y1="514.44" x2="496" y2="513.95" stroke="#2a2f3a" stroke-width="0.6"/>
<line x1="488.6" y1="519.39" x2="496" y2="518.9" stroke="#2a2f3a" stroke-width="0.6"/>
<line x1="488.6" y1="524.34" x2="496" y2="523.86" stroke="#2a2f3a" stroke-width="0.6"/>
<line x1="496" y1="513.95" x2="500.4" y2="511.19" stroke="#2a2f3a" stroke-width="0.6"/>
<line x1="496" y1="513.95" x2="500.4" y2="516.14" stroke="#2a2f3a" stroke-width="0.6"/>
<line x1="496" y1="518.9" x2="500.4" y2="516.14" stroke="#2a2f3a" stroke-width="0.6"/>
<line x1="496" y1="518.9" x2="500.4" y2="521.09" stroke="#2a2f3a" stroke-width="0.6"/>
<line x1="496" y1="523.86" x2="500.4" y2="521.09" stroke="#2a2f3a" stroke-width="0.6"/>
<line x1="496" y1="523.86" x2="500.4" y2="526.04" stroke="#2a2f3a" stroke-width="0.6"/>
<line x1="500.4" y1="511.19" x2="506.4" y2="515.1" stroke="#2a2f3a" stroke-width="0.6"/>
<line x1="506.4" y1="515.1" x2="511" y2="512.33" stroke="#2a2f3a" stroke-width="0.6"/>
<line x1="506.4" y1="515.1" x2="511" y2="517.28" stroke="#2a2f3a" stroke-width="0.6"/>
<line x1="511" y1="512.33" x2="518.4" y2="511.85" stroke="#2a2f3a" stroke-width="0.6"/>
<line x1="511" y1="517.28" x2="518.4" y2="516.8" stroke="#2a2f3a" stroke-width="0.6"/>
<line x1="518.4" y1="511.85" x2="522" y2="509.14" stroke="#2a2f3a" stroke-width="0.6"/>
<line x1="518.4" y1="511.85" x2="522" y2="514.09" stroke="#2a2f3a" stroke-width="0.6"/>
<line x1="518.4" y1="516.8" x2="522" y2="514.09" stroke="#2a2f3a" stroke-width="0.6"/>
<line x1="518.4" y1="516.8" x2="522" y2="519.04" stroke="#2a2f3a" stroke-width="0.6"/>
<line x1="522" y1="509.14" x2="529.4" y2="508.66" stroke="#2a2f3a" stroke-width="0.6"/>
<line x1="522" y1="514.09" x2="529.4" y2="513.61" stroke="#2a2f3a" stroke-width="0.6"/>
<line x1="522" y1="519.04" x2="529.4" y2="518.56" stroke="#2a2f3a" stroke-width="0.6"/>
<line x1="529.4" y1="508.66" x2="533.8" y2="505.89" stroke="#2a2f3a" stroke-width="0.6"/>
<line x1="529.4" y1="508.66" x2="533.8" y2="510.84" stroke="#2a2f3a" stroke-width="0.6"/>
<line x1="529.4" y1="513.61" x2="533.8" y2="510.84" stroke="#2a2f3a" stroke-width="0.6"/>
<line x1="529.4" y1="513.61" x2="533.8" y2="515.79" stroke="#2a2f3a" stroke-width="0.6"/>
<line x1="529.4" y1="518.56" x2="533.8" y2="515.79" stroke="#2a2f3a" stroke-width="0.6"/>
<line x1="529.4" y1="518.56" x2="533.8" y2="520.74" stroke="#2a2f3a" stroke-width="0.6"/>
<line x1="533.8" y1="505.89" x2="539.8" y2="509.8" stroke="#2a2f3a" stroke-width="0.6"/>
<line x1="539.8" y1="509.8" x2="544.4" y2="507.03" stroke="#2a2f3a" stroke-width="0.6"/>
<line x1="539.8" y1="509.8" x2="544.4" y2="511.98" stroke="#2a2f3a" stroke-width="0.6"/>
<line x1="544.4" y1="507.03" x2="551.8" y2="506.54" stroke="#2a2f3a" stroke-width="0.6"/>
<line x1="544.4" y1="511.98" x2="551.8" y2="511.5" stroke="#2a2f3a" stroke-width="0.6"/>
<line x1="551.8" y1="506.54" x2="555.4" y2="503.84" stroke="#2a2f3a" stroke-width="0.6"/>
<line x1="551.8" y1="506.54" x2="555.4" y2="508.79" stroke="#2a2f3a" stroke-width="0.6"/>
<line x1="551.8" y1="511.5" x2="555.4" y2="508.79" stroke="#2a2f3a" stroke-width="0.6"/>
<line x1="551.8" y1="511.5" x2="555.4" y2="513.74" stroke="#2a2f3a" stroke-width="0.6"/>
<line x1="555.4" y1="503.84" x2="562.8" y2="503.35" stroke="#2a2f3a" stroke-width="0.6"/>
<line x1="555.4" y1="508.79" x2="562.8" y2="508.3" stroke="#2a2f3a" stroke-width="0.6"/>
<line x1="555.4" y1="513.74" x2="562.8" y2="513.25" stroke="#2a2f3a" stroke-width="0.6"/>
<line x1="562.8" y1="503.35" x2="567.2" y2="500.59" stroke="#2a2f3a" stroke-width="0.6"/>
<line x1="562.8" y1="503.35" x2="567.2" y2="505.54" stroke="#2a2f3a" stroke-width="0.6"/>
<line x1="562.8" y1="508.3" x2="567.2" y2="505.54" stroke="#2a2f3a" stroke-width="0.6"/>
<line x1="562.8" y1="508.3" x2="567.2" y2="510.49" stroke="#2a2f3a" stroke-width="0.6"/>
<line x1="562.8" y1="513.25" x2="567.2" y2="510.49" stroke="#2a2f3a" stroke-width="0.6"/>
<line x1="562.8" y1="513.25" x2="567.2" y2="515.44" stroke="#2a2f3a" stroke-width="0.6"/>
<line x1="567.2" y1="500.59" x2="573.2" y2="504.5" stroke="#2a2f3a" stroke-width="0.6"/>
<line x1="573.2" y1="504.5" x2="577.8" y2="501.73" stroke="#2a2f3a" stroke-width="0.6"/>
<line x1="573.2" y1="504.5" x2="577.8" y2="506.68" stroke="#2a2f3a" stroke-width="0.6"/>
<line x1="577.8" y1="501.73" x2="585.2" y2="501.25" stroke="#2a2f3a" stroke-width="0.6"/>
<line x1="577.8" y1="506.68" x2="585.2" y2="506.2" stroke="#2a2f3a" stroke-width="0.6"/>
<line x1="585.2" y1="501.25" x2="588.8" y2="498.54" stroke="#2a2f3a" stroke-width="0.6"/>
<line x1="585.2" y1="501.25" x2="588.8" y2="503.49" stroke="#2a2f3a" stroke-width="0.6"/>
<line x1="585.2" y1="506.2" x2="588.8" y2="503.49" stroke="#2a2f3a" stroke-width="0.6"/>
<line x1="585.2" y1="506.2" x2="588.8" y2="508.44" stroke="#2a2f3a" stroke-width="0.6"/>
<line x1="588.8" y1="498.54" x2="596.2" y2="498.06" stroke="#2a2f3a" stroke-width="0.6"/>
<line x1="588.8" y1="503.49" x2="596.2" y2="503" stroke="#2a2f3a" stroke-width="0.6"/>
<line x1="588.8" y1="508.44" x2="596.2" y2="507.95" stroke="#2a2f3a" stroke-width="0.6"/>
<line x1="596.2" y1="498.06" x2="600.6" y2="495.29" stroke="#2a2f3a" stroke-width="0.6"/>
<line x1="596.2" y1="498.06" x2="600.6" y2="500.24" stroke="#2a2f3a" stroke-width="0.6"/>
<line x1="596.2" y1="503" x2="600.6" y2="500.24" stroke="#2a2f3a" stroke-width="0.6"/>
<line x1="596.2" y1="503" x2="600.6" y2="505.19" stroke="#2a2f3a" stroke-width="0.6"/>
<line x1="596.2" y1="507.95" x2="600.6" y2="505.19" stroke="#2a2f3a" stroke-width="0.6"/>
<line x1="596.2" y1="507.95" x2="600.6" y2="510.14" stroke="#2a2f3a" stroke-width="0.6"/>
<line x1="600.6" y1="495.29" x2="606.6" y2="499.2" stroke="#2a2f3a" stroke-width="0.6"/>
<line x1="606.6" y1="499.2" x2="611.2" y2="496.43" stroke="#2a2f3a" stroke-width="0.6"/>
<line x1="606.6" y1="499.2" x2="611.2" y2="501.38" stroke="#2a2f3a" stroke-width="0.6"/>
<line x1="611.2" y1="496.43" x2="618.6" y2="495.94" stroke="#2a2f3a" stroke-width="0.6"/>
<line x1="611.2" y1="501.38" x2="618.6" y2="500.9" stroke="#2a2f3a" stroke-width="0.6"/>
<line x1="618.6" y1="495.94" x2="622.2" y2="493.24" stroke="#2a2f3a" stroke-width="0.6"/>
<line x1="618.6" y1="495.94" x2="622.2" y2="498.19" stroke="#2a2f3a" stroke-width="0.6"/>
<line x1="618.6" y1="500.9" x2="622.2" y2="498.19" stroke="#2a2f3a" stroke-width="0.6"/>
<line x1="618.6" y1="500.9" x2="622.2" y2="503.14" stroke="#2a2f3a" stroke-width="0.6"/>
<line x1="622.2" y1="493.24" x2="629.6" y2="492.75" stroke="#2a2f3a" stroke-width="0.6"/>
<line x1="622.2" y1="498.19" x2="629.6" y2="497.7" stroke="#2a2f3a" stroke-width="0.6"/>
<line x1="622.2" y1="503.14" x2="629.6" y2="502.65" stroke="#2a2f3a" stroke-width="0.6"/>
<line x1="629.6" y1="492.75" x2="634" y2="489.99" stroke="#2a2f3a" stroke-width="0.6"/>
<line x1="629.6" y1="492.75" x2="634" y2="494.94" stroke="#2a2f3a" stroke-width="0.6"/>
<line x1="629.6" y1="497.7" x2="634" y2="494.94" stroke="#2a2f3a" stroke-width="0.6"/>
<line x1="629.6" y1="497.7" x2="634" y2="499.89" stroke="#2a2f3a" stroke-width="0.6"/>
<line x1="629.6" y1="502.65" x2="634" y2="499.89" stroke="#2a2f3a" stroke-width="0.6"/>
<line x1="629.6" y1="502.65" x2="634" y2="504.84" stroke="#2a2f3a" stroke-width="0.6"/>
<line x1="634" y1="489.99" x2="640" y2="493.9" stroke="#2a2f3a" stroke-width="0.6"/>
<line x1="640" y1="493.9" x2="644.6" y2="491.13" stroke="#2a2f3a" stroke-width="0.6"/>
<line x1="640" y1="493.9" x2="644.6" y2="496.08" stroke="#2a2f3a" stroke-width="0.6"/>
<line x1="644.6" y1="491.13" x2="652" y2="490.64" stroke="#2a2f3a" stroke-width="0.6"/>
<line x1="644.6" y1="496.08" x2="652" y2="495.6" stroke="#2a2f3a" stroke-width="0.6"/>
<line x1="652" y1="490.64" x2="655.6" y2="487.94" stroke="#2a2f3a" stroke-width="0.6"/>
<line x1="652" y1="490.64" x2="655.6" y2="492.89" stroke="#2a2f3a" stroke-width="0.6"/>
<line x1="652" y1="495.6" x2="655.6" y2="492.89" stroke="#2a2f3a" stroke-width="0.6"/>
<line x1="652" y1="495.6" x2="655.6" y2="497.84" stroke="#2a2f3a" stroke-width="0.6"/>
<line x1="655.6" y1="487.94" x2="663" y2="487.45" stroke="#2a2f3a" stroke-width="0.6"/>
<line x1="655.6" y1="492.89" x2="663" y2="492.4" stroke="#2a2f3a" stroke-width="0.6"/>
<line x1="655.6" y1="497.84" x2="663" y2="497.35" stroke="#2a2f3a" stroke-width="0.6"/>
<line x1="663" y1="487.45" x2="667.4" y2="484.69" stroke="#2a2f3a" stroke-width="0.6"/>
<line x1="663" y1="487.45" x2="667.4" y2="489.64" stroke="#2a2f3a" stroke-width="0.6"/>
<line x1="663" y1="492.4" x2="667.4" y2="489.64" stroke="#2a2f3a" stroke-width="0.6"/>
<line x1="663" y1="492.4" x2="667.4" y2="494.59" stroke="#2a2f3a" stroke-width="0.6"/>
<line x1="663" y1="497.35" x2="667.4" y2="494.59" stroke="#2a2f3a" stroke-width="0.6"/>
<line x1="663" y1="497.35" x2="667.4" y2="499.54" stroke="#2a2f3a" stroke-width="0.6"/>
<line x1="667.4" y1="484.69" x2="673.4" y2="488.6" stroke="#2a2f3a" stroke-width="0.6"/>
<line x1="673.4" y1="488.6" x2="678" y2="485.83" stroke="#2a2f3a" stroke-width="0.6"/>
<line x1="673.4" y1="488.6" x2="678" y2="490.78" stroke="#2a2f3a" stroke-width="0.6"/>
<line x1="678" y1="485.83" x2="685.4" y2="485.34" stroke="#2a2f3a" stroke-width="0.6"/>
<line x1="678" y1="490.78" x2="685.4" y2="490.3" stroke="#2a2f3a" stroke-width="0.6"/>
<line x1="685.4" y1="485.34" x2="689" y2="482.64" stroke="#2a2f3a" stroke-width="0.6"/>
<line x1="685.4" y1="485.34" x2="689" y2="487.59" stroke="#2a2f3a" stroke-width="0.6"/>
<line x1="685.4" y1="490.3" x2="689" y2="487.59" stroke="#2a2f3a" stroke-width="0.6"/>
<line x1="685.4" y1="490.3" x2="689" y2="492.54" stroke="#2a2f3a" stroke-width="0.6"/>
<line x1="689" y1="482.64" x2="696.4" y2="482.15" stroke="#2a2f3a" stroke-width="0.6"/>
<line x1="689" y1="487.59" x2="696.4" y2="487.1" stroke="#2a2f3a" stroke-width="0.6"/>
<line x1="689" y1="492.54" x2="696.4" y2="492.05" stroke="#2a2f3a" stroke-width="0.6"/>
<line x1="696.4" y1="482.15" x2="700.8" y2="479.39" stroke="#2a2f3a" stroke-width="0.6"/>
<line x1="696.4" y1="482.15" x2="700.8" y2="484.34" stroke="#2a2f3a" stroke-width="0.6"/>
<line x1="696.4" y1="487.1" x2="700.8" y2="484.34" stroke="#2a2f3a" stroke-width="0.6"/>
<line x1="696.4" y1="487.1" x2="700.8" y2="489.29" stroke="#2a2f3a" stroke-width="0.6"/>
<line x1="696.4" y1="492.05" x2="700.8" y2="489.29" stroke="#2a2f3a" stroke-width="0.6"/>
<line x1="696.4" y1="492.05" x2="700.8" y2="494.24" stroke="#2a2f3a" stroke-width="0.6"/>
<line x1="700.8" y1="479.39" x2="706.8" y2="483.3" stroke="#2a2f3a" stroke-width="0.6"/>
<line x1="464.29" y1="536.17" x2="473" y2="535.6" stroke="#2a2f3a" stroke-width="0.6"/>
<line x1="473" y1="535.6" x2="477.83" y2="532.69" stroke="#2a2f3a" stroke-width="0.6"/>
<line x1="473" y1="535.6" x2="477.83" y2="537.88" stroke="#2a2f3a" stroke-width="0.6"/>
<line x1="477.83" y1="532.69" x2="485.6" y2="532.18" stroke="#2a2f3a" stroke-width="0.6"/>
<line x1="477.83" y1="537.88" x2="485.6" y2="537.38" stroke="#2a2f3a" stroke-width="0.6"/>
<line x1="485.6" y1="532.18" x2="489.38" y2="529.34" stroke="#2a2f3a" stroke-width="0.6"/>
<line x1="485.6" y1="532.18" x2="489.38" y2="534.54" stroke="#2a2f3a" stroke-width="0.6"/>
<line x1="485.6" y1="537.38" x2="489.38" y2="534.54" stroke="#2a2f3a" stroke-width="0.6"/>
<line x1="485.6" y1="537.38" x2="489.38" y2="539.73" stroke="#2a2f3a" stroke-width="0.6"/>
<line x1="489.38" y1="529.34" x2="497.15" y2="528.83" stroke="#2a2f3a" stroke-width="0.6"/>
<line x1="489.38" y1="534.54" x2="497.15" y2="534.03" stroke="#2a2f3a" stroke-width="0.6"/>
<line x1="489.38" y1="539.73" x2="497.15" y2="539.23" stroke="#2a2f3a" stroke-width="0.6"/>
<line x1="497.15" y1="528.83" x2="501.77" y2="525.93" stroke="#2a2f3a" stroke-width="0.6"/>
<line x1="497.15" y1="528.83" x2="501.77" y2="531.13" stroke="#2a2f3a" stroke-width="0.6"/>
<line x1="497.15" y1="534.03" x2="501.77" y2="531.13" stroke="#2a2f3a" stroke-width="0.6"/>
<line x1="497.15" y1="534.03" x2="501.77" y2="536.33" stroke="#2a2f3a" stroke-width="0.6"/>
<line x1="497.15" y1="539.23" x2="501.77" y2="536.33" stroke="#2a2f3a" stroke-width="0.6"/>
<line x1="497.15" y1="539.23" x2="501.77" y2="541.53" stroke="#2a2f3a" stroke-width="0.6"/>
<line x1="501.77" y1="525.93" x2="508.07" y2="530.03" stroke="#2a2f3a" stroke-width="0.6"/>
<line x1="508.07" y1="530.03" x2="512.9" y2="527.12" stroke="#2a2f3a" stroke-width="0.6"/>
<line x1="508.07" y1="530.03" x2="512.9" y2="532.32" stroke="#2a2f3a" stroke-width="0.6"/>
<line x1="512.9" y1="527.12" x2="520.67" y2="526.62" stroke="#2a2f3a" stroke-width="0.6"/>
<line x1="512.9" y1="532.32" x2="520.67" y2="531.81" stroke="#2a2f3a" stroke-width="0.6"/>
<line x1="520.67" y1="526.62" x2="524.45" y2="523.77" stroke="#2a2f3a" stroke-width="0.6"/>
<line x1="520.67" y1="526.62" x2="524.45" y2="528.97" stroke="#2a2f3a" stroke-width="0.6"/>
<line x1="520.67" y1="531.81" x2="524.45" y2="528.97" stroke="#2a2f3a" stroke-width="0.6"/>
<line x1="520.67" y1="531.81" x2="524.45" y2="534.17" stroke="#2a2f3a" stroke-width="0.6"/>
<line x1="524.45" y1="523.77" x2="532.22" y2="523.27" stroke="#2a2f3a" stroke-width="0.6"/>
<line x1="524.45" y1="528.97" x2="532.22" y2="528.47" stroke="#2a2f3a" stroke-width="0.6"/>
<line x1="524.45" y1="534.17" x2="532.22" y2="533.66" stroke="#2a2f3a" stroke-width="0.6"/>
<line x1="532.22" y1="523.27" x2="536.84" y2="520.37" stroke="#2a2f3a" stroke-width="0.6"/>
<line x1="532.22" y1="523.27" x2="536.84" y2="525.57" stroke="#2a2f3a" stroke-width="0.6"/>
<line x1="532.22" y1="528.47" x2="536.84" y2="525.57" stroke="#2a2f3a" stroke-width="0.6"/>
<line x1="532.22" y1="528.47" x2="536.84" y2="530.76" stroke="#2a2f3a" stroke-width="0.6"/>
<line x1="532.22" y1="533.66" x2="536.84" y2="530.76" stroke="#2a2f3a" stroke-width="0.6"/>
<line x1="532.22" y1="533.66" x2="536.84" y2="535.96" stroke="#2a2f3a" stroke-width="0.6"/>
<line x1="536.84" y1="520.37" x2="543.14" y2="524.47" stroke="#2a2f3a" stroke-width="0.6"/>
<line x1="543.14" y1="524.47" x2="547.97" y2="521.56" stroke="#2a2f3a" stroke-width="0.6"/>
<line x1="543.14" y1="524.47" x2="547.97" y2="526.75" stroke="#2a2f3a" stroke-width="0.6"/>
<line x1="547.97" y1="521.56" x2="555.74" y2="521.05" stroke="#2a2f3a" stroke-width="0.6"/>
<line x1="547.97" y1="526.75" x2="555.74" y2="526.25" stroke="#2a2f3a" stroke-width="0.6"/>
<line x1="555.74" y1="521.05" x2="559.52" y2="518.21" stroke="#2a2f3a" stroke-width="0.6"/>
<line x1="555.74" y1="521.05" x2="559.52" y2="523.41" stroke="#2a2f3a" stroke-width="0.6"/>
<line x1="555.74" y1="526.25" x2="559.52" y2="523.41" stroke="#2a2f3a" stroke-width="0.6"/>
<line x1="555.74" y1="526.25" x2="559.52" y2="528.6" stroke="#2a2f3a" stroke-width="0.6"/>
<line x1="559.52" y1="518.21" x2="567.29" y2="517.7" stroke="#2a2f3a" stroke-width="0.6"/>
<line x1="559.52" y1="523.41" x2="567.29" y2="522.9" stroke="#2a2f3a" stroke-width="0.6"/>
<line x1="559.52" y1="528.6" x2="567.29" y2="528.1" stroke="#2a2f3a" stroke-width="0.6"/>
<line x1="567.29" y1="517.7" x2="571.91" y2="514.8" stroke="#2a2f3a" stroke-width="0.6"/>
<line x1="567.29" y1="517.7" x2="571.91" y2="520" stroke="#2a2f3a" stroke-width="0.6"/>
<line x1="567.29" y1="522.9" x2="571.91" y2="520" stroke="#2a2f3a" stroke-width="0.6"/>
<line x1="567.29" y1="522.9" x2="571.91" y2="525.2" stroke="#2a2f3a" stroke-width="0.6"/>
<line x1="567.29" y1="528.1" x2="571.91" y2="525.2" stroke="#2a2f3a" stroke-width="0.6"/>
<line x1="567.29" y1="528.1" x2="571.91" y2="530.4" stroke="#2a2f3a" stroke-width="0.6"/>
<line x1="571.91" y1="514.8" x2="578.21" y2="518.9" stroke="#2a2f3a" stroke-width="0.6"/>
<line x1="578.21" y1="518.9" x2="583.04" y2="515.99" stroke="#2a2f3a" stroke-width="0.6"/>
<line x1="578.21" y1="518.9" x2="583.04" y2="521.19" stroke="#2a2f3a" stroke-width="0.6"/>
<line x1="583.04" y1="515.99" x2="590.81" y2="515.49" stroke="#2a2f3a" stroke-width="0.6"/>
<line x1="583.04" y1="521.19" x2="590.81" y2="520.68" stroke="#2a2f3a" stroke-width="0.6"/>
<line x1="590.81" y1="515.49" x2="594.59" y2="512.64" stroke="#2a2f3a" stroke-width="0.6"/>
<line x1="590.81" y1="515.49" x2="594.59" y2="517.84" stroke="#2a2f3a" stroke-width="0.6"/>
<line x1="590.81" y1="520.68" x2="594.59" y2="517.84" stroke="#2a2f3a" stroke-width="0.6"/>
<line x1="590.81" y1="520.68" x2="594.59" y2="523.04" stroke="#2a2f3a" stroke-width="0.6"/>
<line x1="594.59" y1="512.64" x2="602.36" y2="512.14" stroke="#2a2f3a" stroke-width="0.6"/>
<line x1="594.59" y1="517.84" x2="602.36" y2="517.34" stroke="#2a2f3a" stroke-width="0.6"/>
<line x1="594.59" y1="523.04" x2="602.36" y2="522.53" stroke="#2a2f3a" stroke-width="0.6"/>
<line x1="602.36" y1="512.14" x2="606.98" y2="509.24" stroke="#2a2f3a" stroke-width="0.6"/>
<line x1="602.36" y1="512.14" x2="606.98" y2="514.44" stroke="#2a2f3a" stroke-width="0.6"/>
<line x1="602.36" y1="517.34" x2="606.98" y2="514.44" stroke="#2a2f3a" stroke-width="0.6"/>
<line x1="602.36" y1="517.34" x2="606.98" y2="519.63" stroke="#2a2f3a" stroke-width="0.6"/>
<line x1="602.36" y1="522.53" x2="606.98" y2="519.63" stroke="#2a2f3a" stroke-width="0.6"/>
<line x1="602.36" y1="522.53" x2="606.98" y2="524.83" stroke="#2a2f3a" stroke-width="0.6"/>
<line x1="606.98" y1="509.24" x2="613.28" y2="513.34" stroke="#2a2f3a" stroke-width="0.6"/>
<line x1="613.28" y1="513.34" x2="618.11" y2="510.43" stroke="#2a2f3a" stroke-width="0.6"/>
<line x1="613.28" y1="513.34" x2="618.11" y2="515.62" stroke="#2a2f3a" stroke-width="0.6"/>
<line x1="618.11" y1="510.43" x2="625.88" y2="509.92" stroke="#2a2f3a" stroke-width="0.6"/>
<line x1="618.11" y1="515.62" x2="625.88" y2="515.12" stroke="#2a2f3a" stroke-width="0.6"/>
<line x1="625.88" y1="509.92" x2="629.66" y2="507.08" stroke="#2a2f3a" stroke-width="0.6"/>
<line x1="625.88" y1="509.92" x2="629.66" y2="512.28" stroke="#2a2f3a" stroke-width="0.6"/>
<line x1="625.88" y1="515.12" x2="629.66" y2="512.28" stroke="#2a2f3a" stroke-width="0.6"/>
<line x1="625.88" y1="515.12" x2="629.66" y2="517.47" stroke="#2a2f3a" stroke-width="0.6"/>
<line x1="629.66" y1="507.08" x2="637.43" y2="506.57" stroke="#2a2f3a" stroke-width="0.6"/>
<line x1="629.66" y1="512.28" x2="637.43" y2="511.77" stroke="#2a2f3a" stroke-width="0.6"/>
<line x1="629.66" y1="517.47" x2="637.43" y2="516.97" stroke="#2a2f3a" stroke-width="0.6"/>
<line x1="637.43" y1="506.57" x2="642.05" y2="503.67" stroke="#2a2f3a" stroke-width="0.6"/>
<line x1="637.43" y1="506.57" x2="642.05" y2="508.87" stroke="#2a2f3a" stroke-width="0.6"/>
<line x1="637.43" y1="511.77" x2="642.05" y2="508.87" stroke="#2a2f3a" stroke-width="0.6"/>
<line x1="637.43" y1="511.77" x2="642.05" y2="514.07" stroke="#2a2f3a" stroke-width="0.6"/>
<line x1="637.43" y1="516.97" x2="642.05" y2="514.07" stroke="#2a2f3a" stroke-width="0.6"/>
<line x1="637.43" y1="516.97" x2="642.05" y2="519.27" stroke="#2a2f3a" stroke-width="0.6"/>
<line x1="642.05" y1="503.67" x2="648.35" y2="507.78" stroke="#2a2f3a" stroke-width="0.6"/>
<line x1="648.35" y1="507.78" x2="653.18" y2="504.86" stroke="#2a2f3a" stroke-width="0.6"/>
<line x1="648.35" y1="507.78" x2="653.18" y2="510.06" stroke="#2a2f3a" stroke-width="0.6"/>
<line x1="653.18" y1="504.86" x2="660.95" y2="504.36" stroke="#2a2f3a" stroke-width="0.6"/>
<line x1="653.18" y1="510.06" x2="660.95" y2="509.55" stroke="#2a2f3a" stroke-width="0.6"/>
<line x1="660.95" y1="504.36" x2="664.73" y2="501.51" stroke="#2a2f3a" stroke-width="0.6"/>
<line x1="660.95" y1="504.36" x2="664.73" y2="506.71" stroke="#2a2f3a" stroke-width="0.6"/>
<line x1="660.95" y1="509.55" x2="664.73" y2="506.71" stroke="#2a2f3a" stroke-width="0.6"/>
<line x1="660.95" y1="509.55" x2="664.73" y2="511.91" stroke="#2a2f3a" stroke-width="0.6"/>
<line x1="664.73" y1="501.51" x2="672.5" y2="501.01" stroke="#2a2f3a" stroke-width="0.6"/>
<line x1="664.73" y1="506.71" x2="672.5" y2="506.21" stroke="#2a2f3a" stroke-width="0.6"/>
<line x1="664.73" y1="511.91" x2="672.5" y2="511.4" stroke="#2a2f3a" stroke-width="0.6"/>
<line x1="672.5" y1="501.01" x2="677.12" y2="498.11" stroke="#2a2f3a" stroke-width="0.6"/>
<line x1="672.5" y1="501.01" x2="677.12" y2="503.31" stroke="#2a2f3a" stroke-width="0.6"/>
<line x1="672.5" y1="506.21" x2="677.12" y2="503.31" stroke="#2a2f3a" stroke-width="0.6"/>
<line x1="672.5" y1="506.21" x2="677.12" y2="508.5" stroke="#2a2f3a" stroke-width="0.6"/>
<line x1="672.5" y1="511.4" x2="677.12" y2="508.5" stroke="#2a2f3a" stroke-width="0.6"/>
<line x1="672.5" y1="511.4" x2="677.12" y2="513.7" stroke="#2a2f3a" stroke-width="0.6"/>
<line x1="677.12" y1="498.11" x2="683.42" y2="502.21" stroke="#2a2f3a" stroke-width="0.6"/>
<line x1="683.42" y1="502.21" x2="688.25" y2="499.3" stroke="#2a2f3a" stroke-width="0.6"/>
<line x1="683.42" y1="502.21" x2="688.25" y2="504.49" stroke="#2a2f3a" stroke-width="0.6"/>
<line x1="688.25" y1="499.3" x2="696.02" y2="498.79" stroke="#2a2f3a" stroke-width="0.6"/>
<line x1="688.25" y1="504.49" x2="696.02" y2="503.99" stroke="#2a2f3a" stroke-width="0.6"/>
<line x1="696.02" y1="498.79" x2="699.8" y2="495.95" stroke="#2a2f3a" stroke-width="0.6"/>
<line x1="696.02" y1="498.79" x2="699.8" y2="501.15" stroke="#2a2f3a" stroke-width="0.6"/>
<line x1="696.02" y1="503.99" x2="699.8" y2="501.15" stroke="#2a2f3a" stroke-width="0.6"/>
<line x1="696.02" y1="503.99" x2="699.8" y2="506.34" stroke="#2a2f3a" stroke-width="0.6"/>
<line x1="699.8" y1="495.95" x2="707.57" y2="495.44" stroke="#2a2f3a" stroke-width="0.6"/>
<line x1="699.8" y1="501.15" x2="707.57" y2="500.64" stroke="#2a2f3a" stroke-width="0.6"/>
<line x1="699.8" y1="506.34" x2="707.57" y2="505.84" stroke="#2a2f3a" stroke-width="0.6"/>
<line x1="707.57" y1="495.44" x2="712.19" y2="492.54" stroke="#2a2f3a" stroke-width="0.6"/>
<line x1="707.57" y1="495.44" x2="712.19" y2="497.74" stroke="#2a2f3a" stroke-width="0.6"/>
<line x1="707.57" y1="500.64" x2="712.19" y2="497.74" stroke="#2a2f3a" stroke-width="0.6"/>
<line x1="707.57" y1="500.64" x2="712.19" y2="502.94" stroke="#2a2f3a" stroke-width="0.6"/>
<line x1="707.57" y1="505.84" x2="712.19" y2="502.94" stroke="#2a2f3a" stroke-width="0.6"/>
<line x1="707.57" y1="505.84" x2="712.19" y2="508.14" stroke="#2a2f3a" stroke-width="0.6"/>
<line x1="712.19" y1="492.54" x2="718.49" y2="496.65" stroke="#2a2f3a" stroke-width="0.6"/>
<line x1="463.87" y1="552.39" x2="473" y2="551.8" stroke="#2a2f3a" stroke-width="0.6"/>
<line x1="473" y1="551.8" x2="478.06" y2="548.75" stroke="#2a2f3a" stroke-width="0.6"/>
<line x1="473" y1="551.8" x2="478.06" y2="554.19" stroke="#2a2f3a" stroke-width="0.6"/>
<line x1="478.06" y1="548.75" x2="486.2" y2="548.22" stroke="#2a2f3a" stroke-width="0.6"/>
<line x1="478.06" y1="554.19" x2="486.2" y2="553.66" stroke="#2a2f3a" stroke-width="0.6"/>
<line x1="486.2" y1="548.22" x2="490.16" y2="545.24" stroke="#2a2f3a" stroke-width="0.6"/>
<line x1="486.2" y1="548.22" x2="490.16" y2="550.68" stroke="#2a2f3a" stroke-width="0.6"/>
<line x1="486.2" y1="553.66" x2="490.16" y2="550.68" stroke="#2a2f3a" stroke-width="0.6"/>
<line x1="486.2" y1="553.66" x2="490.16" y2="556.13" stroke="#2a2f3a" stroke-width="0.6"/>
<line x1="490.16" y1="545.24" x2="498.3" y2="544.71" stroke="#2a2f3a" stroke-width="0.6"/>
<line x1="490.16" y1="550.68" x2="498.3" y2="550.16" stroke="#2a2f3a" stroke-width="0.6"/>
<line x1="490.16" y1="556.13" x2="498.3" y2="555.6" stroke="#2a2f3a" stroke-width="0.6"/>
<line x1="498.3" y1="544.71" x2="503.14" y2="541.67" stroke="#2a2f3a" stroke-width="0.6"/>
<line x1="498.3" y1="544.71" x2="503.14" y2="547.12" stroke="#2a2f3a" stroke-width="0.6"/>
<line x1="498.3" y1="550.16" x2="503.14" y2="547.12" stroke="#2a2f3a" stroke-width="0.6"/>
<line x1="498.3" y1="550.16" x2="503.14" y2="552.56" stroke="#2a2f3a" stroke-width="0.6"/>
<line x1="498.3" y1="555.6" x2="503.14" y2="552.56" stroke="#2a2f3a" stroke-width="0.6"/>
<line x1="498.3" y1="555.6" x2="503.14" y2="558.01" stroke="#2a2f3a" stroke-width="0.6"/>
<line x1="503.14" y1="541.67" x2="509.74" y2="545.97" stroke="#2a2f3a" stroke-width="0.6"/>
<line x1="509.74" y1="545.97" x2="514.8" y2="542.92" stroke="#2a2f3a" stroke-width="0.6"/>
<line x1="509.74" y1="545.97" x2="514.8" y2="548.36" stroke="#2a2f3a" stroke-width="0.6"/>
<line x1="514.8" y1="542.92" x2="522.94" y2="542.39" stroke="#2a2f3a" stroke-width="0.6"/>
<line x1="514.8" y1="548.36" x2="522.94" y2="547.83" stroke="#2a2f3a" stroke-width="0.6"/>
<line x1="522.94" y1="542.39" x2="526.9" y2="539.41" stroke="#2a2f3a" stroke-width="0.6"/>
<line x1="522.94" y1="542.39" x2="526.9" y2="544.85" stroke="#2a2f3a" stroke-width="0.6"/>
<line x1="522.94" y1="547.83" x2="526.9" y2="544.85" stroke="#2a2f3a" stroke-width="0.6"/>
<line x1="522.94" y1="547.83" x2="526.9" y2="550.3" stroke="#2a2f3a" stroke-width="0.6"/>
<line x1="526.9" y1="539.41" x2="535.04" y2="538.88" stroke="#2a2f3a" stroke-width="0.6"/>
<line x1="526.9" y1="544.85" x2="535.04" y2="544.33" stroke="#2a2f3a" stroke-width="0.6"/>
<line x1="526.9" y1="550.3" x2="535.04" y2="549.77" stroke="#2a2f3a" stroke-width="0.6"/>
<line x1="535.04" y1="538.88" x2="539.88" y2="535.84" stroke="#2a2f3a" stroke-width="0.6"/>
<line x1="535.04" y1="538.88" x2="539.88" y2="541.29" stroke="#2a2f3a" stroke-width="0.6"/>
<line x1="535.04" y1="544.33" x2="539.88" y2="541.29" stroke="#2a2f3a" stroke-width="0.6"/>
<line x1="535.04" y1="544.33" x2="539.88" y2="546.73" stroke="#2a2f3a" stroke-width="0.6"/>
<line x1="535.04" y1="549.77" x2="539.88" y2="546.73" stroke="#2a2f3a" stroke-width="0.6"/>
<line x1="535.04" y1="549.77" x2="539.88" y2="552.18" stroke="#2a2f3a" stroke-width="0.6"/>
<line x1="539.88" y1="535.84" x2="546.48" y2="540.14" stroke="#2a2f3a" stroke-width="0.6"/>
<line x1="546.48" y1="540.14" x2="551.54" y2="537.09" stroke="#2a2f3a" stroke-width="0.6"/>
<line x1="546.48" y1="540.14" x2="551.54" y2="542.53" stroke="#2a2f3a" stroke-width="0.6"/>
<line x1="551.54" y1="537.09" x2="559.68" y2="536.56" stroke="#2a2f3a" stroke-width="0.6"/>
<line x1="551.54" y1="542.53" x2="559.68" y2="542" stroke="#2a2f3a" stroke-width="0.6"/>
<line x1="559.68" y1="536.56" x2="563.64" y2="533.58" stroke="#2a2f3a" stroke-width="0.6"/>
<line x1="559.68" y1="536.56" x2="563.64" y2="539.02" stroke="#2a2f3a" stroke-width="0.6"/>
<line x1="559.68" y1="542" x2="563.64" y2="539.02" stroke="#2a2f3a" stroke-width="0.6"/>
<line x1="559.68" y1="542" x2="563.64" y2="544.47" stroke="#2a2f3a" stroke-width="0.6"/>
<line x1="563.64" y1="533.58" x2="571.78" y2="533.05" stroke="#2a2f3a" stroke-width="0.6"/>
<line x1="563.64" y1="539.02" x2="571.78" y2="538.5" stroke="#2a2f3a" stroke-width="0.6"/>
<line x1="563.64" y1="544.47" x2="571.78" y2="543.94" stroke="#2a2f3a" stroke-width="0.6"/>
<line x1="571.78" y1="533.05" x2="576.62" y2="530.01" stroke="#2a2f3a" stroke-width="0.6"/>
<line x1="571.78" y1="533.05" x2="576.62" y2="535.46" stroke="#2a2f3a" stroke-width="0.6"/>
<line x1="571.78" y1="538.5" x2="576.62" y2="535.46" stroke="#2a2f3a" stroke-width="0.6"/>
<line x1="571.78" y1="538.5" x2="576.62" y2="540.9" stroke="#2a2f3a" stroke-width="0.6"/>
<line x1="571.78" y1="543.94" x2="576.62" y2="540.9" stroke="#2a2f3a" stroke-width="0.6"/>
<line x1="571.78" y1="543.94" x2="576.62" y2="546.35" stroke="#2a2f3a" stroke-width="0.6"/>
<line x1="576.62" y1="530.01" x2="583.22" y2="534.31" stroke="#2a2f3a" stroke-width="0.6"/>
<line x1="583.22" y1="534.31" x2="588.28" y2="531.26" stroke="#2a2f3a" stroke-width="0.6"/>
<line x1="583.22" y1="534.31" x2="588.28" y2="536.7" stroke="#2a2f3a" stroke-width="0.6"/>
<line x1="588.28" y1="531.26" x2="596.42" y2="530.73" stroke="#2a2f3a" stroke-width="0.6"/>
<line x1="588.28" y1="536.7" x2="596.42" y2="536.17" stroke="#2a2f3a" stroke-width="0.6"/>
<line x1="596.42" y1="530.73" x2="600.38" y2="527.75" stroke="#2a2f3a" stroke-width="0.6"/>
<line x1="596.42" y1="530.73" x2="600.38" y2="533.19" stroke="#2a2f3a" stroke-width="0.6"/>
<line x1="596.42" y1="536.17" x2="600.38" y2="533.19" stroke="#2a2f3a" stroke-width="0.6"/>
<line x1="596.42" y1="536.17" x2="600.38" y2="538.64" stroke="#2a2f3a" stroke-width="0.6"/>
<line x1="600.38" y1="527.75" x2="608.52" y2="527.22" stroke="#2a2f3a" stroke-width="0.6"/>
<line x1="600.38" y1="533.19" x2="608.52" y2="532.67" stroke="#2a2f3a" stroke-width="0.6"/>
<line x1="600.38" y1="538.64" x2="608.52" y2="538.11" stroke="#2a2f3a" stroke-width="0.6"/>
<line x1="608.52" y1="527.22" x2="613.36" y2="524.18" stroke="#2a2f3a" stroke-width="0.6"/>
<line x1="608.52" y1="527.22" x2="613.36" y2="529.63" stroke="#2a2f3a" stroke-width="0.6"/>
<line x1="608.52" y1="532.67" x2="613.36" y2="529.63" stroke="#2a2f3a" stroke-width="0.6"/>
<line x1="608.52" y1="532.67" x2="613.36" y2="535.07" stroke="#2a2f3a" stroke-width="0.6"/>
<line x1="608.52" y1="538.11" x2="613.36" y2="535.07" stroke="#2a2f3a" stroke-width="0.6"/>
<line x1="608.52" y1="538.11" x2="613.36" y2="540.52" stroke="#2a2f3a" stroke-width="0.6"/>
<line x1="613.36" y1="524.18" x2="619.96" y2="528.48" stroke="#2a2f3a" stroke-width="0.6"/>
<line x1="619.96" y1="528.48" x2="625.02" y2="525.43" stroke="#2a2f3a" stroke-width="0.6"/>
<line x1="619.96" y1="528.48" x2="625.02" y2="530.87" stroke="#2a2f3a" stroke-width="0.6"/>
<line x1="625.02" y1="525.43" x2="633.16" y2="524.9" stroke="#2a2f3a" stroke-width="0.6"/>
<line x1="625.02" y1="530.87" x2="633.16" y2="530.34" stroke="#2a2f3a" stroke-width="0.6"/>
<line x1="633.16" y1="524.9" x2="637.12" y2="521.92" stroke="#2a2f3a" stroke-width="0.6"/>
<line x1="633.16" y1="524.9" x2="637.12" y2="527.36" stroke="#2a2f3a" stroke-width="0.6"/>
<line x1="633.16" y1="530.34" x2="637.12" y2="527.36" stroke="#2a2f3a" stroke-width="0.6"/>
<line x1="633.16" y1="530.34" x2="637.12" y2="532.81" stroke="#2a2f3a" stroke-width="0.6"/>
<line x1="637.12" y1="521.92" x2="645.26" y2="521.39" stroke="#2a2f3a" stroke-width="0.6"/>
<line x1="637.12" y1="527.36" x2="645.26" y2="526.84" stroke="#2a2f3a" stroke-width="0.6"/>
<line x1="637.12" y1="532.81" x2="645.26" y2="532.28" stroke="#2a2f3a" stroke-width="0.6"/>
<line x1="645.26" y1="521.39" x2="650.1" y2="518.35" stroke="#2a2f3a" stroke-width="0.6"/>
<line x1="645.26" y1="521.39" x2="650.1" y2="523.8" stroke="#2a2f3a" stroke-width="0.6"/>
<line x1="645.26" y1="526.84" x2="650.1" y2="523.8" stroke="#2a2f3a" stroke-width="0.6"/>
<line x1="645.26" y1="526.84" x2="650.1" y2="529.24" stroke="#2a2f3a" stroke-width="0.6"/>
<line x1="645.26" y1="532.28" x2="650.1" y2="529.24" stroke="#2a2f3a" stroke-width="0.6"/>
<line x1="645.26" y1="532.28" x2="650.1" y2="534.69" stroke="#2a2f3a" stroke-width="0.6"/>
<line x1="650.1" y1="518.35" x2="656.7" y2="522.65" stroke="#2a2f3a" stroke-width="0.6"/>
<line x1="656.7" y1="522.65" x2="661.76" y2="519.6" stroke="#2a2f3a" stroke-width="0.6"/>
<line x1="656.7" y1="522.65" x2="661.76" y2="525.04" stroke="#2a2f3a" stroke-width="0.6"/>
<line x1="661.76" y1="519.6" x2="669.9" y2="519.07" stroke="#2a2f3a" stroke-width="0.6"/>
<line x1="661.76" y1="525.04" x2="669.9" y2="524.51" stroke="#2a2f3a" stroke-width="0.6"/>
<line x1="669.9" y1="519.07" x2="673.86" y2="516.09" stroke="#2a2f3a" stroke-width="0.6"/>
<line x1="669.9" y1="519.07" x2="673.86" y2="521.53" stroke="#2a2f3a" stroke-width="0.6"/>
<line x1="669.9" y1="524.51" x2="673.86" y2="521.53" stroke="#2a2f3a" stroke-width="0.6"/>
<line x1="669.9" y1="524.51" x2="673.86" y2="526.98" stroke="#2a2f3a" stroke-width="0.6"/>
<line x1="673.86" y1="516.09" x2="682" y2="515.56" stroke="#2a2f3a" stroke-width="0.6"/>
<line x1="673.86" y1="521.53" x2="682" y2="521.01" stroke="#2a2f3a" stroke-width="0.6"/>
<line x1="673.86" y1="526.98" x2="682" y2="526.45" stroke="#2a2f3a" stroke-width="0.6"/>
<line x1="682" y1="515.56" x2="686.84" y2="512.52" stroke="#2a2f3a" stroke-width="0.6"/>
<line x1="682" y1="515.56" x2="686.84" y2="517.97" stroke="#2a2f3a" stroke-width="0.6"/>
<line x1="682" y1="521.01" x2="686.84" y2="517.97" stroke="#2a2f3a" stroke-width="0.6"/>
<line x1="682" y1="521.01" x2="686.84" y2="523.41" stroke="#2a2f3a" stroke-width="0.6"/>
<line x1="682" y1="526.45" x2="686.84" y2="523.41" stroke="#2a2f3a" stroke-width="0.6"/>
<line x1="682" y1="526.45" x2="686.84" y2="528.86" stroke="#2a2f3a" stroke-width="0.6"/>
<line x1="686.84" y1="512.52" x2="693.44" y2="516.82" stroke="#2a2f3a" stroke-width="0.6"/>
<line x1="693.44" y1="516.82" x2="698.5" y2="513.77" stroke="#2a2f3a" stroke-width="0.6"/>
<line x1="693.44" y1="516.82" x2="698.5" y2="519.21" stroke="#2a2f3a" stroke-width="0.6"/>
<line x1="698.5" y1="513.77" x2="706.64" y2="513.24" stroke="#2a2f3a" stroke-width="0.6"/>
<line x1="698.5" y1="519.21" x2="706.64" y2="518.68" stroke="#2a2f3a" stroke-width="0.6"/>
<line x1="706.64" y1="513.24" x2="710.6" y2="510.26" stroke="#2a2f3a" stroke-width="0.6"/>
<line x1="706.64" y1="513.24" x2="710.6" y2="515.7" stroke="#2a2f3a" stroke-width="0.6"/>
<line x1="706.64" y1="518.68" x2="710.6" y2="515.7" stroke="#2a2f3a" stroke-width="0.6"/>
<line x1="706.64" y1="518.68" x2="710.6" y2="521.15" stroke="#2a2f3a" stroke-width="0.6"/>
<line x1="710.6" y1="510.26" x2="718.74" y2="509.73" stroke="#2a2f3a" stroke-width="0.6"/>
<line x1="710.6" y1="515.7" x2="718.74" y2="515.18" stroke="#2a2f3a" stroke-width="0.6"/>
<line x1="710.6" y1="521.15" x2="718.74" y2="520.62" stroke="#2a2f3a" stroke-width="0.6"/>
<line x1="718.74" y1="509.73" x2="723.58" y2="506.69" stroke="#2a2f3a" stroke-width="0.6"/>
<line x1="718.74" y1="509.73" x2="723.58" y2="512.14" stroke="#2a2f3a" stroke-width="0.6"/>
<line x1="718.74" y1="515.18" x2="723.58" y2="512.14" stroke="#2a2f3a" stroke-width="0.6"/>
<line x1="718.74" y1="515.18" x2="723.58" y2="517.58" stroke="#2a2f3a" stroke-width="0.6"/>
<line x1="718.74" y1="520.62" x2="723.58" y2="517.58" stroke="#2a2f3a" stroke-width="0.6"/>
<line x1="718.74" y1="520.62" x2="723.58" y2="523.03" stroke="#2a2f3a" stroke-width="0.6"/>
<line x1="723.58" y1="506.69" x2="730.18" y2="510.99" stroke="#2a2f3a" stroke-width="0.6"/>
<line x1="463.45" y1="569.82" x2="473" y2="569.2" stroke="#2a2f3a" stroke-width="0.6"/>
<line x1="473" y1="569.2" x2="478.29" y2="566.01" stroke="#2a2f3a" stroke-width="0.6"/>
<line x1="473" y1="569.2" x2="478.29" y2="571.7" stroke="#2a2f3a" stroke-width="0.6"/>
<line x1="478.29" y1="566.01" x2="486.8" y2="565.46" stroke="#2a2f3a" stroke-width="0.6"/>
<line x1="478.29" y1="571.7" x2="486.8" y2="571.15" stroke="#2a2f3a" stroke-width="0.6"/>
<line x1="486.8" y1="565.46" x2="490.94" y2="562.34" stroke="#2a2f3a" stroke-width="0.6"/>
<line x1="486.8" y1="565.46" x2="490.94" y2="568.03" stroke="#2a2f3a" stroke-width="0.6"/>
<line x1="486.8" y1="571.15" x2="490.94" y2="568.03" stroke="#2a2f3a" stroke-width="0.6"/>
<line x1="486.8" y1="571.15" x2="490.94" y2="573.73" stroke="#2a2f3a" stroke-width="0.6"/>
<line x1="490.94" y1="562.34" x2="499.45" y2="561.79" stroke="#2a2f3a" stroke-width="0.6"/>
<line x1="490.94" y1="568.03" x2="499.45" y2="567.48" stroke="#2a2f3a" stroke-width="0.6"/>
<line x1="490.94" y1="573.73" x2="499.45" y2="573.17" stroke="#2a2f3a" stroke-width="0.6"/>
<line x1="499.45" y1="561.79" x2="504.51" y2="558.61" stroke="#2a2f3a" stroke-width="0.6"/>
<line x1="499.45" y1="561.79" x2="504.51" y2="564.31" stroke="#2a2f3a" stroke-width="0.6"/>
<line x1="499.45" y1="567.48" x2="504.51" y2="564.31" stroke="#2a2f3a" stroke-width="0.6"/>
<line x1="499.45" y1="567.48" x2="504.51" y2="570" stroke="#2a2f3a" stroke-width="0.6"/>
<line x1="499.45" y1="573.17" x2="504.51" y2="570" stroke="#2a2f3a" stroke-width="0.6"/>
<line x1="499.45" y1="573.17" x2="504.51" y2="575.69" stroke="#2a2f3a" stroke-width="0.6"/>
<line x1="504.51" y1="558.61" x2="511.41" y2="563.1" stroke="#2a2f3a" stroke-width="0.6"/>
<line x1="511.41" y1="563.1" x2="516.7" y2="559.91" stroke="#2a2f3a" stroke-width="0.6"/>
<line x1="511.41" y1="563.1" x2="516.7" y2="565.61" stroke="#2a2f3a" stroke-width="0.6"/>
<line x1="516.7" y1="559.91" x2="525.21" y2="559.36" stroke="#2a2f3a" stroke-width="0.6"/>
<line x1="516.7" y1="565.61" x2="525.21" y2="565.05" stroke="#2a2f3a" stroke-width="0.6"/>
<line x1="525.21" y1="559.36" x2="529.35" y2="556.25" stroke="#2a2f3a" stroke-width="0.6"/>
<line x1="525.21" y1="559.36" x2="529.35" y2="561.94" stroke="#2a2f3a" stroke-width="0.6"/>
<line x1="525.21" y1="565.05" x2="529.35" y2="561.94" stroke="#2a2f3a" stroke-width="0.6"/>
<line x1="525.21" y1="565.05" x2="529.35" y2="567.63" stroke="#2a2f3a" stroke-width="0.6"/>
<line x1="529.35" y1="556.25" x2="537.86" y2="555.69" stroke="#2a2f3a" stroke-width="0.6"/>
<line x1="529.35" y1="561.94" x2="537.86" y2="561.39" stroke="#2a2f3a" stroke-width="0.6"/>
<line x1="529.35" y1="567.63" x2="537.86" y2="567.08" stroke="#2a2f3a" stroke-width="0.6"/>
<line x1="537.86" y1="555.69" x2="542.92" y2="552.52" stroke="#2a2f3a" stroke-width="0.6"/>
<line x1="537.86" y1="555.69" x2="542.92" y2="558.21" stroke="#2a2f3a" stroke-width="0.6"/>
<line x1="537.86" y1="561.39" x2="542.92" y2="558.21" stroke="#2a2f3a" stroke-width="0.6"/>
<line x1="537.86" y1="561.39" x2="542.92" y2="563.9" stroke="#2a2f3a" stroke-width="0.6"/>
<line x1="537.86" y1="567.08" x2="542.92" y2="563.9" stroke="#2a2f3a" stroke-width="0.6"/>
<line x1="537.86" y1="567.08" x2="542.92" y2="569.6" stroke="#2a2f3a" stroke-width="0.6"/>
<line x1="542.92" y1="552.52" x2="549.82" y2="557.01" stroke="#2a2f3a" stroke-width="0.6"/>
<line x1="549.82" y1="557.01" x2="555.11" y2="553.82" stroke="#2a2f3a" stroke-width="0.6"/>
<line x1="549.82" y1="557.01" x2="555.11" y2="559.51" stroke="#2a2f3a" stroke-width="0.6"/>
<line x1="555.11" y1="553.82" x2="563.62" y2="553.27" stroke="#2a2f3a" stroke-width="0.6"/>
<line x1="555.11" y1="559.51" x2="563.62" y2="558.96" stroke="#2a2f3a" stroke-width="0.6"/>
<line x1="563.62" y1="553.27" x2="567.76" y2="550.15" stroke="#2a2f3a" stroke-width="0.6"/>
<line x1="563.62" y1="553.27" x2="567.76" y2="555.84" stroke="#2a2f3a" stroke-width="0.6"/>
<line x1="563.62" y1="558.96" x2="567.76" y2="555.84" stroke="#2a2f3a" stroke-width="0.6"/>
<line x1="563.62" y1="558.96" x2="567.76" y2="561.54" stroke="#2a2f3a" stroke-width="0.6"/>
<line x1="567.76" y1="550.15" x2="576.27" y2="549.6" stroke="#2a2f3a" stroke-width="0.6"/>
<line x1="567.76" y1="555.84" x2="576.27" y2="555.29" stroke="#2a2f3a" stroke-width="0.6"/>
<line x1="567.76" y1="561.54" x2="576.27" y2="560.98" stroke="#2a2f3a" stroke-width="0.6"/>
<line x1="576.27" y1="549.6" x2="581.33" y2="546.42" stroke="#2a2f3a" stroke-width="0.6"/>
<line x1="576.27" y1="549.6" x2="581.33" y2="552.12" stroke="#2a2f3a" stroke-width="0.6"/>
<line x1="576.27" y1="555.29" x2="581.33" y2="552.12" stroke="#2a2f3a" stroke-width="0.6"/>
<line x1="576.27" y1="555.29" x2="581.33" y2="557.81" stroke="#2a2f3a" stroke-width="0.6"/>
<line x1="576.27" y1="560.98" x2="581.33" y2="557.81" stroke="#2a2f3a" stroke-width="0.6"/>
<line x1="576.27" y1="560.98" x2="581.33" y2="563.5" stroke="#2a2f3a" stroke-width="0.6"/>
<line x1="581.33" y1="546.42" x2="588.23" y2="550.91" stroke="#2a2f3a" stroke-width="0.6"/>
<line x1="588.23" y1="550.91" x2="593.52" y2="547.72" stroke="#2a2f3a" stroke-width="0.6"/>
<line x1="588.23" y1="550.91" x2="593.52" y2="553.42" stroke="#2a2f3a" stroke-width="0.6"/>
<line x1="593.52" y1="547.72" x2="602.03" y2="547.17" stroke="#2a2f3a" stroke-width="0.6"/>
<line x1="593.52" y1="553.42" x2="602.03" y2="552.86" stroke="#2a2f3a" stroke-width="0.6"/>
<line x1="602.03" y1="547.17" x2="606.17" y2="544.06" stroke="#2a2f3a" stroke-width="0.6"/>
<line x1="602.03" y1="547.17" x2="606.17" y2="549.75" stroke="#2a2f3a" stroke-width="0.6"/>
<line x1="602.03" y1="552.86" x2="606.17" y2="549.75" stroke="#2a2f3a" stroke-width="0.6"/>
<line x1="602.03" y1="552.86" x2="606.17" y2="555.44" stroke="#2a2f3a" stroke-width="0.6"/>
<line x1="606.17" y1="544.06" x2="614.68" y2="543.5" stroke="#2a2f3a" stroke-width="0.6"/>
<line x1="606.17" y1="549.75" x2="614.68" y2="549.2" stroke="#2a2f3a" stroke-width="0.6"/>
<line x1="606.17" y1="555.44" x2="614.68" y2="554.89" stroke="#2a2f3a" stroke-width="0.6"/>
<line x1="614.68" y1="543.5" x2="619.74" y2="540.33" stroke="#2a2f3a" stroke-width="0.6"/>
<line x1="614.68" y1="543.5" x2="619.74" y2="546.02" stroke="#2a2f3a" stroke-width="0.6"/>
<line x1="614.68" y1="549.2" x2="619.74" y2="546.02" stroke="#2a2f3a" stroke-width="0.6"/>
<line x1="614.68" y1="549.2" x2="619.74" y2="551.71" stroke="#2a2f3a" stroke-width="0.6"/>
<line x1="614.68" y1="554.89" x2="619.74" y2="551.71" stroke="#2a2f3a" stroke-width="0.6"/>
<line x1="614.68" y1="554.89" x2="619.74" y2="557.41" stroke="#2a2f3a" stroke-width="0.6"/>
<line x1="619.74" y1="540.33" x2="626.64" y2="544.82" stroke="#2a2f3a" stroke-width="0.6"/>
<line x1="626.64" y1="544.82" x2="631.93" y2="541.63" stroke="#2a2f3a" stroke-width="0.6"/>
<line x1="626.64" y1="544.82" x2="631.93" y2="547.32" stroke="#2a2f3a" stroke-width="0.6"/>
<line x1="631.93" y1="541.63" x2="640.44" y2="541.08" stroke="#2a2f3a" stroke-width="0.6"/>
<line x1="631.93" y1="547.32" x2="640.44" y2="546.77" stroke="#2a2f3a" stroke-width="0.6"/>
<line x1="640.44" y1="541.08" x2="644.58" y2="537.96" stroke="#2a2f3a" stroke-width="0.6"/>
<line x1="640.44" y1="541.08" x2="644.58" y2="543.65" stroke="#2a2f3a" stroke-width="0.6"/>
<line x1="640.44" y1="546.77" x2="644.58" y2="543.65" stroke="#2a2f3a" stroke-width="0.6"/>
<line x1="640.44" y1="546.77" x2="644.58" y2="549.35" stroke="#2a2f3a" stroke-width="0.6"/>
<line x1="644.58" y1="537.96" x2="653.09" y2="537.41" stroke="#2a2f3a" stroke-width="0.6"/>
<line x1="644.58" y1="543.65" x2="653.09" y2="543.1" stroke="#2a2f3a" stroke-width="0.6"/>
<line x1="644.58" y1="549.35" x2="653.09" y2="548.79" stroke="#2a2f3a" stroke-width="0.6"/>
<line x1="653.09" y1="537.41" x2="658.15" y2="534.23" stroke="#2a2f3a" stroke-width="0.6"/>
<line x1="653.09" y1="537.41" x2="658.15" y2="539.93" stroke="#2a2f3a" stroke-width="0.6"/>
<line x1="653.09" y1="543.1" x2="658.15" y2="539.93" stroke="#2a2f3a" stroke-width="0.6"/>
<line x1="653.09" y1="543.1" x2="658.15" y2="545.62" stroke="#2a2f3a" stroke-width="0.6"/>
<line x1="653.09" y1="548.79" x2="658.15" y2="545.62" stroke="#2a2f3a" stroke-width="0.6"/>
<line x1="653.09" y1="548.79" x2="658.15" y2="551.31" stroke="#2a2f3a" stroke-width="0.6"/>
<line x1="658.15" y1="534.23" x2="665.05" y2="538.72" stroke="#2a2f3a" stroke-width="0.6"/>
<line x1="665.05" y1="538.72" x2="670.34" y2="535.53" stroke="#2a2f3a" stroke-width="0.6"/>
<line x1="665.05" y1="538.72" x2="670.34" y2="541.23" stroke="#2a2f3a" stroke-width="0.6"/>
<line x1="670.34" y1="535.53" x2="678.85" y2="534.98" stroke="#2a2f3a" stroke-width="0.6"/>
<line x1="670.34" y1="541.23" x2="678.85" y2="540.67" stroke="#2a2f3a" stroke-width="0.6"/>
<line x1="678.85" y1="534.98" x2="682.99" y2="531.87" stroke="#2a2f3a" stroke-width="0.6"/>
<line x1="678.85" y1="534.98" x2="682.99" y2="537.56" stroke="#2a2f3a" stroke-width="0.6"/>
<line x1="678.85" y1="540.67" x2="682.99" y2="537.56" stroke="#2a2f3a" stroke-width="0.6"/>
<line x1="678.85" y1="540.67" x2="682.99" y2="543.25" stroke="#2a2f3a" stroke-width="0.6"/>
<line x1="682.99" y1="531.87" x2="691.5" y2="531.31" stroke="#2a2f3a" stroke-width="0.6"/>
<line x1="682.99" y1="537.56" x2="691.5" y2="537.01" stroke="#2a2f3a" stroke-width="0.6"/>
<line x1="682.99" y1="543.25" x2="691.5" y2="542.7" stroke="#2a2f3a" stroke-width="0.6"/>
<line x1="691.5" y1="531.31" x2="696.56" y2="528.14" stroke="#2a2f3a" stroke-width="0.6"/>
<line x1="691.5" y1="531.31" x2="696.56" y2="533.83" stroke="#2a2f3a" stroke-width="0.6"/>
<line x1="691.5" y1="537.01" x2="696.56" y2="533.83" stroke="#2a2f3a" stroke-width="0.6"/>
<line x1="691.5" y1="537.01" x2="696.56" y2="539.52" stroke="#2a2f3a" stroke-width="0.6"/>
<line x1="691.5" y1="542.7" x2="696.56" y2="539.52" stroke="#2a2f3a" stroke-width="0.6"/>
<line x1="691.5" y1="542.7" x2="696.56" y2="545.22" stroke="#2a2f3a" stroke-width="0.6"/>
<line x1="696.56" y1="528.14" x2="703.46" y2="532.63" stroke="#2a2f3a" stroke-width="0.6"/>
<line x1="703.46" y1="532.63" x2="708.75" y2="529.44" stroke="#2a2f3a" stroke-width="0.6"/>
<line x1="703.46" y1="532.63" x2="708.75" y2="535.13" stroke="#2a2f3a" stroke-width="0.6"/>
<line x1="708.75" y1="529.44" x2="717.26" y2="528.89" stroke="#2a2f3a" stroke-width="0.6"/>
<line x1="708.75" y1="535.13" x2="717.26" y2="534.58" stroke="#2a2f3a" stroke-width="0.6"/>
<line x1="717.26" y1="528.89" x2="721.4" y2="525.77" stroke="#2a2f3a" stroke-width="0.6"/>
<line x1="717.26" y1="528.89" x2="721.4" y2="531.46" stroke="#2a2f3a" stroke-width="0.6"/>
<line x1="717.26" y1="534.58" x2="721.4" y2="531.46" stroke="#2a2f3a" stroke-width="0.6"/>
<line x1="717.26" y1="534.58" x2="721.4" y2="537.16" stroke="#2a2f3a" stroke-width="0.6"/>
<line x1="721.4" y1="525.77" x2="729.91" y2="525.22" stroke="#2a2f3a" stroke-width="0.6"/>
<line x1="721.4" y1="531.46" x2="729.91" y2="530.91" stroke="#2a2f3a" stroke-width="0.6"/>
<line x1="721.4" y1="537.16" x2="729.91" y2="536.6" stroke="#2a2f3a" stroke-width="0.6"/>
<line x1="729.91" y1="525.22" x2="734.97" y2="522.04" stroke="#2a2f3a" stroke-width="0.6"/>
<line x1="729.91" y1="525.22" x2="734.97" y2="527.74" stroke="#2a2f3a" stroke-width="0.6"/>
<line x1="729.91" y1="530.91" x2="734.97" y2="527.74" stroke="#2a2f3a" stroke-width="0.6"/>
<line x1="729.91" y1="530.91" x2="734.97" y2="533.43" stroke="#2a2f3a" stroke-width="0.6"/>
<line x1="729.91" y1="536.6" x2="734.97" y2="533.43" stroke="#2a2f3a" stroke-width="0.6"/>
<line x1="729.91" y1="536.6" x2="734.97" y2="539.12" stroke="#2a2f3a" stroke-width="0.6"/>
<line x1="734.97" y1="522.04" x2="741.87" y2="526.53" stroke="#2a2f3a" stroke-width="0.6"/>
<line x1="463.04" y1="588.25" x2="473" y2="587.6" stroke="#2a2f3a" stroke-width="0.6"/>
<line x1="473" y1="587.6" x2="478.52" y2="584.27" stroke="#2a2f3a" stroke-width="0.6"/>
<line x1="473" y1="587.6" x2="478.52" y2="590.21" stroke="#2a2f3a" stroke-width="0.6"/>
<line x1="478.52" y1="584.27" x2="487.4" y2="583.69" stroke="#2a2f3a" stroke-width="0.6"/>
<line x1="478.52" y1="590.21" x2="487.4" y2="589.63" stroke="#2a2f3a" stroke-width="0.6"/>
<line x1="487.4" y1="583.69" x2="491.72" y2="580.44" stroke="#2a2f3a" stroke-width="0.6"/>
<line x1="487.4" y1="583.69" x2="491.72" y2="586.38" stroke="#2a2f3a" stroke-width="0.6"/>
<line x1="487.4" y1="589.63" x2="491.72" y2="586.38" stroke="#2a2f3a" stroke-width="0.6"/>
<line x1="487.4" y1="589.63" x2="491.72" y2="592.32" stroke="#2a2f3a" stroke-width="0.6"/>
<line x1="491.72" y1="580.44" x2="500.6" y2="579.87" stroke="#2a2f3a" stroke-width="0.6"/>
<line x1="491.72" y1="586.38" x2="500.6" y2="585.81" stroke="#2a2f3a" stroke-width="0.6"/>
<line x1="491.72" y1="592.32" x2="500.6" y2="591.75" stroke="#2a2f3a" stroke-width="0.6"/>
<line x1="500.6" y1="579.87" x2="505.88" y2="576.55" stroke="#2a2f3a" stroke-width="0.6"/>
<line x1="500.6" y1="579.87" x2="505.88" y2="582.49" stroke="#2a2f3a" stroke-width="0.6"/>
<line x1="500.6" y1="585.81" x2="505.88" y2="582.49" stroke="#2a2f3a" stroke-width="0.6"/>
<line x1="500.6" y1="585.81" x2="505.88" y2="588.43" stroke="#2a2f3a" stroke-width="0.6"/>
<line x1="500.6" y1="591.75" x2="505.88" y2="588.43" stroke="#2a2f3a" stroke-width="0.6"/>
<line x1="500.6" y1="591.75" x2="505.88" y2="594.37" stroke="#2a2f3a" stroke-width="0.6"/>
<line x1="505.88" y1="576.55" x2="513.08" y2="581.24" stroke="#2a2f3a" stroke-width="0.6"/>
<line x1="513.08" y1="581.24" x2="518.6" y2="577.91" stroke="#2a2f3a" stroke-width="0.6"/>
<line x1="513.08" y1="581.24" x2="518.6" y2="583.85" stroke="#2a2f3a" stroke-width="0.6"/>
<line x1="518.6" y1="577.91" x2="527.48" y2="577.33" stroke="#2a2f3a" stroke-width="0.6"/>
<line x1="518.6" y1="583.85" x2="527.48" y2="583.27" stroke="#2a2f3a" stroke-width="0.6"/>
<line x1="527.48" y1="577.33" x2="531.8" y2="574.08" stroke="#2a2f3a" stroke-width="0.6"/>
<line x1="527.48" y1="577.33" x2="531.8" y2="580.02" stroke="#2a2f3a" stroke-width="0.6"/>
<line x1="527.48" y1="583.27" x2="531.8" y2="580.02" stroke="#2a2f3a" stroke-width="0.6"/>
<line x1="527.48" y1="583.27" x2="531.8" y2="585.96" stroke="#2a2f3a" stroke-width="0.6"/>
<line x1="531.8" y1="574.08" x2="540.68" y2="573.51" stroke="#2a2f3a" stroke-width="0.6"/>
<line x1="531.8" y1="580.02" x2="540.68" y2="579.45" stroke="#2a2f3a" stroke-width="0.6"/>
<line x1="531.8" y1="585.96" x2="540.68" y2="585.39" stroke="#2a2f3a" stroke-width="0.6"/>
<line x1="540.68" y1="573.51" x2="545.96" y2="570.19" stroke="#2a2f3a" stroke-width="0.6"/>
<line x1="540.68" y1="573.51" x2="545.96" y2="576.13" stroke="#2a2f3a" stroke-width="0.6"/>
<line x1="540.68" y1="579.45" x2="545.96" y2="576.13" stroke="#2a2f3a" stroke-width="0.6"/>
<line x1="540.68" y1="579.45" x2="545.96" y2="582.07" stroke="#2a2f3a" stroke-width="0.6"/>
<line x1="540.68" y1="585.39" x2="545.96" y2="582.07" stroke="#2a2f3a" stroke-width="0.6"/>
<line x1="540.68" y1="585.39" x2="545.96" y2="588.01" stroke="#2a2f3a" stroke-width="0.6"/>
<line x1="545.96" y1="570.19" x2="553.16" y2="574.88" stroke="#2a2f3a" stroke-width="0.6"/>
<line x1="553.16" y1="574.88" x2="558.68" y2="571.55" stroke="#2a2f3a" stroke-width="0.6"/>
<line x1="553.16" y1="574.88" x2="558.68" y2="577.49" stroke="#2a2f3a" stroke-width="0.6"/>
<line x1="558.68" y1="571.55" x2="567.56" y2="570.97" stroke="#2a2f3a" stroke-width="0.6"/>
<line x1="558.68" y1="577.49" x2="567.56" y2="576.91" stroke="#2a2f3a" stroke-width="0.6"/>
<line x1="567.56" y1="570.97" x2="571.88" y2="567.72" stroke="#2a2f3a" stroke-width="0.6"/>
<line x1="567.56" y1="570.97" x2="571.88" y2="573.66" stroke="#2a2f3a" stroke-width="0.6"/>
<line x1="567.56" y1="576.91" x2="571.88" y2="573.66" stroke="#2a2f3a" stroke-width="0.6"/>
<line x1="567.56" y1="576.91" x2="571.88" y2="579.6" stroke="#2a2f3a" stroke-width="0.6"/>
<line x1="571.88" y1="567.72" x2="580.76" y2="567.15" stroke="#2a2f3a" stroke-width="0.6"/>
<line x1="571.88" y1="573.66" x2="580.76" y2="573.09" stroke="#2a2f3a" stroke-width="0.6"/>
<line x1="571.88" y1="579.6" x2="580.76" y2="579.03" stroke="#2a2f3a" stroke-width="0.6"/>
<line x1="580.76" y1="567.15" x2="586.04" y2="563.83" stroke="#2a2f3a" stroke-width="0.6"/>
<line x1="580.76" y1="567.15" x2="586.04" y2="569.77" stroke="#2a2f3a" stroke-width="0.6"/>
<line x1="580.76" y1="573.09" x2="586.04" y2="569.77" stroke="#2a2f3a" stroke-width="0.6"/>
<line x1="580.76" y1="573.09" x2="586.04" y2="575.71" stroke="#2a2f3a" stroke-width="0.6"/>
<line x1="580.76" y1="579.03" x2="586.04" y2="575.71" stroke="#2a2f3a" stroke-width="0.6"/>
<line x1="580.76" y1="579.03" x2="586.04" y2="581.65" stroke="#2a2f3a" stroke-width="0.6"/>
<line x1="586.04" y1="563.83" x2="593.24" y2="568.52" stroke="#2a2f3a" stroke-width="0.6"/>
<line x1="593.24" y1="568.52" x2="598.76" y2="565.19" stroke="#2a2f3a" stroke-width="0.6"/>
<line x1="593.24" y1="568.52" x2="598.76" y2="571.13" stroke="#2a2f3a" stroke-width="0.6"/>
<line x1="598.76" y1="565.19" x2="607.64" y2="564.61" stroke="#2a2f3a" stroke-width="0.6"/>
<line x1="598.76" y1="571.13" x2="607.64" y2="570.55" stroke="#2a2f3a" stroke-width="0.6"/>
<line x1="607.64" y1="564.61" x2="611.96" y2="561.36" stroke="#2a2f3a" stroke-width="0.6"/>
<line x1="607.64" y1="564.61" x2="611.96" y2="567.3" stroke="#2a2f3a" stroke-width="0.6"/>
<line x1="607.64" y1="570.55" x2="611.96" y2="567.3" stroke="#2a2f3a" stroke-width="0.6"/>
<line x1="607.64" y1="570.55" x2="611.96" y2="573.24" stroke="#2a2f3a" stroke-width="0.6"/>
<line x1="611.96" y1="561.36" x2="620.84" y2="560.79" stroke="#2a2f3a" stroke-width="0.6"/>
<line x1="611.96" y1="567.3" x2="620.84" y2="566.73" stroke="#2a2f3a" stroke-width="0.6"/>
<line x1="611.96" y1="573.24" x2="620.84" y2="572.67" stroke="#2a2f3a" stroke-width="0.6"/>
<line x1="620.84" y1="560.79" x2="626.12" y2="557.47" stroke="#2a2f3a" stroke-width="0.6"/>
<line x1="620.84" y1="560.79" x2="626.12" y2="563.41" stroke="#2a2f3a" stroke-width="0.6"/>
<line x1="620.84" y1="566.73" x2="626.12" y2="563.41" stroke="#2a2f3a" stroke-width="0.6"/>
<line x1="620.84" y1="566.73" x2="626.12" y2="569.35" stroke="#2a2f3a" stroke-width="0.6"/>
<line x1="620.84" y1="572.67" x2="626.12" y2="569.35" stroke="#2a2f3a" stroke-width="0.6"/>
<line x1="620.84" y1="572.67" x2="626.12" y2="575.29" stroke="#2a2f3a" stroke-width="0.6"/>
<line x1="626.12" y1="557.47" x2="633.32" y2="562.16" stroke="#2a2f3a" stroke-width="0.6"/>
<line x1="633.32" y1="562.16" x2="638.84" y2="558.83" stroke="#2a2f3a" stroke-width="0.6"/>
<line x1="633.32" y1="562.16" x2="638.84" y2="564.77" stroke="#2a2f3a" stroke-width="0.6"/>
<line x1="638.84" y1="558.83" x2="647.72" y2="558.25" stroke="#2a2f3a" stroke-width="0.6"/>
<line x1="638.84" y1="564.77" x2="647.72" y2="564.19" stroke="#2a2f3a" stroke-width="0.6"/>
<line x1="647.72" y1="558.25" x2="652.04" y2="555" stroke="#2a2f3a" stroke-width="0.6"/>
<line x1="647.72" y1="558.25" x2="652.04" y2="560.94" stroke="#2a2f3a" stroke-width="0.6"/>
<line x1="647.72" y1="564.19" x2="652.04" y2="560.94" stroke="#2a2f3a" stroke-width="0.6"/>
<line x1="647.72" y1="564.19" x2="652.04" y2="566.88" stroke="#2a2f3a" stroke-width="0.6"/>
<line x1="652.04" y1="555" x2="660.92" y2="554.43" stroke="#2a2f3a" stroke-width="0.6"/>
<line x1="652.04" y1="560.94" x2="660.92" y2="560.37" stroke="#2a2f3a" stroke-width="0.6"/>
<line x1="652.04" y1="566.88" x2="660.92" y2="566.31" stroke="#2a2f3a" stroke-width="0.6"/>
<line x1="660.92" y1="554.43" x2="666.2" y2="551.11" stroke="#2a2f3a" stroke-width="0.6"/>
<line x1="660.92" y1="554.43" x2="666.2" y2="557.05" stroke="#2a2f3a" stroke-width="0.6"/>
<line x1="660.92" y1="560.37" x2="666.2" y2="557.05" stroke="#2a2f3a" stroke-width="0.6"/>
<line x1="660.92" y1="560.37" x2="666.2" y2="562.99" stroke="#2a2f3a" stroke-width="0.6"/>
<line x1="660.92" y1="566.31" x2="666.2" y2="562.99" stroke="#2a2f3a" stroke-width="0.6"/>
<line x1="660.92" y1="566.31" x2="666.2" y2="568.93" stroke="#2a2f3a" stroke-width="0.6"/>
<line x1="666.2" y1="551.11" x2="673.4" y2="555.8" stroke="#2a2f3a" stroke-width="0.6"/>
<line x1="673.4" y1="555.8" x2="678.92" y2="552.47" stroke="#2a2f3a" stroke-width="0.6"/>
<line x1="673.4" y1="555.8" x2="678.92" y2="558.41" stroke="#2a2f3a" stroke-width="0.6"/>
<line x1="678.92" y1="552.47" x2="687.8" y2="551.89" stroke="#2a2f3a" stroke-width="0.6"/>
<line x1="678.92" y1="558.41" x2="687.8" y2="557.83" stroke="#2a2f3a" stroke-width="0.6"/>
<line x1="687.8" y1="551.89" x2="692.12" y2="548.64" stroke="#2a2f3a" stroke-width="0.6"/>
<line x1="687.8" y1="551.89" x2="692.12" y2="554.58" stroke="#2a2f3a" stroke-width="0.6"/>
<line x1="687.8" y1="557.83" x2="692.12" y2="554.58" stroke="#2a2f3a" stroke-width="0.6"/>
<line x1="687.8" y1="557.83" x2="692.12" y2="560.52" stroke="#2a2f3a" stroke-width="0.6"/>
<line x1="692.12" y1="548.64" x2="701" y2="548.07" stroke="#2a2f3a" stroke-width="0.6"/>
<line x1="692.12" y1="554.58" x2="701" y2="554.01" stroke="#2a2f3a" stroke-width="0.6"/>
<line x1="692.12" y1="560.52" x2="701" y2="559.95" stroke="#2a2f3a" stroke-width="0.6"/>
<line x1="701" y1="548.07" x2="706.28" y2="544.75" stroke="#2a2f3a" stroke-width="0.6"/>
<line x1="701" y1="548.07" x2="706.28" y2="550.69" stroke="#2a2f3a" stroke-width="0.6"/>
<line x1="701" y1="554.01" x2="706.28" y2="550.69" stroke="#2a2f3a" stroke-width="0.6"/>
<line x1="701" y1="554.01" x2="706.28" y2="556.63" stroke="#2a2f3a" stroke-width="0.6"/>
<line x1="701" y1="559.95" x2="706.28" y2="556.63" stroke="#2a2f3a" stroke-width="0.6"/>
<line x1="701" y1="559.95" x2="706.28" y2="562.57" stroke="#2a2f3a" stroke-width="0.6"/>
<line x1="706.28" y1="544.75" x2="713.48" y2="549.44" stroke="#2a2f3a" stroke-width="0.6"/>
<line x1="713.48" y1="549.44" x2="719" y2="546.11" stroke="#2a2f3a" stroke-width="0.6"/>
<line x1="713.48" y1="549.44" x2="719" y2="552.05" stroke="#2a2f3a" stroke-width="0.6"/>
<line x1="719" y1="546.11" x2="727.88" y2="545.53" stroke="#2a2f3a" stroke-width="0.6"/>
<line x1="719" y1="552.05" x2="727.88" y2="551.47" stroke="#2a2f3a" stroke-width="0.6"/>
<line x1="727.88" y1="545.53" x2="732.2" y2="542.28" stroke="#2a2f3a" stroke-width="0.6"/>
<line x1="727.88" y1="545.53" x2="732.2" y2="548.22" stroke="#2a2f3a" stroke-width="0.6"/>
<line x1="727.88" y1="551.47" x2="732.2" y2="548.22" stroke="#2a2f3a" stroke-width="0.6"/>
<line x1="727.88" y1="551.47" x2="732.2" y2="554.16" stroke="#2a2f3a" stroke-width="0.6"/>
<line x1="732.2" y1="542.28" x2="741.08" y2="541.71" stroke="#2a2f3a" stroke-width="0.6"/>
<line x1="732.2" y1="548.22" x2="741.08" y2="547.65" stroke="#2a2f3a" stroke-width="0.6"/>
<line x1="732.2" y1="554.16" x2="741.08" y2="553.59" stroke="#2a2f3a" stroke-width="0.6"/>
<line x1="741.08" y1="541.71" x2="746.36" y2="538.39" stroke="#2a2f3a" stroke-width="0.6"/>
<line x1="741.08" y1="541.71" x2="746.36" y2="544.33" stroke="#2a2f3a" stroke-width="0.6"/>
<line x1="741.08" y1="547.65" x2="746.36" y2="544.33" stroke="#2a2f3a" stroke-width="0.6"/>
<line x1="741.08" y1="547.65" x2="746.36" y2="550.27" stroke="#2a2f3a" stroke-width="0.6"/>
<line x1="741.08" y1="553.59" x2="746.36" y2="550.27" stroke="#2a2f3a" stroke-width="0.6"/>
<line x1="741.08" y1="553.59" x2="746.36" y2="556.21" stroke="#2a2f3a" stroke-width="0.6"/>
<line x1="746.36" y1="538.39" x2="753.56" y2="543.08" stroke="#2a2f3a" stroke-width="0.6"/>
<line x1="462.62" y1="607.87" x2="473" y2="607.2" stroke="#2a2f3a" stroke-width="0.6"/>
<line x1="473" y1="607.2" x2="478.75" y2="603.73" stroke="#2a2f3a" stroke-width="0.6"/>
<line x1="473" y1="607.2" x2="478.75" y2="609.92" stroke="#2a2f3a" stroke-width="0.6"/>
<line x1="478.75" y1="603.73" x2="488" y2="603.13" stroke="#2a2f3a" stroke-width="0.6"/>
<line x1="478.75" y1="609.92" x2="488" y2="609.32" stroke="#2a2f3a" stroke-width="0.6"/>
<line x1="488" y1="603.13" x2="492.5" y2="599.74" stroke="#2a2f3a" stroke-width="0.6"/>
<line x1="488" y1="603.13" x2="492.5" y2="605.93" stroke="#2a2f3a" stroke-width="0.6"/>
<line x1="488" y1="609.32" x2="492.5" y2="605.93" stroke="#2a2f3a" stroke-width="0.6"/>
<line x1="488" y1="609.32" x2="492.5" y2="612.12" stroke="#2a2f3a" stroke-width="0.6"/>
<line x1="492.5" y1="599.74" x2="501.75" y2="599.14" stroke="#2a2f3a" stroke-width="0.6"/>
<line x1="492.5" y1="605.93" x2="501.75" y2="605.33" stroke="#2a2f3a" stroke-width="0.6"/>
<line x1="492.5" y1="612.12" x2="501.75" y2="611.52" stroke="#2a2f3a" stroke-width="0.6"/>
<line x1="501.75" y1="599.14" x2="507.25" y2="595.69" stroke="#2a2f3a" stroke-width="0.6"/>
<line x1="501.75" y1="599.14" x2="507.25" y2="601.88" stroke="#2a2f3a" stroke-width="0.6"/>
<line x1="501.75" y1="605.33" x2="507.25" y2="601.88" stroke="#2a2f3a" stroke-width="0.6"/>
<line x1="501.75" y1="605.33" x2="507.25" y2="608.07" stroke="#2a2f3a" stroke-width="0.6"/>
<line x1="501.75" y1="611.52" x2="507.25" y2="608.07" stroke="#2a2f3a" stroke-width="0.6"/>
<line x1="501.75" y1="611.52" x2="507.25" y2="614.25" stroke="#2a2f3a" stroke-width="0.6"/>
<line x1="507.25" y1="595.69" x2="514.75" y2="600.57" stroke="#2a2f3a" stroke-width="0.6"/>
<line x1="598.25" y1="587.32" x2="604" y2="583.86" stroke="#2a2f3a" stroke-width="0.6"/>
<line x1="598.25" y1="587.32" x2="604" y2="590.04" stroke="#2a2f3a" stroke-width="0.6"/>
<line x1="604" y1="583.86" x2="613.25" y2="583.26" stroke="#2a2f3a" stroke-width="0.6"/>
<line x1="604" y1="590.04" x2="613.25" y2="589.44" stroke="#2a2f3a" stroke-width="0.6"/>
<line x1="613.25" y1="583.26" x2="617.75" y2="579.87" stroke="#2a2f3a" stroke-width="0.6"/>
<line x1="613.25" y1="583.26" x2="617.75" y2="586.06" stroke="#2a2f3a" stroke-width="0.6"/>
<line x1="613.25" y1="589.44" x2="617.75" y2="586.06" stroke="#2a2f3a" stroke-width="0.6"/>
<line x1="613.25" y1="589.44" x2="617.75" y2="592.24" stroke="#2a2f3a" stroke-width="0.6"/>
<line x1="617.75" y1="579.87" x2="627" y2="579.27" stroke="#2a2f3a" stroke-width="0.6"/>
<line x1="617.75" y1="586.06" x2="627" y2="585.46" stroke="#2a2f3a" stroke-width="0.6"/>
<line x1="617.75" y1="592.24" x2="627" y2="591.64" stroke="#2a2f3a" stroke-width="0.6"/>
<line x1="627" y1="579.27" x2="632.5" y2="575.82" stroke="#2a2f3a" stroke-width="0.6"/>
<line x1="627" y1="579.27" x2="632.5" y2="582" stroke="#2a2f3a" stroke-width="0.6"/>
<line x1="627" y1="585.46" x2="632.5" y2="582" stroke="#2a2f3a" stroke-width="0.6"/>
<line x1="627" y1="585.46" x2="632.5" y2="588.19" stroke="#2a2f3a" stroke-width="0.6"/>
<line x1="627" y1="591.64" x2="632.5" y2="588.19" stroke="#2a2f3a" stroke-width="0.6"/>
<line x1="627" y1="591.64" x2="632.5" y2="594.38" stroke="#2a2f3a" stroke-width="0.6"/>
<line x1="632.5" y1="575.82" x2="640" y2="580.7" stroke="#2a2f3a" stroke-width="0.6"/>
<line x1="640" y1="580.7" x2="645.75" y2="577.23" stroke="#2a2f3a" stroke-width="0.6"/>
<line x1="640" y1="580.7" x2="645.75" y2="583.42" stroke="#2a2f3a" stroke-width="0.6"/>
<line x1="645.75" y1="577.23" x2="655" y2="576.63" stroke="#2a2f3a" stroke-width="0.6"/>
<line x1="645.75" y1="583.42" x2="655" y2="582.82" stroke="#2a2f3a" stroke-width="0.6"/>
<line x1="655" y1="576.63" x2="659.5" y2="573.24" stroke="#2a2f3a" stroke-width="0.6"/>
<line x1="655" y1="576.63" x2="659.5" y2="579.43" stroke="#2a2f3a" stroke-width="0.6"/>
<line x1="655" y1="582.82" x2="659.5" y2="579.43" stroke="#2a2f3a" stroke-width="0.6"/>
<line x1="655" y1="582.82" x2="659.5" y2="585.62" stroke="#2a2f3a" stroke-width="0.6"/>
<line x1="659.5" y1="573.24" x2="668.75" y2="572.64" stroke="#2a2f3a" stroke-width="0.6"/>
<line x1="659.5" y1="579.43" x2="668.75" y2="578.83" stroke="#2a2f3a" stroke-width="0.6"/>
<line x1="659.5" y1="585.62" x2="668.75" y2="585.02" stroke="#2a2f3a" stroke-width="0.6"/>
<line x1="668.75" y1="572.64" x2="674.25" y2="569.19" stroke="#2a2f3a" stroke-width="0.6"/>
<line x1="668.75" y1="572.64" x2="674.25" y2="575.38" stroke="#2a2f3a" stroke-width="0.6"/>
<line x1="668.75" y1="578.83" x2="674.25" y2="575.38" stroke="#2a2f3a" stroke-width="0.6"/>
<line x1="668.75" y1="578.83" x2="674.25" y2="581.57" stroke="#2a2f3a" stroke-width="0.6"/>
<line x1="668.75" y1="585.02" x2="674.25" y2="581.57" stroke="#2a2f3a" stroke-width="0.6"/>
<line x1="668.75" y1="585.02" x2="674.25" y2="587.75" stroke="#2a2f3a" stroke-width="0.6"/>
<line x1="674.25" y1="569.19" x2="681.75" y2="574.07" stroke="#2a2f3a" stroke-width="0.6"/>
<line x1="681.75" y1="574.07" x2="687.5" y2="570.61" stroke="#2a2f3a" stroke-width="0.6"/>
<line x1="681.75" y1="574.07" x2="687.5" y2="576.79" stroke="#2a2f3a" stroke-width="0.6"/>
<line x1="687.5" y1="570.61" x2="696.75" y2="570.01" stroke="#2a2f3a" stroke-width="0.6"/>
<line x1="687.5" y1="576.79" x2="696.75" y2="576.19" stroke="#2a2f3a" stroke-width="0.6"/>
<line x1="696.75" y1="570.01" x2="701.25" y2="566.62" stroke="#2a2f3a" stroke-width="0.6"/>
<line x1="696.75" y1="570.01" x2="701.25" y2="572.81" stroke="#2a2f3a" stroke-width="0.6"/>
<line x1="696.75" y1="576.19" x2="701.25" y2="572.81" stroke="#2a2f3a" stroke-width="0.6"/>
<line x1="696.75" y1="576.19" x2="701.25" y2="578.99" stroke="#2a2f3a" stroke-width="0.6"/>
<line x1="701.25" y1="566.62" x2="710.5" y2="566.02" stroke="#2a2f3a" stroke-width="0.6"/>
<line x1="701.25" y1="572.81" x2="710.5" y2="572.21" stroke="#2a2f3a" stroke-width="0.6"/>
<line x1="701.25" y1="578.99" x2="710.5" y2="578.39" stroke="#2a2f3a" stroke-width="0.6"/>
<line x1="710.5" y1="566.02" x2="716" y2="562.57" stroke="#2a2f3a" stroke-width="0.6"/>
<line x1="710.5" y1="566.02" x2="716" y2="568.75" stroke="#2a2f3a" stroke-width="0.6"/>
<line x1="710.5" y1="572.21" x2="716" y2="568.75" stroke="#2a2f3a" stroke-width="0.6"/>
<line x1="710.5" y1="572.21" x2="716" y2="574.94" stroke="#2a2f3a" stroke-width="0.6"/>
<line x1="710.5" y1="578.39" x2="716" y2="574.94" stroke="#2a2f3a" stroke-width="0.6"/>
<line x1="710.5" y1="578.39" x2="716" y2="581.13" stroke="#2a2f3a" stroke-width="0.6"/>
<line x1="716" y1="562.57" x2="723.5" y2="567.45" stroke="#2a2f3a" stroke-width="0.6"/>
<line x1="723.5" y1="567.45" x2="729.25" y2="563.98" stroke="#2a2f3a" stroke-width="0.6"/>
<line x1="723.5" y1="567.45" x2="729.25" y2="570.17" stroke="#2a2f3a" stroke-width="0.6"/>
<line x1="729.25" y1="563.98" x2="738.5" y2="563.38" stroke="#2a2f3a" stroke-width="0.6"/>
<line x1="729.25" y1="570.17" x2="738.5" y2="569.57" stroke="#2a2f3a" stroke-width="0.6"/>
<line x1="738.5" y1="563.38" x2="743" y2="559.99" stroke="#2a2f3a" stroke-width="0.6"/>
<line x1="738.5" y1="563.38" x2="743" y2="566.18" stroke="#2a2f3a" stroke-width="0.6"/>
<line x1="738.5" y1="569.57" x2="743" y2="566.18" stroke="#2a2f3a" stroke-width="0.6"/>
<line x1="738.5" y1="569.57" x2="743" y2="572.37" stroke="#2a2f3a" stroke-width="0.6"/>
<line x1="743" y1="559.99" x2="752.25" y2="559.39" stroke="#2a2f3a" stroke-width="0.6"/>
<line x1="743" y1="566.18" x2="752.25" y2="565.58" stroke="#2a2f3a" stroke-width="0.6"/>
<line x1="743" y1="572.37" x2="752.25" y2="571.77" stroke="#2a2f3a" stroke-width="0.6"/>
<line x1="752.25" y1="559.39" x2="757.75" y2="555.94" stroke="#2a2f3a" stroke-width="0.6"/>
<line x1="752.25" y1="559.39" x2="757.75" y2="562.13" stroke="#2a2f3a" stroke-width="0.6"/>
<line x1="752.25" y1="565.58" x2="757.75" y2="562.13" stroke="#2a2f3a" stroke-width="0.6"/>
<line x1="752.25" y1="565.58" x2="757.75" y2="568.32" stroke="#2a2f3a" stroke-width="0.6"/>
<line x1="752.25" y1="571.77" x2="757.75" y2="568.32" stroke="#2a2f3a" stroke-width="0.6"/>
<line x1="752.25" y1="571.77" x2="757.75" y2="574.5" stroke="#2a2f3a" stroke-width="0.6"/>
<line x1="757.75" y1="555.94" x2="765.25" y2="560.82" stroke="#2a2f3a" stroke-width="0.6"/>
<line x1="733.52" y1="586.46" x2="739.5" y2="582.85" stroke="#2a2f3a" stroke-width="0.6"/>
<line x1="733.52" y1="586.46" x2="739.5" y2="589.29" stroke="#2a2f3a" stroke-width="0.6"/>
<line x1="739.5" y1="582.85" x2="749.12" y2="582.23" stroke="#2a2f3a" stroke-width="0.6"/>
<line x1="739.5" y1="589.29" x2="749.12" y2="588.66" stroke="#2a2f3a" stroke-width="0.6"/>
<line x1="749.12" y1="582.23" x2="753.8" y2="578.71" stroke="#2a2f3a" stroke-width="0.6"/>
<line x1="749.12" y1="582.23" x2="753.8" y2="585.14" stroke="#2a2f3a" stroke-width="0.6"/>
<line x1="749.12" y1="588.66" x2="753.8" y2="585.14" stroke="#2a2f3a" stroke-width="0.6"/>
<line x1="749.12" y1="588.66" x2="753.8" y2="591.58" stroke="#2a2f3a" stroke-width="0.6"/>
<line x1="753.8" y1="578.71" x2="763.42" y2="578.08" stroke="#2a2f3a" stroke-width="0.6"/>
<line x1="753.8" y1="585.14" x2="763.42" y2="584.52" stroke="#2a2f3a" stroke-width="0.6"/>
<line x1="753.8" y1="591.58" x2="763.42" y2="590.95" stroke="#2a2f3a" stroke-width="0.6"/>
<line x1="763.42" y1="578.08" x2="769.14" y2="574.49" stroke="#2a2f3a" stroke-width="0.6"/>
<line x1="763.42" y1="578.08" x2="769.14" y2="580.93" stroke="#2a2f3a" stroke-width="0.6"/>
<line x1="763.42" y1="584.52" x2="769.14" y2="580.93" stroke="#2a2f3a" stroke-width="0.6"/>
<line x1="763.42" y1="584.52" x2="769.14" y2="587.36" stroke="#2a2f3a" stroke-width="0.6"/>
<line x1="763.42" y1="590.95" x2="769.14" y2="587.36" stroke="#2a2f3a" stroke-width="0.6"/>
<line x1="763.42" y1="590.95" x2="769.14" y2="593.8" stroke="#2a2f3a" stroke-width="0.6"/>
<line x1="769.14" y1="574.49" x2="776.94" y2="579.57" stroke="#2a2f3a" stroke-width="0.6"/>
<circle cx="464.7" cy="520.94" r="1.75" fill="#1b2e93"/>
<circle cx="473" cy="520.4" r="1.75" fill="#2fa44f"/>
<circle cx="477.6" cy="517.63" r="1.75" fill="#1b2e93"/>
<circle cx="477.6" cy="522.58" r="1.75" fill="#1b2e93"/>
<circle cx="485" cy="517.14" r="1.75" fill="#2fa44f"/>
<circle cx="485" cy="522.1" r="1.75" fill="#2fa44f"/>
<circle cx="488.6" cy="514.44" r="1.75" fill="#1b2e93"/>
<circle cx="488.6" cy="519.39" r="1.75" fill="#1b2e93"/>
<circle cx="488.6" cy="524.34" r="1.75" fill="#1b2e93"/>
<circle cx="496" cy="513.95" r="1.75" fill="#2fa44f"/>
<circle cx="496" cy="518.9" r="1.75" fill="#2fa44f"/>
<circle cx="496" cy="523.86" r="1.75" fill="#2fa44f"/>
<circle cx="500.4" cy="511.19" r="1.75" fill="#1b2e93"/>
<circle cx="500.4" cy="516.14" r="1.75" fill="#1b2e93"/>
<circle cx="500.4" cy="521.09" r="1.75" fill="#1b2e93"/>
<circle cx="500.4" cy="526.04" r="1.75" fill="#1b2e93"/>
<circle cx="506.4" cy="515.1" r="1.75" fill="#2fa44f"/>
<circle cx="511" cy="512.33" r="1.75" fill="#1b2e93"/>
<circle cx="511" cy="517.28" r="1.75" fill="#1b2e93"/>
<circle cx="518.4" cy="511.85" r="1.75" fill="#2fa44f"/>
<circle cx="518.4" cy="516.8" r="1.75" fill="#2fa44f"/>
<circle cx="522" cy="509.14" r="1.75" fill="#1b2e93"/>
<circle cx="522" cy="514.09" r="1.75" fill="#1b2e93"/>
<circle cx="522" cy="519.04" r="1.75" fill="#1b2e93"/>
<circle cx="529.4" cy="508.66" r="1.75" fill="#2fa44f"/>
<circle cx="529.4" cy="513.61" r="1.75" fill="#2fa44f"/>
<circle cx="529.4" cy="518.56" r="1.75" fill="#2fa44f"/>
<circle cx="533.8" cy="505.89" r="1.75" fill="#1b2e93"/>
<circle cx="533.8" cy="510.84" r="1.75" fill="#1b2e93"/>
<circle cx="533.8" cy="515.79" r="1.75" fill="#1b2e93"/>
<circle cx="533.8" cy="520.74" r="1.75" fill="#1b2e93"/>
<circle cx="539.8" cy="509.8" r="1.75" fill="#2fa44f"/>
<circle cx="544.4" cy="507.03" r="1.75" fill="#1b2e93"/>
<circle cx="544.4" cy="511.98" r="1.75" fill="#1b2e93"/>
<circle cx="551.8" cy="506.54" r="1.75" fill="#2fa44f"/>
<circle cx="551.8" cy="511.5" r="1.75" fill="#2fa44f"/>
<circle cx="555.4" cy="503.84" r="1.75" fill="#1b2e93"/>
<circle cx="555.4" cy="508.79" r="1.75" fill="#1b2e93"/>
<circle cx="555.4" cy="513.74" r="1.75" fill="#1b2e93"/>
<circle cx="562.8" cy="503.35" r="1.75" fill="#2fa44f"/>
<circle cx="562.8" cy="508.3" r="1.75" fill="#2fa44f"/>
<circle cx="562.8" cy="513.25" r="1.75" fill="#2fa44f"/>
<circle cx="567.2" cy="500.59" r="1.75" fill="#1b2e93"/>
<circle cx="567.2" cy="505.54" r="1.75" fill="#1b2e93"/>
<circle cx="567.2" cy="510.49" r="1.75" fill="#1b2e93"/>
<circle cx="567.2" cy="515.44" r="1.75" fill="#1b2e93"/>
<circle cx="573.2" cy="504.5" r="1.75" fill="#2fa44f"/>
<circle cx="577.8" cy="501.73" r="1.75" fill="#1b2e93"/>
<circle cx="577.8" cy="506.68" r="1.75" fill="#1b2e93"/>
<circle cx="585.2" cy="501.25" r="1.75" fill="#2fa44f"/>
<circle cx="585.2" cy="506.2" r="1.75" fill="#2fa44f"/>
<circle cx="588.8" cy="498.54" r="1.75" fill="#1b2e93"/>
<circle cx="588.8" cy="503.49" r="1.75" fill="#1b2e93"/>
<circle cx="588.8" cy="508.44" r="1.75" fill="#1b2e93"/>
<circle cx="596.2" cy="498.06" r="1.75" fill="#2fa44f"/>
<circle cx="596.2" cy="503" r="1.75" fill="#2fa44f"/>
<circle cx="596.2" cy="507.95" r="1.75" fill="#2fa44f"/>
<circle cx="600.6" cy="495.29" r="1.75" fill="#1b2e93"/>
<circle cx="600.6" cy="500.24" r="1.75" fill="#1b2e93"/>
<circle cx="600.6" cy="505.19" r="1.75" fill="#1b2e93"/>
<circle cx="600.6" cy="510.14" r="1.75" fill="#1b2e93"/>
<circle cx="606.6" cy="499.2" r="1.75" fill="#2fa44f"/>
<circle cx="611.2" cy="496.43" r="1.75" fill="#1b2e93"/>
<circle cx="611.2" cy="501.38" r="1.75" fill="#1b2e93"/>
<circle cx="618.6" cy="495.94" r="1.75" fill="#2fa44f"/>
<circle cx="618.6" cy="500.9" r="1.75" fill="#2fa44f"/>
<circle cx="622.2" cy="493.24" r="1.75" fill="#1b2e93"/>
<circle cx="622.2" cy="498.19" r="1.75" fill="#1b2e93"/>
<circle cx="622.2" cy="503.14" r="1.75" fill="#1b2e93"/>
<circle cx="629.6" cy="492.75" r="1.75" fill="#2fa44f"/>
<circle cx="629.6" cy="497.7" r="1.75" fill="#2fa44f"/>
<circle cx="629.6" cy="502.65" r="1.75" fill="#2fa44f"/>
<circle cx="634" cy="489.99" r="1.75" fill="#1b2e93"/>
<circle cx="634" cy="494.94" r="1.75" fill="#1b2e93"/>
<circle cx="634" cy="499.89" r="1.75" fill="#1b2e93"/>
<circle cx="634" cy="504.84" r="1.75" fill="#1b2e93"/>
<circle cx="640" cy="493.9" r="1.75" fill="#2fa44f"/>
<circle cx="644.6" cy="491.13" r="1.75" fill="#1b2e93"/>
<circle cx="644.6" cy="496.08" r="1.75" fill="#1b2e93"/>
<circle cx="652" cy="490.64" r="1.75" fill="#2fa44f"/>
<circle cx="652" cy="495.6" r="1.75" fill="#2fa44f"/>
<circle cx="655.6" cy="487.94" r="1.75" fill="#1b2e93"/>
<circle cx="655.6" cy="492.89" r="1.75" fill="#1b2e93"/>
<circle cx="655.6" cy="497.84" r="1.75" fill="#1b2e93"/>
<circle cx="663" cy="487.45" r="1.75" fill="#2fa44f"/>
<circle cx="663" cy="492.4" r="1.75" fill="#2fa44f"/>
<circle cx="663" cy="497.35" r="1.75" fill="#2fa44f"/>
<circle cx="667.4" cy="484.69" r="1.75" fill="#1b2e93"/>
<circle cx="667.4" cy="489.64" r="1.75" fill="#1b2e93"/>
<circle cx="667.4" cy="494.59" r="1.75" fill="#1b2e93"/>
<circle cx="667.4" cy="499.54" r="1.75" fill="#1b2e93"/>
<circle cx="673.4" cy="488.6" r="1.75" fill="#2fa44f"/>
<circle cx="678" cy="485.83" r="1.75" fill="#1b2e93"/>
<circle cx="678" cy="490.78" r="1.75" fill="#1b2e93"/>
<circle cx="685.4" cy="485.34" r="1.75" fill="#2fa44f"/>
<circle cx="685.4" cy="490.3" r="1.75" fill="#2fa44f"/>
<circle cx="689" cy="482.64" r="1.75" fill="#1b2e93"/>
<circle cx="689" cy="487.59" r="1.75" fill="#1b2e93"/>
<circle cx="689" cy="492.54" r="1.75" fill="#1b2e93"/>
<circle cx="696.4" cy="482.15" r="1.75" fill="#2fa44f"/>
<circle cx="696.4" cy="487.1" r="1.75" fill="#2fa44f"/>
<circle cx="696.4" cy="492.05" r="1.75" fill="#2fa44f"/>
<circle cx="700.8" cy="479.39" r="1.75" fill="#1b2e93"/>
<circle cx="700.8" cy="484.34" r="1.75" fill="#1b2e93"/>
<circle cx="700.8" cy="489.29" r="1.75" fill="#1b2e93"/>
<circle cx="700.8" cy="494.24" r="1.75" fill="#1b2e93"/>
<circle cx="464.29" cy="536.17" r="1.8" fill="#1b2e93"/>
<circle cx="473" cy="535.6" r="1.8" fill="#2fa44f"/>
<circle cx="477.83" cy="532.69" r="1.8" fill="#1b2e93"/>
<circle cx="477.83" cy="537.88" r="1.8" fill="#1b2e93"/>
<circle cx="485.6" cy="532.18" r="1.8" fill="#2fa44f"/>
<circle cx="485.6" cy="537.38" r="1.8" fill="#2fa44f"/>
<circle cx="489.38" cy="529.34" r="1.8" fill="#1b2e93"/>
<circle cx="489.38" cy="534.54" r="1.8" fill="#1b2e93"/>
<circle cx="489.38" cy="539.73" r="1.8" fill="#1b2e93"/>
<circle cx="497.15" cy="528.83" r="1.8" fill="#2fa44f"/>
<circle cx="497.15" cy="534.03" r="1.8" fill="#2fa44f"/>
<circle cx="497.15" cy="539.23" r="1.8" fill="#2fa44f"/>
<circle cx="501.77" cy="525.93" r="1.8" fill="#1b2e93"/>
<circle cx="501.77" cy="531.13" r="1.8" fill="#1b2e93"/>
<circle cx="501.77" cy="536.33" r="1.8" fill="#1b2e93"/>
<circle cx="501.77" cy="541.53" r="1.8" fill="#1b2e93"/>
<circle cx="508.07" cy="530.03" r="1.8" fill="#2fa44f"/>
<circle cx="512.9" cy="527.12" r="1.8" fill="#1b2e93"/>
<circle cx="512.9" cy="532.32" r="1.8" fill="#1b2e93"/>
<circle cx="520.67" cy="526.62" r="1.8" fill="#2fa44f"/>
<circle cx="520.67" cy="531.81" r="1.8" fill="#2fa44f"/>
<circle cx="524.45" cy="523.77" r="1.8" fill="#1b2e93"/>
<circle cx="524.45" cy="528.97" r="1.8" fill="#1b2e93"/>
<circle cx="524.45" cy="534.17" r="1.8" fill="#1b2e93"/>
<circle cx="532.22" cy="523.27" r="1.8" fill="#2fa44f"/>
<circle cx="532.22" cy="528.47" r="1.8" fill="#2fa44f"/>
<circle cx="532.22" cy="533.66" r="1.8" fill="#2fa44f"/>
<circle cx="536.84" cy="520.37" r="1.8" fill="#1b2e93"/>
<circle cx="536.84" cy="525.57" r="1.8" fill="#1b2e93"/>
<circle cx="536.84" cy="530.76" r="1.8" fill="#1b2e93"/>
<circle cx="536.84" cy="535.96" r="1.8" fill="#1b2e93"/>
<circle cx="543.14" cy="524.47" r="1.8" fill="#2fa44f"/>
<circle cx="547.97" cy="521.56" r="1.8" fill="#1b2e93"/>
<circle cx="547.97" cy="526.75" r="1.8" fill="#1b2e93"/>
<circle cx="555.74" cy="521.05" r="1.8" fill="#2fa44f"/>
<circle cx="555.74" cy="526.25" r="1.8" fill="#2fa44f"/>
<circle cx="559.52" cy="518.21" r="1.8" fill="#1b2e93"/>
<circle cx="559.52" cy="523.41" r="1.8" fill="#1b2e93"/>
<circle cx="559.52" cy="528.6" r="1.8" fill="#1b2e93"/>
<circle cx="567.29" cy="517.7" r="1.8" fill="#2fa44f"/>
<circle cx="567.29" cy="522.9" r="1.8" fill="#2fa44f"/>
<circle cx="567.29" cy="528.1" r="1.8" fill="#2fa44f"/>
<circle cx="571.91" cy="514.8" r="1.8" fill="#1b2e93"/>
<circle cx="571.91" cy="520" r="1.8" fill="#1b2e93"/>
<circle cx="571.91" cy="525.2" r="1.8" fill="#1b2e93"/>
<circle cx="571.91" cy="530.4" r="1.8" fill="#1b2e93"/>
<circle cx="578.21" cy="518.9" r="1.8" fill="#2fa44f"/>
<circle cx="583.04" cy="515.99" r="1.8" fill="#1b2e93"/>
<circle cx="583.04" cy="521.19" r="1.8" fill="#1b2e93"/>
<circle cx="590.81" cy="515.49" r="1.8" fill="#2fa44f"/>
<circle cx="590.81" cy="520.68" r="1.8" fill="#2fa44f"/>
<circle cx="594.59" cy="512.64" r="1.8" fill="#1b2e93"/>
<circle cx="594.59" cy="517.84" r="1.8" fill="#1b2e93"/>
<circle cx="594.59" cy="523.04" r="1.8" fill="#1b2e93"/>
<circle cx="602.36" cy="512.14" r="1.8" fill="#2fa44f"/>
<circle cx="602.36" cy="517.34" r="1.8" fill="#2fa44f"/>
<circle cx="602.36" cy="522.53" r="1.8" fill="#2fa44f"/>
<circle cx="606.98" cy="509.24" r="1.8" fill="#1b2e93"/>
<circle cx="606.98" cy="514.44" r="1.8" fill="#1b2e93"/>
<circle cx="606.98" cy="519.63" r="1.8" fill="#1b2e93"/>
<circle cx="606.98" cy="524.83" r="1.8" fill="#1b2e93"/>
<circle cx="613.28" cy="513.34" r="1.8" fill="#2fa44f"/>
<circle cx="618.11" cy="510.43" r="1.8" fill="#1b2e93"/>
<circle cx="618.11" cy="515.62" r="1.8" fill="#1b2e93"/>
<circle cx="625.88" cy="509.92" r="1.8" fill="#2fa44f"/>
<circle cx="625.88" cy="515.12" r="1.8" fill="#2fa44f"/>
<circle cx="629.66" cy="507.08" r="1.8" fill="#1b2e93"/>
<circle cx="629.66" cy="512.28" r="1.8" fill="#1b2e93"/>
<circle cx="629.66" cy="517.47" r="1.8" fill="#1b2e93"/>
<circle cx="637.43" cy="506.57" r="1.8" fill="#2fa44f"/>
<circle cx="637.43" cy="511.77" r="1.8" fill="#2fa44f"/>
<circle cx="637.43" cy="516.97" r="1.8" fill="#2fa44f"/>
<circle cx="642.05" cy="503.67" r="1.8" fill="#1b2e93"/>
<circle cx="642.05" cy="508.87" r="1.8" fill="#1b2e93"/>
<circle cx="642.05" cy="514.07" r="1.8" fill="#1b2e93"/>
<circle cx="642.05" cy="519.27" r="1.8" fill="#1b2e93"/>
<circle cx="648.35" cy="507.78" r="1.8" fill="#2fa44f"/>
<circle cx="653.18" cy="504.86" r="1.8" fill="#1b2e93"/>
<circle cx="653.18" cy="510.06" r="1.8" fill="#1b2e93"/>
<circle cx="660.95" cy="504.36" r="1.8" fill="#2fa44f"/>
<circle cx="660.95" cy="509.55" r="1.8" fill="#2fa44f"/>
<circle cx="664.73" cy="501.51" r="1.8" fill="#1b2e93"/>
<circle cx="664.73" cy="506.71" r="1.8" fill="#1b2e93"/>
<circle cx="664.73" cy="511.91" r="1.8" fill="#1b2e93"/>
<circle cx="672.5" cy="501.01" r="1.8" fill="#2fa44f"/>
<circle cx="672.5" cy="506.21" r="1.8" fill="#2fa44f"/>
<circle cx="672.5" cy="511.4" r="1.8" fill="#2fa44f"/>
<circle cx="677.12" cy="498.11" r="1.8" fill="#1b2e93"/>
<circle cx="677.12" cy="503.31" r="1.8" fill="#1b2e93"/>
<circle cx="677.12" cy="508.5" r="1.8" fill="#1b2e93"/>
<circle cx="677.12" cy="513.7" r="1.8" fill="#1b2e93"/>
<circle cx="683.42" cy="502.21" r="1.8" fill="#2fa44f"/>
<circle cx="688.25" cy="499.3" r="1.8" fill="#1b2e93"/>
<circle cx="688.25" cy="504.49" r="1.8" fill="#1b2e93"/>
<circle cx="696.02" cy="498.79" r="1.8" fill="#2fa44f"/>
<circle cx="696.02" cy="503.99" r="1.8" fill="#2fa44f"/>
<circle cx="699.8" cy="495.95" r="1.8" fill="#1b2e93"/>
<circle cx="699.8" cy="501.15" r="1.8" fill="#1b2e93"/>
<circle cx="699.8" cy="506.34" r="1.8" fill="#1b2e93"/>
<circle cx="707.57" cy="495.44" r="1.8" fill="#2fa44f"/>
<circle cx="707.57" cy="500.64" r="1.8" fill="#2fa44f"/>
<circle cx="707.57" cy="505.84" r="1.8" fill="#2fa44f"/>
<circle cx="712.19" cy="492.54" r="1.8" fill="#1b2e93"/>
<circle cx="712.19" cy="497.74" r="1.8" fill="#1b2e93"/>
<circle cx="712.19" cy="502.94" r="1.8" fill="#1b2e93"/>
<circle cx="712.19" cy="508.14" r="1.8" fill="#1b2e93"/>
<circle cx="463.87" cy="552.39" r="1.85" fill="#1b2e93"/>
<circle cx="473" cy="551.8" r="1.85" fill="#2fa44f"/>
<circle cx="478.06" cy="548.75" r="1.85" fill="#1b2e93"/>
<circle cx="478.06" cy="554.19" r="1.85" fill="#1b2e93"/>
<circle cx="486.2" cy="548.22" r="1.85" fill="#2fa44f"/>
<circle cx="486.2" cy="553.66" r="1.85" fill="#2fa44f"/>
<circle cx="490.16" cy="545.24" r="1.85" fill="#1b2e93"/>
<circle cx="490.16" cy="550.68" r="1.85" fill="#1b2e93"/>
<circle cx="490.16" cy="556.13" r="1.85" fill="#1b2e93"/>
<circle cx="498.3" cy="544.71" r="1.85" fill="#2fa44f"/>
<circle cx="498.3" cy="550.16" r="1.85" fill="#2fa44f"/>
<circle cx="498.3" cy="555.6" r="1.85" fill="#2fa44f"/>
<circle cx="503.14" cy="541.67" r="1.85" fill="#1b2e93"/>
<circle cx="503.14" cy="547.12" r="1.85" fill="#1b2e93"/>
<circle cx="503.14" cy="552.56" r="1.85" fill="#1b2e93"/>
<circle cx="503.14" cy="558.01" r="1.85" fill="#1b2e93"/>
<circle cx="509.74" cy="545.97" r="1.85" fill="#2fa44f"/>
<circle cx="514.8" cy="542.92" r="1.85" fill="#1b2e93"/>
<circle cx="514.8" cy="548.36" r="1.85" fill="#1b2e93"/>
<circle cx="522.94" cy="542.39" r="1.85" fill="#2fa44f"/>
<circle cx="522.94" cy="547.83" r="1.85" fill="#2fa44f"/>
<circle cx="526.9" cy="539.41" r="1.85" fill="#1b2e93"/>
<circle cx="526.9" cy="544.85" r="1.85" fill="#1b2e93"/>
<circle cx="526.9" cy="550.3" r="1.85" fill="#1b2e93"/>
<circle cx="535.04" cy="538.88" r="1.85" fill="#2fa44f"/>
<circle cx="535.04" cy="544.33" r="1.85" fill="#2fa44f"/>
<circle cx="535.04" cy="549.77" r="1.85" fill="#2fa44f"/>
<circle cx="539.88" cy="535.84" r="1.85" fill="#1b2e93"/>
<circle cx="539.88" cy="541.29" r="1.85" fill="#1b2e93"/>
<circle cx="539.88" cy="546.73" r="1.85" fill="#1b2e93"/>
<circle cx="539.88" cy="552.18" r="1.85" fill="#1b2e93"/>
<circle cx="546.48" cy="540.14" r="1.85" fill="#2fa44f"/>
<circle cx="551.54" cy="537.09" r="1.85" fill="#1b2e93"/>
<circle cx="551.54" cy="542.53" r="1.85" fill="#1b2e93"/>
<circle cx="559.68" cy="536.56" r="1.85" fill="#2fa44f"/>
<circle cx="559.68" cy="542" r="1.85" fill="#2fa44f"/>
<circle cx="563.64" cy="533.58" r="1.85" fill="#1b2e93"/>
<circle cx="563.64" cy="539.02" r="1.85" fill="#1b2e93"/>
<circle cx="563.64" cy="544.47" r="1.85" fill="#1b2e93"/>
<circle cx="571.78" cy="533.05" r="1.85" fill="#2fa44f"/>
<circle cx="571.78" cy="538.5" r="1.85" fill="#2fa44f"/>
<circle cx="571.78" cy="543.94" r="1.85" fill="#2fa44f"/>
<circle cx="576.62" cy="530.01" r="1.85" fill="#1b2e93"/>
<circle cx="576.62" cy="535.46" r="1.85" fill="#1b2e93"/>
<circle cx="576.62" cy="540.9" r="1.85" fill="#1b2e93"/>
<circle cx="576.62" cy="546.35" r="1.85" fill="#1b2e93"/>
<circle cx="583.22" cy="534.31" r="1.85" fill="#2fa44f"/>
<circle cx="588.28" cy="531.26" r="1.85" fill="#1b2e93"/>
<circle cx="588.28" cy="536.7" r="1.85" fill="#1b2e93"/>
<circle cx="596.42" cy="530.73" r="1.85" fill="#2fa44f"/>
<circle cx="596.42" cy="536.17" r="1.85" fill="#2fa44f"/>
<circle cx="600.38" cy="527.75" r="1.85" fill="#1b2e93"/>
<circle cx="600.38" cy="533.19" r="1.85" fill="#1b2e93"/>
<circle cx="600.38" cy="538.64" r="1.85" fill="#1b2e93"/>
<circle cx="608.52" cy="527.22" r="1.85" fill="#2fa44f"/>
<circle cx="608.52" cy="532.67" r="1.85" fill="#2fa44f"/>
<circle cx="608.52" cy="538.11" r="1.85" fill="#2fa44f"/>
<circle cx="613.36" cy="524.18" r="1.85" fill="#1b2e93"/>
<circle cx="613.36" cy="529.63" r="1.85" fill="#1b2e93"/>
<circle cx="613.36" cy="535.07" r="1.85" fill="#1b2e93"/>
<circle cx="613.36" cy="540.52" r="1.85" fill="#1b2e93"/>
<circle cx="619.96" cy="528.48" r="1.85" fill="#2fa44f"/>
<circle cx="625.02" cy="525.43" r="1.85" fill="#1b2e93"/>
<circle cx="625.02" cy="530.87" r="1.85" fill="#1b2e93"/>
<circle cx="633.16" cy="524.9" r="1.85" fill="#2fa44f"/>
<circle cx="633.16" cy="530.34" r="1.85" fill="#2fa44f"/>
<circle cx="637.12" cy="521.92" r="1.85" fill="#1b2e93"/>
<circle cx="637.12" cy="527.36" r="1.85" fill="#1b2e93"/>
<circle cx="637.12" cy="532.81" r="1.85" fill="#1b2e93"/>
<circle cx="645.26" cy="521.39" r="1.85" fill="#2fa44f"/>
<circle cx="645.26" cy="526.84" r="1.85" fill="#2fa44f"/>
<circle cx="645.26" cy="532.28" r="1.85" fill="#2fa44f"/>
<circle cx="650.1" cy="518.35" r="1.85" fill="#1b2e93"/>
<circle cx="650.1" cy="523.8" r="1.85" fill="#1b2e93"/>
<circle cx="650.1" cy="529.24" r="1.85" fill="#1b2e93"/>
<circle cx="650.1" cy="534.69" r="1.85" fill="#1b2e93"/>
<circle cx="656.7" cy="522.65" r="1.85" fill="#2fa44f"/>
<circle cx="661.76" cy="519.6" r="1.85" fill="#1b2e93"/>
<circle cx="661.76" cy="525.04" r="1.85" fill="#1b2e93"/>
<circle cx="669.9" cy="519.07" r="1.85" fill="#2fa44f"/>
<circle cx="669.9" cy="524.51" r="1.85" fill="#2fa44f"/>
<circle cx="673.86" cy="516.09" r="1.85" fill="#1b2e93"/>
<circle cx="673.86" cy="521.53" r="1.85" fill="#1b2e93"/>
<circle cx="673.86" cy="526.98" r="1.85" fill="#1b2e93"/>
<circle cx="682" cy="515.56" r="1.85" fill="#2fa44f"/>
<circle cx="682" cy="521.01" r="1.85" fill="#2fa44f"/>
<circle cx="682" cy="526.45" r="1.85" fill="#2fa44f"/>
<circle cx="686.84" cy="512.52" r="1.85" fill="#1b2e93"/>
<circle cx="686.84" cy="517.97" r="1.85" fill="#1b2e93"/>
<circle cx="686.84" cy="523.41" r="1.85" fill="#1b2e93"/>
<circle cx="686.84" cy="528.86" r="1.85" fill="#1b2e93"/>
<circle cx="693.44" cy="516.82" r="1.85" fill="#2fa44f"/>
<circle cx="698.5" cy="513.77" r="1.85" fill="#1b2e93"/>
<circle cx="698.5" cy="519.21" r="1.85" fill="#1b2e93"/>
<circle cx="706.64" cy="513.24" r="1.85" fill="#2fa44f"/>
<circle cx="706.64" cy="518.68" r="1.85" fill="#2fa44f"/>
<circle cx="710.6" cy="510.26" r="1.85" fill="#1b2e93"/>
<circle cx="710.6" cy="515.7" r="1.85" fill="#1b2e93"/>
<circle cx="710.6" cy="521.15" r="1.85" fill="#1b2e93"/>
<circle cx="718.74" cy="509.73" r="1.85" fill="#2fa44f"/>
<circle cx="718.74" cy="515.18" r="1.85" fill="#2fa44f"/>
<circle cx="718.74" cy="520.62" r="1.85" fill="#2fa44f"/>
<circle cx="723.58" cy="506.69" r="1.85" fill="#1b2e93"/>
<circle cx="723.58" cy="512.14" r="1.85" fill="#1b2e93"/>
<circle cx="723.58" cy="517.58" r="1.85" fill="#1b2e93"/>
<circle cx="723.58" cy="523.03" r="1.85" fill="#1b2e93"/>
<circle cx="463.45" cy="569.82" r="1.9" fill="#1b2e93"/>
<circle cx="473" cy="569.2" r="1.9" fill="#2fa44f"/>
<circle cx="478.29" cy="566.01" r="1.9" fill="#1b2e93"/>
<circle cx="478.29" cy="571.7" r="1.9" fill="#1b2e93"/>
<circle cx="486.8" cy="565.46" r="1.9" fill="#2fa44f"/>
<circle cx="486.8" cy="571.15" r="1.9" fill="#2fa44f"/>
<circle cx="490.94" cy="562.34" r="1.9" fill="#1b2e93"/>
<circle cx="490.94" cy="568.03" r="1.9" fill="#1b2e93"/>
<circle cx="490.94" cy="573.73" r="1.9" fill="#1b2e93"/>
<circle cx="499.45" cy="561.79" r="1.9" fill="#2fa44f"/>
<circle cx="499.45" cy="567.48" r="1.9" fill="#2fa44f"/>
<circle cx="499.45" cy="573.17" r="1.9" fill="#2fa44f"/>
<circle cx="504.51" cy="558.61" r="1.9" fill="#1b2e93"/>
<circle cx="504.51" cy="564.31" r="1.9" fill="#1b2e93"/>
<circle cx="504.51" cy="570" r="1.9" fill="#1b2e93"/>
<circle cx="504.51" cy="575.69" r="1.9" fill="#1b2e93"/>
<circle cx="511.41" cy="563.1" r="1.9" fill="#2fa44f"/>
<circle cx="516.7" cy="559.91" r="1.9" fill="#1b2e93"/>
<circle cx="516.7" cy="565.61" r="1.9" fill="#1b2e93"/>
<circle cx="525.21" cy="559.36" r="1.9" fill="#2fa44f"/>
<circle cx="525.21" cy="565.05" r="1.9" fill="#2fa44f"/>
<circle cx="529.35" cy="556.25" r="1.9" fill="#1b2e93"/>
<circle cx="529.35" cy="561.94" r="1.9" fill="#1b2e93"/>
<circle cx="529.35" cy="567.63" r="1.9" fill="#1b2e93"/>
<circle cx="537.86" cy="555.69" r="1.9" fill="#2fa44f"/>
<circle cx="537.86" cy="561.39" r="1.9" fill="#2fa44f"/>
<circle cx="537.86" cy="567.08" r="1.9" fill="#2fa44f"/>
<circle cx="542.92" cy="552.52" r="1.9" fill="#1b2e93"/>
<circle cx="542.92" cy="558.21" r="1.9" fill="#1b2e93"/>
<circle cx="542.92" cy="563.9" r="1.9" fill="#1b2e93"/>
<circle cx="542.92" cy="569.6" r="1.9" fill="#1b2e93"/>
<circle cx="549.82" cy="557.01" r="1.9" fill="#2fa44f"/>
<circle cx="555.11" cy="553.82" r="1.9" fill="#1b2e93"/>
<circle cx="555.11" cy="559.51" r="1.9" fill="#1b2e93"/>
<circle cx="563.62" cy="553.27" r="1.9" fill="#2fa44f"/>
<circle cx="563.62" cy="558.96" r="1.9" fill="#2fa44f"/>
<circle cx="567.76" cy="550.15" r="1.9" fill="#1b2e93"/>
<circle cx="567.76" cy="555.84" r="1.9" fill="#1b2e93"/>
<circle cx="567.76" cy="561.54" r="1.9" fill="#1b2e93"/>
<circle cx="576.27" cy="549.6" r="1.9" fill="#2fa44f"/>
<circle cx="576.27" cy="555.29" r="1.9" fill="#2fa44f"/>
<circle cx="576.27" cy="560.98" r="1.9" fill="#2fa44f"/>
<circle cx="581.33" cy="546.42" r="1.9" fill="#1b2e93"/>
<circle cx="581.33" cy="552.12" r="1.9" fill="#1b2e93"/>
<circle cx="581.33" cy="557.81" r="1.9" fill="#1b2e93"/>
<circle cx="581.33" cy="563.5" r="1.9" fill="#1b2e93"/>
<circle cx="588.23" cy="550.91" r="1.9" fill="#2fa44f"/>
<circle cx="593.52" cy="547.72" r="1.9" fill="#1b2e93"/>
<circle cx="593.52" cy="553.42" r="1.9" fill="#1b2e93"/>
<circle cx="602.03" cy="547.17" r="1.9" fill="#2fa44f"/>
<circle cx="602.03" cy="552.86" r="1.9" fill="#2fa44f"/>
<circle cx="606.17" cy="544.06" r="1.9" fill="#1b2e93"/>
<circle cx="606.17" cy="549.75" r="1.9" fill="#1b2e93"/>
<circle cx="606.17" cy="555.44" r="1.9" fill="#1b2e93"/>
<circle cx="614.68" cy="543.5" r="1.9" fill="#2fa44f"/>
<circle cx="614.68" cy="549.2" r="1.9" fill="#2fa44f"/>
<circle cx="614.68" cy="554.89" r="1.9" fill="#2fa44f"/>
<circle cx="619.74" cy="540.33" r="1.9" fill="#1b2e93"/>
<circle cx="619.74" cy="546.02" r="1.9" fill="#1b2e93"/>
<circle cx="619.74" cy="551.71" r="1.9" fill="#1b2e93"/>
<circle cx="619.74" cy="557.41" r="1.9" fill="#1b2e93"/>
<circle cx="626.64" cy="544.82" r="1.9" fill="#2fa44f"/>
<circle cx="631.93" cy="541.63" r="1.9" fill="#1b2e93"/>
<circle cx="631.93" cy="547.32" r="1.9" fill="#1b2e93"/>
<circle cx="640.44" cy="541.08" r="1.9" fill="#2fa44f"/>
<circle cx="640.44" cy="546.77" r="1.9" fill="#2fa44f"/>
<circle cx="644.58" cy="537.96" r="1.9" fill="#1b2e93"/>
<circle cx="644.58" cy="543.65" r="1.9" fill="#1b2e93"/>
<circle cx="644.58" cy="549.35" r="1.9" fill="#1b2e93"/>
<circle cx="653.09" cy="537.41" r="1.9" fill="#2fa44f"/>
<circle cx="653.09" cy="543.1" r="1.9" fill="#2fa44f"/>
<circle cx="653.09" cy="548.79" r="1.9" fill="#2fa44f"/>
<circle cx="658.15" cy="534.23" r="1.9" fill="#1b2e93"/>
<circle cx="658.15" cy="539.93" r="1.9" fill="#1b2e93"/>
<circle cx="658.15" cy="545.62" r="1.9" fill="#1b2e93"/>
<circle cx="658.15" cy="551.31" r="1.9" fill="#1b2e93"/>
<circle cx="665.05" cy="538.72" r="1.9" fill="#2fa44f"/>
<circle cx="670.34" cy="535.53" r="1.9" fill="#1b2e93"/>
<circle cx="670.34" cy="541.23" r="1.9" fill="#1b2e93"/>
<circle cx="678.85" cy="534.98" r="1.9" fill="#2fa44f"/>
<circle cx="678.85" cy="540.67" r="1.9" fill="#2fa44f"/>
<circle cx="682.99" cy="531.87" r="1.9" fill="#1b2e93"/>
<circle cx="682.99" cy="537.56" r="1.9" fill="#1b2e93"/>
<circle cx="682.99" cy="543.25" r="1.9" fill="#1b2e93"/>
<circle cx="691.5" cy="531.31" r="1.9" fill="#2fa44f"/>
<circle cx="691.5" cy="537.01" r="1.9" fill="#2fa44f"/>
<circle cx="691.5" cy="542.7" r="1.9" fill="#2fa44f"/>
<circle cx="696.56" cy="528.14" r="1.9" fill="#1b2e93"/>
<circle cx="696.56" cy="533.83" r="1.9" fill="#1b2e93"/>
<circle cx="696.56" cy="539.52" r="1.9" fill="#1b2e93"/>
<circle cx="696.56" cy="545.22" r="1.9" fill="#1b2e93"/>
<circle cx="703.46" cy="532.63" r="1.9" fill="#2fa44f"/>
<circle cx="708.75" cy="529.44" r="1.9" fill="#1b2e93"/>
<circle cx="708.75" cy="535.13" r="1.9" fill="#1b2e93"/>
<circle cx="717.26" cy="528.89" r="1.9" fill="#2fa44f"/>
<circle cx="717.26" cy="534.58" r="1.9" fill="#2fa44f"/>
<circle cx="721.4" cy="525.77" r="1.9" fill="#1b2e93"/>
<circle cx="721.4" cy="531.46" r="1.9" fill="#1b2e93"/>
<circle cx="721.4" cy="537.16" r="1.9" fill="#1b2e93"/>
<circle cx="729.91" cy="525.22" r="1.9" fill="#2fa44f"/>
<circle cx="729.91" cy="530.91" r="1.9" fill="#2fa44f"/>
<circle cx="729.91" cy="536.6" r="1.9" fill="#2fa44f"/>
<circle cx="734.97" cy="522.04" r="1.9" fill="#1b2e93"/>
<circle cx="734.97" cy="527.74" r="1.9" fill="#1b2e93"/>
<circle cx="734.97" cy="533.43" r="1.9" fill="#1b2e93"/>
<circle cx="734.97" cy="539.12" r="1.9" fill="#1b2e93"/>
<circle cx="463.04" cy="588.25" r="1.95" fill="#1b2e93"/>
<circle cx="473" cy="587.6" r="1.95" fill="#2fa44f"/>
<circle cx="478.52" cy="584.27" r="1.95" fill="#1b2e93"/>
<circle cx="478.52" cy="590.21" r="1.95" fill="#1b2e93"/>
<circle cx="487.4" cy="583.69" r="1.95" fill="#2fa44f"/>
<circle cx="487.4" cy="589.63" r="1.95" fill="#2fa44f"/>
<circle cx="491.72" cy="580.44" r="1.95" fill="#1b2e93"/>
<circle cx="491.72" cy="586.38" r="1.95" fill="#1b2e93"/>
<circle cx="491.72" cy="592.32" r="1.95" fill="#1b2e93"/>
<circle cx="500.6" cy="579.87" r="1.95" fill="#2fa44f"/>
<circle cx="500.6" cy="585.81" r="1.95" fill="#2fa44f"/>
<circle cx="500.6" cy="591.75" r="1.95" fill="#2fa44f"/>
<circle cx="505.88" cy="576.55" r="1.95" fill="#1b2e93"/>
<circle cx="505.88" cy="582.49" r="1.95" fill="#1b2e93"/>
<circle cx="505.88" cy="588.43" r="1.95" fill="#1b2e93"/>
<circle cx="505.88" cy="594.37" r="1.95" fill="#1b2e93"/>
<circle cx="513.08" cy="581.24" r="1.95" fill="#2fa44f"/>
<circle cx="518.6" cy="577.91" r="1.95" fill="#1b2e93"/>
<circle cx="518.6" cy="583.85" r="1.95" fill="#1b2e93"/>
<circle cx="527.48" cy="577.33" r="1.95" fill="#2fa44f"/>
<circle cx="527.48" cy="583.27" r="1.95" fill="#2fa44f"/>
<circle cx="531.8" cy="574.08" r="1.95" fill="#1b2e93"/>
<circle cx="531.8" cy="580.02" r="1.95" fill="#1b2e93"/>
<circle cx="531.8" cy="585.96" r="1.95" fill="#1b2e93"/>
<circle cx="540.68" cy="573.51" r="1.95" fill="#2fa44f"/>
<circle cx="540.68" cy="579.45" r="1.95" fill="#2fa44f"/>
<circle cx="540.68" cy="585.39" r="1.95" fill="#2fa44f"/>
<circle cx="545.96" cy="570.19" r="1.95" fill="#1b2e93"/>
<circle cx="545.96" cy="576.13" r="1.95" fill="#1b2e93"/>
<circle cx="545.96" cy="582.07" r="1.95" fill="#1b2e93"/>
<circle cx="545.96" cy="588.01" r="1.95" fill="#1b2e93"/>
<circle cx="553.16" cy="574.88" r="1.95" fill="#2fa44f"/>
<circle cx="558.68" cy="571.55" r="1.95" fill="#1b2e93"/>
<circle cx="558.68" cy="577.49" r="1.95" fill="#1b2e93"/>
<circle cx="567.56" cy="570.97" r="1.95" fill="#2fa44f"/>
<circle cx="567.56" cy="576.91" r="1.95" fill="#2fa44f"/>
<circle cx="571.88" cy="567.72" r="1.95" fill="#1b2e93"/>
<circle cx="571.88" cy="573.66" r="1.95" fill="#1b2e93"/>
<circle cx="571.88" cy="579.6" r="1.95" fill="#1b2e93"/>
<circle cx="580.76" cy="567.15" r="1.95" fill="#2fa44f"/>
<circle cx="580.76" cy="573.09" r="1.95" fill="#2fa44f"/>
<circle cx="580.76" cy="579.03" r="1.95" fill="#2fa44f"/>
<circle cx="586.04" cy="563.83" r="1.95" fill="#1b2e93"/>
<circle cx="586.04" cy="569.77" r="1.95" fill="#1b2e93"/>
<circle cx="586.04" cy="575.71" r="1.95" fill="#1b2e93"/>
<circle cx="586.04" cy="581.65" r="1.95" fill="#1b2e93"/>
<circle cx="593.24" cy="568.52" r="1.95" fill="#2fa44f"/>
<circle cx="598.76" cy="565.19" r="1.95" fill="#1b2e93"/>
<circle cx="598.76" cy="571.13" r="1.95" fill="#1b2e93"/>
<circle cx="607.64" cy="564.61" r="1.95" fill="#2fa44f"/>
<circle cx="607.64" cy="570.55" r="1.95" fill="#2fa44f"/>
<circle cx="611.96" cy="561.36" r="1.95" fill="#1b2e93"/>
<circle cx="611.96" cy="567.3" r="1.95" fill="#1b2e93"/>
<circle cx="611.96" cy="573.24" r="1.95" fill="#1b2e93"/>
<circle cx="620.84" cy="560.79" r="1.95" fill="#2fa44f"/>
<circle cx="620.84" cy="566.73" r="1.95" fill="#2fa44f"/>
<circle cx="620.84" cy="572.67" r="1.95" fill="#2fa44f"/>
<circle cx="626.12" cy="557.47" r="1.95" fill="#1b2e93"/>
<circle cx="626.12" cy="563.41" r="1.95" fill="#1b2e93"/>
<circle cx="626.12" cy="569.35" r="1.95" fill="#1b2e93"/>
<circle cx="626.12" cy="575.29" r="1.95" fill="#1b2e93"/>
<circle cx="633.32" cy="562.16" r="1.95" fill="#2fa44f"/>
<circle cx="638.84" cy="558.83" r="1.95" fill="#1b2e93"/>
<circle cx="638.84" cy="564.77" r="1.95" fill="#1b2e93"/>
<circle cx="647.72" cy="558.25" r="1.95" fill="#2fa44f"/>
<circle cx="647.72" cy="564.19" r="1.95" fill="#2fa44f"/>
<circle cx="652.04" cy="555" r="1.95" fill="#1b2e93"/>
<circle cx="652.04" cy="560.94" r="1.95" fill="#1b2e93"/>
<circle cx="652.04" cy="566.88" r="1.95" fill="#1b2e93"/>
<circle cx="660.92" cy="554.43" r="1.95" fill="#2fa44f"/>
<circle cx="660.92" cy="560.37" r="1.95" fill="#2fa44f"/>
<circle cx="660.92" cy="566.31" r="1.95" fill="#2fa44f"/>
<circle cx="666.2" cy="551.11" r="1.95" fill="#1b2e93"/>
<circle cx="666.2" cy="557.05" r="1.95" fill="#1b2e93"/>
<circle cx="666.2" cy="562.99" r="1.95" fill="#1b2e93"/>
<circle cx="666.2" cy="568.93" r="1.95" fill="#1b2e93"/>
<circle cx="673.4" cy="555.8" r="1.95" fill="#2fa44f"/>
<circle cx="678.92" cy="552.47" r="1.95" fill="#1b2e93"/>
<circle cx="678.92" cy="558.41" r="1.95" fill="#1b2e93"/>
<circle cx="687.8" cy="551.89" r="1.95" fill="#2fa44f"/>
<circle cx="687.8" cy="557.83" r="1.95" fill="#2fa44f"/>
<circle cx="692.12" cy="548.64" r="1.95" fill="#1b2e93"/>
<circle cx="692.12" cy="554.58" r="1.95" fill="#1b2e93"/>
<circle cx="692.12" cy="560.52" r="1.95" fill="#1b2e93"/>
<circle cx="701" cy="548.07" r="1.95" fill="#2fa44f"/>
<circle cx="701" cy="554.01" r="1.95" fill="#2fa44f"/>
<circle cx="701" cy="559.95" r="1.95" fill="#2fa44f"/>
<circle cx="706.28" cy="544.75" r="1.95" fill="#1b2e93"/>
<circle cx="706.28" cy="550.69" r="1.95" fill="#1b2e93"/>
<circle cx="706.28" cy="556.63" r="1.95" fill="#1b2e93"/>
<circle cx="706.28" cy="562.57" r="1.95" fill="#1b2e93"/>
<circle cx="713.48" cy="549.44" r="1.95" fill="#2fa44f"/>
<circle cx="719" cy="546.11" r="1.95" fill="#1b2e93"/>
<circle cx="719" cy="552.05" r="1.95" fill="#1b2e93"/>
<circle cx="727.88" cy="545.53" r="1.95" fill="#2fa44f"/>
<circle cx="727.88" cy="551.47" r="1.95" fill="#2fa44f"/>
<circle cx="732.2" cy="542.28" r="1.95" fill="#1b2e93"/>
<circle cx="732.2" cy="548.22" r="1.95" fill="#1b2e93"/>
<circle cx="732.2" cy="554.16" r="1.95" fill="#1b2e93"/>
<circle cx="741.08" cy="541.71" r="1.95" fill="#2fa44f"/>
<circle cx="741.08" cy="547.65" r="1.95" fill="#2fa44f"/>
<circle cx="741.08" cy="553.59" r="1.95" fill="#2fa44f"/>
<circle cx="746.36" cy="538.39" r="1.95" fill="#1b2e93"/>
<circle cx="746.36" cy="544.33" r="1.95" fill="#1b2e93"/>
<circle cx="746.36" cy="550.27" r="1.95" fill="#1b2e93"/>
<circle cx="746.36" cy="556.21" r="1.95" fill="#1b2e93"/>
<circle cx="462.62" cy="607.87" r="2" fill="#1b2e93"/>
<circle cx="473" cy="607.2" r="2" fill="#2fa44f"/>
<circle cx="478.75" cy="603.73" r="2" fill="#1b2e93"/>
<circle cx="478.75" cy="609.92" r="2" fill="#1b2e93"/>
<circle cx="488" cy="603.13" r="2" fill="#2fa44f"/>
<circle cx="488" cy="609.32" r="2" fill="#2fa44f"/>
<circle cx="492.5" cy="599.74" r="2" fill="#1b2e93"/>
<circle cx="492.5" cy="605.93" r="2" fill="#1b2e93"/>
<circle cx="492.5" cy="612.12" r="2" fill="#1b2e93"/>
<circle cx="501.75" cy="599.14" r="2" fill="#2fa44f"/>
<circle cx="501.75" cy="605.33" r="2" fill="#2fa44f"/>
<circle cx="501.75" cy="611.52" r="2" fill="#2fa44f"/>
<circle cx="507.25" cy="595.69" r="2" fill="#1b2e93"/>
<circle cx="507.25" cy="601.88" r="2" fill="#1b2e93"/>
<circle cx="507.25" cy="608.07" r="2" fill="#1b2e93"/>
<circle cx="507.25" cy="614.25" r="2" fill="#1b2e93"/>
<circle cx="598.25" cy="587.32" r="2" fill="#2fa44f"/>
<circle cx="604" cy="583.86" r="2" fill="#1b2e93"/>
<circle cx="604" cy="590.04" r="2" fill="#1b2e93"/>
<circle cx="613.25" cy="583.26" r="2" fill="#2fa44f"/>
<circle cx="613.25" cy="589.44" r="2" fill="#2fa44f"/>
<circle cx="617.75" cy="579.87" r="2" fill="#1b2e93"/>
<circle cx="617.75" cy="586.06" r="2" fill="#1b2e93"/>
<circle cx="617.75" cy="592.24" r="2" fill="#1b2e93"/>
<circle cx="627" cy="579.27" r="2" fill="#2fa44f"/>
<circle cx="627" cy="585.46" r="2" fill="#2fa44f"/>
<circle cx="627" cy="591.64" r="2" fill="#2fa44f"/>
<circle cx="632.5" cy="575.82" r="2" fill="#1b2e93"/>
<circle cx="632.5" cy="582" r="2" fill="#1b2e93"/>
<circle cx="632.5" cy="588.19" r="2" fill="#1b2e93"/>
<circle cx="632.5" cy="594.38" r="2" fill="#1b2e93"/>
<circle cx="640" cy="580.7" r="2" fill="#2fa44f"/>
<circle cx="645.75" cy="577.23" r="2" fill="#1b2e93"/>
<circle cx="645.75" cy="583.42" r="2" fill="#1b2e93"/>
<circle cx="655" cy="576.63" r="2" fill="#2fa44f"/>
<circle cx="655" cy="582.82" r="2" fill="#2fa44f"/>
<circle cx="659.5" cy="573.24" r="2" fill="#1b2e93"/>
<circle cx="659.5" cy="579.43" r="2" fill="#1b2e93"/>
<circle cx="659.5" cy="585.62" r="2" fill="#1b2e93"/>
<circle cx="668.75" cy="572.64" r="2" fill="#2fa44f"/>
<circle cx="668.75" cy="578.83" r="2" fill="#2fa44f"/>
<circle cx="668.75" cy="585.02" r="2" fill="#2fa44f"/>
<circle cx="674.25" cy="569.19" r="2" fill="#1b2e93"/>
<circle cx="674.25" cy="575.38" r="2" fill="#1b2e93"/>
<circle cx="674.25" cy="581.57" r="2" fill="#1b2e93"/>
<circle cx="674.25" cy="587.75" r="2" fill="#1b2e93"/>
<circle cx="681.75" cy="574.07" r="2" fill="#2fa44f"/>
<circle cx="687.5" cy="570.61" r="2" fill="#1b2e93"/>
<circle cx="687.5" cy="576.79" r="2" fill="#1b2e93"/>
<circle cx="696.75" cy="570.01" r="2" fill="#2fa44f"/>
<circle cx="696.75" cy="576.19" r="2" fill="#2fa44f"/>
<circle cx="701.25" cy="566.62" r="2" fill="#1b2e93"/>
<circle cx="701.25" cy="572.81" r="2" fill="#1b2e93"/>
<circle cx="701.25" cy="578.99" r="2" fill="#1b2e93"/>
<circle cx="710.5" cy="566.02" r="2" fill="#2fa44f"/>
<circle cx="710.5" cy="572.21" r="2" fill="#2fa44f"/>
<circle cx="710.5" cy="578.39" r="2" fill="#2fa44f"/>
<circle cx="716" cy="562.57" r="2" fill="#1b2e93"/>
<circle cx="716" cy="568.75" r="2" fill="#1b2e93"/>
<circle cx="716" cy="574.94" r="2" fill="#1b2e93"/>
<circle cx="716" cy="581.13" r="2" fill="#1b2e93"/>
<circle cx="723.5" cy="567.45" r="2" fill="#2fa44f"/>
<circle cx="729.25" cy="563.98" r="2" fill="#1b2e93"/>
<circle cx="729.25" cy="570.17" r="2" fill="#1b2e93"/>
<circle cx="738.5" cy="563.38" r="2" fill="#2fa44f"/>
<circle cx="738.5" cy="569.57" r="2" fill="#2fa44f"/>
<circle cx="743" cy="559.99" r="2" fill="#1b2e93"/>
<circle cx="743" cy="566.18" r="2" fill="#1b2e93"/>
<circle cx="743" cy="572.37" r="2" fill="#1b2e93"/>
<circle cx="752.25" cy="559.39" r="2" fill="#2fa44f"/>
<circle cx="752.25" cy="565.58" r="2" fill="#2fa44f"/>
<circle cx="752.25" cy="571.77" r="2" fill="#2fa44f"/>
<circle cx="757.75" cy="555.94" r="2" fill="#1b2e93"/>
<circle cx="757.75" cy="562.13" r="2" fill="#1b2e93"/>
<circle cx="757.75" cy="568.32" r="2" fill="#1b2e93"/>
<circle cx="757.75" cy="574.5" r="2" fill="#1b2e93"/>
<circle cx="733.52" cy="586.46" r="2.05" fill="#2fa44f"/>
<circle cx="739.5" cy="582.85" r="2.05" fill="#1b2e93"/>
<circle cx="739.5" cy="589.29" r="2.05" fill="#1b2e93"/>
<circle cx="749.12" cy="582.23" r="2.05" fill="#2fa44f"/>
<circle cx="749.12" cy="588.66" r="2.05" fill="#2fa44f"/>
<circle cx="753.8" cy="578.71" r="2.05" fill="#1b2e93"/>
<circle cx="753.8" cy="585.14" r="2.05" fill="#1b2e93"/>
<circle cx="753.8" cy="591.58" r="2.05" fill="#1b2e93"/>
<circle cx="763.42" cy="578.08" r="2.05" fill="#2fa44f"/>
<circle cx="763.42" cy="584.52" r="2.05" fill="#2fa44f"/>
<circle cx="763.42" cy="590.95" r="2.05" fill="#2fa44f"/>
<circle cx="769.14" cy="574.49" r="2.05" fill="#1b2e93"/>
<circle cx="769.14" cy="580.93" r="2.05" fill="#1b2e93"/>
<circle cx="769.14" cy="587.36" r="2.05" fill="#1b2e93"/>
<circle cx="769.14" cy="593.8" r="2.05" fill="#1b2e93"/>
<path d="M701 481.5 L890 464.5 L999 540.5 L998 546.5 L763 573 Z" fill="#e5221d"/>
<line x1="736.57" y1="520.73" x2="771.58" y2="570.99" stroke="#6a1512" stroke-opacity="0.38" stroke-width="1.2"/>
<line x1="750.52" y1="519.28" x2="787.18" y2="569.16" stroke="#6a1512" stroke-opacity="0.38" stroke-width="1.2"/>
<line x1="764.47" y1="517.83" x2="802.78" y2="567.33" stroke="#6a1512" stroke-opacity="0.38" stroke-width="1.2"/>
<line x1="778.42" y1="516.38" x2="818.38" y2="565.49" stroke="#6a1512" stroke-opacity="0.38" stroke-width="1.2"/>
<line x1="792.37" y1="514.94" x2="833.98" y2="563.66" stroke="#6a1512" stroke-opacity="0.38" stroke-width="1.2"/>
<line x1="806.32" y1="513.49" x2="849.58" y2="561.82" stroke="#6a1512" stroke-opacity="0.38" stroke-width="1.2"/>
<line x1="820.27" y1="512.04" x2="865.18" y2="559.99" stroke="#6a1512" stroke-opacity="0.38" stroke-width="1.2"/>
<line x1="834.22" y1="510.59" x2="880.78" y2="558.16" stroke="#6a1512" stroke-opacity="0.38" stroke-width="1.2"/>
<line x1="848.17" y1="509.14" x2="896.38" y2="556.33" stroke="#6a1512" stroke-opacity="0.38" stroke-width="1.2"/>
<line x1="862.12" y1="507.69" x2="911.98" y2="554.49" stroke="#6a1512" stroke-opacity="0.38" stroke-width="1.2"/>
<line x1="876.07" y1="506.25" x2="927.58" y2="552.66" stroke="#6a1512" stroke-opacity="0.38" stroke-width="1.2"/>
<line x1="890.02" y1="504.8" x2="943.18" y2="550.83" stroke="#6a1512" stroke-opacity="0.38" stroke-width="1.2"/>
<line x1="903.97" y1="503.35" x2="958.78" y2="548.99" stroke="#6a1512" stroke-opacity="0.38" stroke-width="1.2"/>
<line x1="917.92" y1="501.9" x2="974.38" y2="547.16" stroke="#6a1512" stroke-opacity="0.38" stroke-width="1.2"/>
<line x1="931.87" y1="500.45" x2="989.98" y2="545.33" stroke="#6a1512" stroke-opacity="0.38" stroke-width="1.2"/>
<circle cx="770.5" cy="571.5" r="2.6" fill="#3a3a3c"/>
<circle cx="764.5" cy="577" r="3.3" fill="#3a3a3c"/>
<circle cx="786.1" cy="569.67" r="2.6" fill="#3a3a3c"/>
<circle cx="780.1" cy="575.17" r="3.3" fill="#3a3a3c"/>
<circle cx="801.7" cy="567.83" r="2.6" fill="#3a3a3c"/>
<circle cx="795.7" cy="573.33" r="3.3" fill="#3a3a3c"/>
<circle cx="817.3" cy="566" r="2.6" fill="#3a3a3c"/>
<circle cx="811.3" cy="571.5" r="3.3" fill="#3a3a3c"/>
<circle cx="832.9" cy="564.17" r="2.6" fill="#3a3a3c"/>
<circle cx="826.9" cy="569.67" r="3.3" fill="#3a3a3c"/>
<circle cx="848.5" cy="562.33" r="2.6" fill="#3a3a3c"/>
<circle cx="842.5" cy="567.83" r="3.3" fill="#3a3a3c"/>
<circle cx="864.1" cy="560.5" r="2.6" fill="#3a3a3c"/>
<circle cx="858.1" cy="566" r="3.3" fill="#3a3a3c"/>
<circle cx="879.7" cy="558.67" r="2.6" fill="#3a3a3c"/>
<circle cx="873.7" cy="564.17" r="3.3" fill="#3a3a3c"/>
<circle cx="895.3" cy="556.83" r="2.6" fill="#3a3a3c"/>
<circle cx="889.3" cy="562.33" r="3.3" fill="#3a3a3c"/>
<circle cx="910.9" cy="555" r="2.6" fill="#3a3a3c"/>
<circle cx="904.9" cy="560.5" r="3.3" fill="#3a3a3c"/>
<circle cx="926.5" cy="553.17" r="2.6" fill="#3a3a3c"/>
<circle cx="920.5" cy="558.67" r="3.3" fill="#3a3a3c"/>
<circle cx="942.1" cy="551.33" r="2.6" fill="#3a3a3c"/>
<circle cx="936.1" cy="556.83" r="3.3" fill="#3a3a3c"/>
<circle cx="957.7" cy="549.5" r="2.6" fill="#3a3a3c"/>
<circle cx="951.7" cy="555" r="3.3" fill="#3a3a3c"/>
<circle cx="973.3" cy="547.67" r="2.6" fill="#3a3a3c"/>
<circle cx="967.3" cy="553.17" r="3.3" fill="#3a3a3c"/>
<circle cx="988.9" cy="545.83" r="2.6" fill="#3a3a3c"/>
<circle cx="982.9" cy="551.33" r="3.3" fill="#3a3a3c"/>
<circle cx="1004.5" cy="544" r="2.6" fill="#3a3a3c"/>
<circle cx="998.5" cy="549.5" r="3.3" fill="#3a3a3c"/>
<circle cx="763" cy="570" r="4.7" fill="#e5221d"/>
<circle cx="778.6" cy="568.17" r="4.7" fill="#e5221d"/>
<circle cx="794.2" cy="566.33" r="4.7" fill="#e5221d"/>
<circle cx="809.8" cy="564.5" r="4.7" fill="#e5221d"/>
<circle cx="825.4" cy="562.67" r="4.7" fill="#e5221d"/>
<circle cx="841" cy="560.83" r="4.7" fill="#e5221d"/>
<circle cx="856.6" cy="559" r="4.7" fill="#e5221d"/>
<circle cx="872.2" cy="557.17" r="4.7" fill="#e5221d"/>
<circle cx="887.8" cy="555.33" r="4.7" fill="#e5221d"/>
<circle cx="903.4" cy="553.5" r="4.7" fill="#e5221d"/>
<circle cx="919" cy="551.67" r="4.7" fill="#e5221d"/>
<circle cx="934.6" cy="549.83" r="4.7" fill="#e5221d"/>
<circle cx="950.2" cy="548" r="4.7" fill="#e5221d"/>
<circle cx="965.8" cy="546.17" r="4.7" fill="#e5221d"/>
<circle cx="981.4" cy="544.33" r="4.7" fill="#e5221d"/>
<circle cx="997" cy="542.5" r="4.7" fill="#e5221d"/>
<circle cx="701" cy="480.3" r="1.35" fill="#4fa3dc"/>
<circle cx="712.81" cy="479.24" r="1.35" fill="#4fa3dc"/>
<circle cx="724.62" cy="478.18" r="1.35" fill="#4fa3dc"/>
<circle cx="736.44" cy="477.11" r="1.35" fill="#4fa3dc"/>
<circle cx="748.25" cy="476.05" r="1.35" fill="#4fa3dc"/>
<circle cx="760.06" cy="474.99" r="1.35" fill="#4fa3dc"/>
<circle cx="771.88" cy="473.93" r="1.35" fill="#4fa3dc"/>
<circle cx="783.69" cy="472.86" r="1.35" fill="#4fa3dc"/>
<circle cx="795.5" cy="471.8" r="1.35" fill="#4fa3dc"/>
<circle cx="807.31" cy="470.74" r="1.35" fill="#4fa3dc"/>
<circle cx="819.12" cy="469.68" r="1.35" fill="#4fa3dc"/>
<circle cx="830.94" cy="468.61" r="1.35" fill="#4fa3dc"/>
<circle cx="842.75" cy="467.55" r="1.35" fill="#4fa3dc"/>
<circle cx="854.56" cy="466.49" r="1.35" fill="#4fa3dc"/>
<circle cx="866.38" cy="465.43" r="1.35" fill="#4fa3dc"/>
<circle cx="878.19" cy="464.36" r="1.35" fill="#4fa3dc"/>
<circle cx="890" cy="463.3" r="1.35" fill="#4fa3dc"/>
<circle cx="708.75" cy="482.22" r="1.37" fill="#4fa3dc"/>
<circle cx="720.65" cy="481.14" r="1.37" fill="#4fa3dc"/>
<circle cx="732.54" cy="480.05" r="1.37" fill="#4fa3dc"/>
<circle cx="744.43" cy="478.97" r="1.37" fill="#4fa3dc"/>
<circle cx="756.33" cy="477.89" r="1.37" fill="#4fa3dc"/>
<circle cx="768.22" cy="476.81" r="1.37" fill="#4fa3dc"/>
<circle cx="780.12" cy="475.73" r="1.37" fill="#4fa3dc"/>
<circle cx="792.01" cy="474.65" r="1.37" fill="#4fa3dc"/>
<circle cx="803.91" cy="473.56" r="1.37" fill="#4fa3dc"/>
<circle cx="815.8" cy="472.48" r="1.37" fill="#4fa3dc"/>
<circle cx="827.69" cy="471.4" r="1.37" fill="#4fa3dc"/>
<circle cx="839.59" cy="470.32" r="1.37" fill="#4fa3dc"/>
<circle cx="851.48" cy="469.24" r="1.37" fill="#4fa3dc"/>
<circle cx="863.38" cy="468.16" r="1.37" fill="#4fa3dc"/>
<circle cx="875.27" cy="467.08" r="1.37" fill="#4fa3dc"/>
<circle cx="887.17" cy="465.99" r="1.37" fill="#4fa3dc"/>
<circle cx="704.71" cy="485.36" r="1.39" fill="#4fa3dc"/>
<circle cx="716.69" cy="484.25" r="1.39" fill="#4fa3dc"/>
<circle cx="728.67" cy="483.15" r="1.39" fill="#4fa3dc"/>
<circle cx="740.65" cy="482.05" r="1.39" fill="#4fa3dc"/>
<circle cx="752.63" cy="480.95" r="1.39" fill="#4fa3dc"/>
<circle cx="764.61" cy="479.85" r="1.39" fill="#4fa3dc"/>
<circle cx="776.59" cy="478.74" r="1.39" fill="#4fa3dc"/>
<circle cx="788.57" cy="477.64" r="1.39" fill="#4fa3dc"/>
<circle cx="800.56" cy="476.54" r="1.39" fill="#4fa3dc"/>
<circle cx="812.54" cy="475.44" r="1.39" fill="#4fa3dc"/>
<circle cx="824.52" cy="474.34" r="1.39" fill="#4fa3dc"/>
<circle cx="836.5" cy="473.24" r="1.39" fill="#4fa3dc"/>
<circle cx="848.48" cy="472.13" r="1.39" fill="#4fa3dc"/>
<circle cx="860.46" cy="471.03" r="1.39" fill="#4fa3dc"/>
<circle cx="872.44" cy="469.93" r="1.39" fill="#4fa3dc"/>
<circle cx="884.42" cy="468.83" r="1.39" fill="#4fa3dc"/>
<circle cx="896.4" cy="467.73" r="1.39" fill="#4fa3dc"/>
<circle cx="712.69" cy="487.45" r="1.4" fill="#4fa3dc"/>
<circle cx="724.76" cy="486.32" r="1.4" fill="#4fa3dc"/>
<circle cx="736.83" cy="485.2" r="1.4" fill="#4fa3dc"/>
<circle cx="748.9" cy="484.08" r="1.4" fill="#4fa3dc"/>
<circle cx="760.96" cy="482.96" r="1.4" fill="#4fa3dc"/>
<circle cx="773.03" cy="481.83" r="1.4" fill="#4fa3dc"/>
<circle cx="785.1" cy="480.71" r="1.4" fill="#4fa3dc"/>
<circle cx="797.17" cy="479.59" r="1.4" fill="#4fa3dc"/>
<circle cx="809.24" cy="478.47" r="1.4" fill="#4fa3dc"/>
<circle cx="821.31" cy="477.34" r="1.4" fill="#4fa3dc"/>
<circle cx="833.38" cy="476.22" r="1.4" fill="#4fa3dc"/>
<circle cx="845.45" cy="475.1" r="1.4" fill="#4fa3dc"/>
<circle cx="857.52" cy="473.98" r="1.4" fill="#4fa3dc"/>
<circle cx="869.59" cy="472.85" r="1.4" fill="#4fa3dc"/>
<circle cx="881.66" cy="471.73" r="1.4" fill="#4fa3dc"/>
<circle cx="893.72" cy="470.61" r="1.4" fill="#4fa3dc"/>
<circle cx="708.63" cy="490.69" r="1.42" fill="#4fa3dc"/>
<circle cx="720.79" cy="489.55" r="1.42" fill="#4fa3dc"/>
<circle cx="732.94" cy="488.41" r="1.42" fill="#4fa3dc"/>
<circle cx="745.1" cy="487.26" r="1.42" fill="#4fa3dc"/>
<circle cx="757.26" cy="486.12" r="1.42" fill="#4fa3dc"/>
<circle cx="769.42" cy="484.98" r="1.42" fill="#4fa3dc"/>
<circle cx="781.58" cy="483.83" r="1.42" fill="#4fa3dc"/>
<circle cx="793.74" cy="482.69" r="1.42" fill="#4fa3dc"/>
<circle cx="805.89" cy="481.55" r="1.42" fill="#4fa3dc"/>
<circle cx="818.05" cy="480.41" r="1.42" fill="#4fa3dc"/>
<circle cx="830.21" cy="479.26" r="1.42" fill="#4fa3dc"/>
<circle cx="842.37" cy="478.12" r="1.42" fill="#4fa3dc"/>
<circle cx="854.53" cy="476.98" r="1.42" fill="#4fa3dc"/>
<circle cx="866.69" cy="475.83" r="1.42" fill="#4fa3dc"/>
<circle cx="878.85" cy="474.69" r="1.42" fill="#4fa3dc"/>
<circle cx="891" cy="473.55" r="1.42" fill="#4fa3dc"/>
<circle cx="903.16" cy="472.4" r="1.42" fill="#4fa3dc"/>
<circle cx="716.74" cy="492.83" r="1.44" fill="#4fa3dc"/>
<circle cx="728.99" cy="491.66" r="1.44" fill="#4fa3dc"/>
<circle cx="741.24" cy="490.5" r="1.44" fill="#4fa3dc"/>
<circle cx="753.49" cy="489.33" r="1.44" fill="#4fa3dc"/>
<circle cx="765.74" cy="488.17" r="1.44" fill="#4fa3dc"/>
<circle cx="777.99" cy="487.01" r="1.44" fill="#4fa3dc"/>
<circle cx="790.24" cy="485.84" r="1.44" fill="#4fa3dc"/>
<circle cx="802.48" cy="484.68" r="1.44" fill="#4fa3dc"/>
<circle cx="814.73" cy="483.51" r="1.44" fill="#4fa3dc"/>
<circle cx="826.98" cy="482.35" r="1.44" fill="#4fa3dc"/>
<circle cx="839.23" cy="481.18" r="1.44" fill="#4fa3dc"/>
<circle cx="851.48" cy="480.02" r="1.44" fill="#4fa3dc"/>
<circle cx="863.73" cy="478.86" r="1.44" fill="#4fa3dc"/>
<circle cx="875.98" cy="477.69" r="1.44" fill="#4fa3dc"/>
<circle cx="888.23" cy="476.53" r="1.44" fill="#4fa3dc"/>
<circle cx="900.48" cy="475.36" r="1.44" fill="#4fa3dc"/>
<circle cx="712.63" cy="496.15" r="1.46" fill="#4fa3dc"/>
<circle cx="724.97" cy="494.96" r="1.46" fill="#4fa3dc"/>
<circle cx="737.31" cy="493.78" r="1.46" fill="#4fa3dc"/>
<circle cx="749.65" cy="492.59" r="1.46" fill="#4fa3dc"/>
<circle cx="761.99" cy="491.4" r="1.46" fill="#4fa3dc"/>
<circle cx="774.33" cy="490.22" r="1.46" fill="#4fa3dc"/>
<circle cx="786.67" cy="489.03" r="1.46" fill="#4fa3dc"/>
<circle cx="799.01" cy="487.85" r="1.46" fill="#4fa3dc"/>
<circle cx="811.35" cy="486.66" r="1.46" fill="#4fa3dc"/>
<circle cx="823.69" cy="485.48" r="1.46" fill="#4fa3dc"/>
<circle cx="836.03" cy="484.29" r="1.46" fill="#4fa3dc"/>
<circle cx="848.37" cy="483.11" r="1.46" fill="#4fa3dc"/>
<circle cx="860.71" cy="481.92" r="1.46" fill="#4fa3dc"/>
<circle cx="873.05" cy="480.73" r="1.46" fill="#4fa3dc"/>
<circle cx="885.39" cy="479.55" r="1.46" fill="#4fa3dc"/>
<circle cx="897.73" cy="478.36" r="1.46" fill="#4fa3dc"/>
<circle cx="910.07" cy="477.18" r="1.46" fill="#4fa3dc"/>
<circle cx="720.86" cy="498.3" r="1.48" fill="#4fa3dc"/>
<circle cx="733.3" cy="497.09" r="1.48" fill="#4fa3dc"/>
<circle cx="745.73" cy="495.88" r="1.48" fill="#4fa3dc"/>
<circle cx="758.16" cy="494.68" r="1.48" fill="#4fa3dc"/>
<circle cx="770.59" cy="493.47" r="1.48" fill="#4fa3dc"/>
<circle cx="783.02" cy="492.26" r="1.48" fill="#4fa3dc"/>
<circle cx="795.45" cy="491.06" r="1.48" fill="#4fa3dc"/>
<circle cx="807.89" cy="489.85" r="1.48" fill="#4fa3dc"/>
<circle cx="820.32" cy="488.64" r="1.48" fill="#4fa3dc"/>
<circle cx="832.75" cy="487.44" r="1.48" fill="#4fa3dc"/>
<circle cx="845.18" cy="486.23" r="1.48" fill="#4fa3dc"/>
<circle cx="857.61" cy="485.02" r="1.48" fill="#4fa3dc"/>
<circle cx="870.04" cy="483.81" r="1.48" fill="#4fa3dc"/>
<circle cx="882.48" cy="482.61" r="1.48" fill="#4fa3dc"/>
<circle cx="894.91" cy="481.4" r="1.48" fill="#4fa3dc"/>
<circle cx="907.34" cy="480.19" r="1.48" fill="#4fa3dc"/>
<circle cx="716.68" cy="501.67" r="1.5" fill="#4fa3dc"/>
<circle cx="729.21" cy="500.44" r="1.5" fill="#4fa3dc"/>
<circle cx="741.73" cy="499.22" r="1.5" fill="#4fa3dc"/>
<circle cx="754.25" cy="497.99" r="1.5" fill="#4fa3dc"/>
<circle cx="766.78" cy="496.76" r="1.5" fill="#4fa3dc"/>
<circle cx="779.3" cy="495.53" r="1.5" fill="#4fa3dc"/>
<circle cx="791.83" cy="494.3" r="1.5" fill="#4fa3dc"/>
<circle cx="804.35" cy="493.07" r="1.5" fill="#4fa3dc"/>
<circle cx="816.87" cy="491.85" r="1.5" fill="#4fa3dc"/>
<circle cx="829.4" cy="490.62" r="1.5" fill="#4fa3dc"/>
<circle cx="841.92" cy="489.39" r="1.5" fill="#4fa3dc"/>
<circle cx="854.44" cy="488.16" r="1.5" fill="#4fa3dc"/>
<circle cx="866.97" cy="486.93" r="1.5" fill="#4fa3dc"/>
<circle cx="879.49" cy="485.7" r="1.5" fill="#4fa3dc"/>
<circle cx="892.02" cy="484.47" r="1.5" fill="#4fa3dc"/>
<circle cx="904.54" cy="483.25" r="1.5" fill="#4fa3dc"/>
<circle cx="917.06" cy="482.02" r="1.5" fill="#4fa3dc"/>
<circle cx="725.03" cy="503.83" r="1.52" fill="#4fa3dc"/>
<circle cx="737.65" cy="502.58" r="1.52" fill="#4fa3dc"/>
<circle cx="750.27" cy="501.33" r="1.52" fill="#4fa3dc"/>
<circle cx="762.88" cy="500.08" r="1.52" fill="#4fa3dc"/>
<circle cx="775.5" cy="498.83" r="1.52" fill="#4fa3dc"/>
<circle cx="788.12" cy="497.58" r="1.52" fill="#4fa3dc"/>
<circle cx="800.73" cy="496.33" r="1.52" fill="#4fa3dc"/>
<circle cx="813.35" cy="495.08" r="1.52" fill="#4fa3dc"/>
<circle cx="825.97" cy="493.83" r="1.52" fill="#4fa3dc"/>
<circle cx="838.58" cy="492.58" r="1.52" fill="#4fa3dc"/>
<circle cx="851.2" cy="491.33" r="1.52" fill="#4fa3dc"/>
<circle cx="863.82" cy="490.08" r="1.52" fill="#4fa3dc"/>
<circle cx="876.43" cy="488.83" r="1.52" fill="#4fa3dc"/>
<circle cx="889.05" cy="487.58" r="1.52" fill="#4fa3dc"/>
<circle cx="901.67" cy="486.33" r="1.52" fill="#4fa3dc"/>
<circle cx="914.28" cy="485.08" r="1.52" fill="#4fa3dc"/>
<circle cx="720.78" cy="507.26" r="1.54" fill="#4fa3dc"/>
<circle cx="733.49" cy="505.98" r="1.54" fill="#4fa3dc"/>
<circle cx="746.2" cy="504.71" r="1.54" fill="#4fa3dc"/>
<circle cx="758.91" cy="503.44" r="1.54" fill="#4fa3dc"/>
<circle cx="771.62" cy="502.17" r="1.54" fill="#4fa3dc"/>
<circle cx="784.33" cy="500.9" r="1.54" fill="#4fa3dc"/>
<circle cx="797.04" cy="499.62" r="1.54" fill="#4fa3dc"/>
<circle cx="809.75" cy="498.35" r="1.54" fill="#4fa3dc"/>
<circle cx="822.46" cy="497.08" r="1.54" fill="#4fa3dc"/>
<circle cx="835.17" cy="495.81" r="1.54" fill="#4fa3dc"/>
<circle cx="847.88" cy="494.54" r="1.54" fill="#4fa3dc"/>
<circle cx="860.58" cy="493.27" r="1.54" fill="#4fa3dc"/>
<circle cx="873.29" cy="491.99" r="1.54" fill="#4fa3dc"/>
<circle cx="886" cy="490.72" r="1.54" fill="#4fa3dc"/>
<circle cx="898.71" cy="489.45" r="1.54" fill="#4fa3dc"/>
<circle cx="911.42" cy="488.18" r="1.54" fill="#4fa3dc"/>
<circle cx="924.13" cy="486.91" r="1.54" fill="#4fa3dc"/>
<circle cx="729.24" cy="509.42" r="1.56" fill="#4fa3dc"/>
<circle cx="742.04" cy="508.12" r="1.56" fill="#4fa3dc"/>
<circle cx="754.85" cy="506.83" r="1.56" fill="#4fa3dc"/>
<circle cx="767.65" cy="505.54" r="1.56" fill="#4fa3dc"/>
<circle cx="780.45" cy="504.24" r="1.56" fill="#4fa3dc"/>
<circle cx="793.26" cy="502.95" r="1.56" fill="#4fa3dc"/>
<circle cx="806.06" cy="501.66" r="1.56" fill="#4fa3dc"/>
<circle cx="818.86" cy="500.36" r="1.56" fill="#4fa3dc"/>
<circle cx="831.67" cy="499.07" r="1.56" fill="#4fa3dc"/>
<circle cx="844.47" cy="497.77" r="1.56" fill="#4fa3dc"/>
<circle cx="857.27" cy="496.48" r="1.56" fill="#4fa3dc"/>
<circle cx="870.08" cy="495.19" r="1.56" fill="#4fa3dc"/>
<circle cx="882.88" cy="493.89" r="1.56" fill="#4fa3dc"/>
<circle cx="895.68" cy="492.6" r="1.56" fill="#4fa3dc"/>
<circle cx="908.49" cy="491.31" r="1.56" fill="#4fa3dc"/>
<circle cx="921.29" cy="490.01" r="1.56" fill="#4fa3dc"/>
<circle cx="724.91" cy="512.88" r="1.58" fill="#4fa3dc"/>
<circle cx="737.8" cy="511.57" r="1.58" fill="#4fa3dc"/>
<circle cx="750.7" cy="510.25" r="1.58" fill="#4fa3dc"/>
<circle cx="763.6" cy="508.94" r="1.58" fill="#4fa3dc"/>
<circle cx="776.5" cy="507.62" r="1.58" fill="#4fa3dc"/>
<circle cx="789.39" cy="506.31" r="1.58" fill="#4fa3dc"/>
<circle cx="802.29" cy="504.99" r="1.58" fill="#4fa3dc"/>
<circle cx="815.19" cy="503.67" r="1.58" fill="#4fa3dc"/>
<circle cx="828.08" cy="502.36" r="1.58" fill="#4fa3dc"/>
<circle cx="840.98" cy="501.04" r="1.58" fill="#4fa3dc"/>
<circle cx="853.88" cy="499.73" r="1.58" fill="#4fa3dc"/>
<circle cx="866.77" cy="498.41" r="1.58" fill="#4fa3dc"/>
<circle cx="879.67" cy="497.1" r="1.58" fill="#4fa3dc"/>
<circle cx="892.57" cy="495.78" r="1.58" fill="#4fa3dc"/>
<circle cx="905.47" cy="494.47" r="1.58" fill="#4fa3dc"/>
<circle cx="918.36" cy="493.15" r="1.58" fill="#4fa3dc"/>
<circle cx="931.26" cy="491.83" r="1.58" fill="#4fa3dc"/>
<circle cx="733.48" cy="515.04" r="1.6" fill="#4fa3dc"/>
<circle cx="746.47" cy="513.71" r="1.6" fill="#4fa3dc"/>
<circle cx="759.46" cy="512.37" r="1.6" fill="#4fa3dc"/>
<circle cx="772.45" cy="511.03" r="1.6" fill="#4fa3dc"/>
<circle cx="785.44" cy="509.69" r="1.6" fill="#4fa3dc"/>
<circle cx="798.43" cy="508.36" r="1.6" fill="#4fa3dc"/>
<circle cx="811.43" cy="507.02" r="1.6" fill="#4fa3dc"/>
<circle cx="824.42" cy="505.68" r="1.6" fill="#4fa3dc"/>
<circle cx="837.41" cy="504.34" r="1.6" fill="#4fa3dc"/>
<circle cx="850.4" cy="503.01" r="1.6" fill="#4fa3dc"/>
<circle cx="863.39" cy="501.67" r="1.6" fill="#4fa3dc"/>
<circle cx="876.38" cy="500.33" r="1.6" fill="#4fa3dc"/>
<circle cx="889.37" cy="498.99" r="1.6" fill="#4fa3dc"/>
<circle cx="902.36" cy="497.66" r="1.6" fill="#4fa3dc"/>
<circle cx="915.35" cy="496.32" r="1.6" fill="#4fa3dc"/>
<circle cx="928.35" cy="494.98" r="1.6" fill="#4fa3dc"/>
<circle cx="729.06" cy="518.55" r="1.62" fill="#4fa3dc"/>
<circle cx="742.15" cy="517.19" r="1.62" fill="#4fa3dc"/>
<circle cx="755.24" cy="515.83" r="1.62" fill="#4fa3dc"/>
<circle cx="768.32" cy="514.47" r="1.62" fill="#4fa3dc"/>
<circle cx="781.41" cy="513.11" r="1.62" fill="#4fa3dc"/>
<circle cx="794.49" cy="511.75" r="1.62" fill="#4fa3dc"/>
<circle cx="807.58" cy="510.39" r="1.62" fill="#4fa3dc"/>
<circle cx="820.66" cy="509.03" r="1.62" fill="#4fa3dc"/>
<circle cx="833.75" cy="507.67" r="1.62" fill="#4fa3dc"/>
<circle cx="846.83" cy="506.31" r="1.62" fill="#4fa3dc"/>
<circle cx="859.92" cy="504.95" r="1.62" fill="#4fa3dc"/>
<circle cx="873.01" cy="503.59" r="1.62" fill="#4fa3dc"/>
<circle cx="886.09" cy="502.23" r="1.62" fill="#4fa3dc"/>
<circle cx="899.18" cy="500.88" r="1.62" fill="#4fa3dc"/>
<circle cx="912.26" cy="499.52" r="1.62" fill="#4fa3dc"/>
<circle cx="925.35" cy="498.16" r="1.62" fill="#4fa3dc"/>
<circle cx="938.43" cy="496.8" r="1.62" fill="#4fa3dc"/>
<circle cx="737.74" cy="520.7" r="1.64" fill="#4fa3dc"/>
<circle cx="750.92" cy="519.32" r="1.64" fill="#4fa3dc"/>
<circle cx="764.1" cy="517.94" r="1.64" fill="#4fa3dc"/>
<circle cx="777.28" cy="516.56" r="1.64" fill="#4fa3dc"/>
<circle cx="790.46" cy="515.18" r="1.64" fill="#4fa3dc"/>
<circle cx="803.64" cy="513.8" r="1.64" fill="#4fa3dc"/>
<circle cx="816.82" cy="512.41" r="1.64" fill="#4fa3dc"/>
<circle cx="830" cy="511.03" r="1.64" fill="#4fa3dc"/>
<circle cx="843.18" cy="509.65" r="1.64" fill="#4fa3dc"/>
<circle cx="856.37" cy="508.27" r="1.64" fill="#4fa3dc"/>
<circle cx="869.55" cy="506.89" r="1.64" fill="#4fa3dc"/>
<circle cx="882.73" cy="505.51" r="1.64" fill="#4fa3dc"/>
<circle cx="895.91" cy="504.12" r="1.64" fill="#4fa3dc"/>
<circle cx="909.09" cy="502.74" r="1.64" fill="#4fa3dc"/>
<circle cx="922.27" cy="501.36" r="1.64" fill="#4fa3dc"/>
<circle cx="935.45" cy="499.98" r="1.64" fill="#4fa3dc"/>
<circle cx="733.25" cy="524.25" r="1.66" fill="#4fa3dc"/>
<circle cx="746.52" cy="522.84" r="1.66" fill="#4fa3dc"/>
<circle cx="759.8" cy="521.44" r="1.66" fill="#4fa3dc"/>
<circle cx="773.07" cy="520.04" r="1.66" fill="#4fa3dc"/>
<circle cx="786.35" cy="518.63" r="1.66" fill="#4fa3dc"/>
<circle cx="799.62" cy="517.23" r="1.66" fill="#4fa3dc"/>
<circle cx="812.9" cy="515.82" r="1.66" fill="#4fa3dc"/>
<circle cx="826.17" cy="514.42" r="1.66" fill="#4fa3dc"/>
<circle cx="839.45" cy="513.02" r="1.66" fill="#4fa3dc"/>
<circle cx="852.72" cy="511.61" r="1.66" fill="#4fa3dc"/>
<circle cx="866" cy="510.21" r="1.66" fill="#4fa3dc"/>
<circle cx="879.27" cy="508.81" r="1.66" fill="#4fa3dc"/>
<circle cx="892.55" cy="507.4" r="1.66" fill="#4fa3dc"/>
<circle cx="905.82" cy="506" r="1.66" fill="#4fa3dc"/>
<circle cx="919.1" cy="504.59" r="1.66" fill="#4fa3dc"/>
<circle cx="932.37" cy="503.19" r="1.66" fill="#4fa3dc"/>
<circle cx="945.65" cy="501.79" r="1.66" fill="#4fa3dc"/>
<circle cx="742.03" cy="526.39" r="1.68" fill="#4fa3dc"/>
<circle cx="755.4" cy="524.97" r="1.68" fill="#4fa3dc"/>
<circle cx="768.77" cy="523.54" r="1.68" fill="#4fa3dc"/>
<circle cx="782.14" cy="522.12" r="1.68" fill="#4fa3dc"/>
<circle cx="795.51" cy="520.69" r="1.68" fill="#4fa3dc"/>
<circle cx="808.88" cy="519.26" r="1.68" fill="#4fa3dc"/>
<circle cx="822.25" cy="517.84" r="1.68" fill="#4fa3dc"/>
<circle cx="835.62" cy="516.41" r="1.68" fill="#4fa3dc"/>
<circle cx="848.99" cy="514.99" r="1.68" fill="#4fa3dc"/>
<circle cx="862.36" cy="513.56" r="1.68" fill="#4fa3dc"/>
<circle cx="875.73" cy="512.13" r="1.68" fill="#4fa3dc"/>
<circle cx="889.1" cy="510.71" r="1.68" fill="#4fa3dc"/>
<circle cx="902.47" cy="509.28" r="1.68" fill="#4fa3dc"/>
<circle cx="915.85" cy="507.86" r="1.68" fill="#4fa3dc"/>
<circle cx="929.22" cy="506.43" r="1.68" fill="#4fa3dc"/>
<circle cx="942.59" cy="505" r="1.68" fill="#4fa3dc"/>
<circle cx="737.45" cy="529.97" r="1.7" fill="#4fa3dc"/>
<circle cx="750.91" cy="528.53" r="1.7" fill="#4fa3dc"/>
<circle cx="764.38" cy="527.08" r="1.7" fill="#4fa3dc"/>
<circle cx="777.85" cy="525.63" r="1.7" fill="#4fa3dc"/>
<circle cx="791.31" cy="524.18" r="1.7" fill="#4fa3dc"/>
<circle cx="804.78" cy="522.73" r="1.7" fill="#4fa3dc"/>
<circle cx="818.24" cy="521.28" r="1.7" fill="#4fa3dc"/>
<circle cx="831.71" cy="519.84" r="1.7" fill="#4fa3dc"/>
<circle cx="845.17" cy="518.39" r="1.7" fill="#4fa3dc"/>
<circle cx="858.64" cy="516.94" r="1.7" fill="#4fa3dc"/>
<circle cx="872.11" cy="515.49" r="1.7" fill="#4fa3dc"/>
<circle cx="885.57" cy="514.04" r="1.7" fill="#4fa3dc"/>
<circle cx="899.04" cy="512.6" r="1.7" fill="#4fa3dc"/>
<circle cx="912.5" cy="511.15" r="1.7" fill="#4fa3dc"/>
<circle cx="925.97" cy="509.7" r="1.7" fill="#4fa3dc"/>
<circle cx="939.44" cy="508.25" r="1.7" fill="#4fa3dc"/>
<circle cx="952.9" cy="506.8" r="1.7" fill="#4fa3dc"/>
<circle cx="746.34" cy="532.11" r="1.72" fill="#4fa3dc"/>
<circle cx="759.9" cy="530.64" r="1.72" fill="#4fa3dc"/>
<circle cx="773.46" cy="529.17" r="1.72" fill="#4fa3dc"/>
<circle cx="787.02" cy="527.7" r="1.72" fill="#4fa3dc"/>
<circle cx="800.58" cy="526.23" r="1.72" fill="#4fa3dc"/>
<circle cx="814.14" cy="524.76" r="1.72" fill="#4fa3dc"/>
<circle cx="827.71" cy="523.29" r="1.72" fill="#4fa3dc"/>
<circle cx="841.27" cy="521.82" r="1.72" fill="#4fa3dc"/>
<circle cx="854.83" cy="520.35" r="1.72" fill="#4fa3dc"/>
<circle cx="868.39" cy="518.88" r="1.72" fill="#4fa3dc"/>
<circle cx="881.95" cy="517.41" r="1.72" fill="#4fa3dc"/>
<circle cx="895.51" cy="515.94" r="1.72" fill="#4fa3dc"/>
<circle cx="909.07" cy="514.47" r="1.72" fill="#4fa3dc"/>
<circle cx="922.64" cy="512.99" r="1.72" fill="#4fa3dc"/>
<circle cx="936.2" cy="511.52" r="1.72" fill="#4fa3dc"/>
<circle cx="949.76" cy="510.05" r="1.72" fill="#4fa3dc"/>
<circle cx="741.67" cy="535.73" r="1.74" fill="#4fa3dc"/>
<circle cx="755.33" cy="534.23" r="1.74" fill="#4fa3dc"/>
<circle cx="768.98" cy="532.74" r="1.74" fill="#4fa3dc"/>
<circle cx="782.64" cy="531.25" r="1.74" fill="#4fa3dc"/>
<circle cx="796.3" cy="529.76" r="1.74" fill="#4fa3dc"/>
<circle cx="809.96" cy="528.26" r="1.74" fill="#4fa3dc"/>
<circle cx="823.61" cy="526.77" r="1.74" fill="#4fa3dc"/>
<circle cx="837.27" cy="525.28" r="1.74" fill="#4fa3dc"/>
<circle cx="850.93" cy="523.78" r="1.74" fill="#4fa3dc"/>
<circle cx="864.58" cy="522.29" r="1.74" fill="#4fa3dc"/>
<circle cx="878.24" cy="520.8" r="1.74" fill="#4fa3dc"/>
<circle cx="891.9" cy="519.3" r="1.74" fill="#4fa3dc"/>
<circle cx="905.56" cy="517.81" r="1.74" fill="#4fa3dc"/>
<circle cx="919.21" cy="516.32" r="1.74" fill="#4fa3dc"/>
<circle cx="932.87" cy="514.83" r="1.74" fill="#4fa3dc"/>
<circle cx="946.53" cy="513.33" r="1.74" fill="#4fa3dc"/>
<circle cx="960.19" cy="511.84" r="1.74" fill="#4fa3dc"/>
<circle cx="750.66" cy="537.85" r="1.76" fill="#4fa3dc"/>
<circle cx="764.42" cy="536.34" r="1.76" fill="#4fa3dc"/>
<circle cx="778.17" cy="534.82" r="1.76" fill="#4fa3dc"/>
<circle cx="791.92" cy="533.31" r="1.76" fill="#4fa3dc"/>
<circle cx="805.68" cy="531.79" r="1.76" fill="#4fa3dc"/>
<circle cx="819.43" cy="530.28" r="1.76" fill="#4fa3dc"/>
<circle cx="833.18" cy="528.76" r="1.76" fill="#4fa3dc"/>
<circle cx="846.94" cy="527.25" r="1.76" fill="#4fa3dc"/>
<circle cx="860.69" cy="525.73" r="1.76" fill="#4fa3dc"/>
<circle cx="874.44" cy="524.22" r="1.76" fill="#4fa3dc"/>
<circle cx="888.2" cy="522.7" r="1.76" fill="#4fa3dc"/>
<circle cx="901.95" cy="521.19" r="1.76" fill="#4fa3dc"/>
<circle cx="915.7" cy="519.67" r="1.76" fill="#4fa3dc"/>
<circle cx="929.46" cy="518.15" r="1.76" fill="#4fa3dc"/>
<circle cx="943.21" cy="516.64" r="1.76" fill="#4fa3dc"/>
<circle cx="956.96" cy="515.12" r="1.76" fill="#4fa3dc"/>
<circle cx="745.91" cy="541.5" r="1.78" fill="#4fa3dc"/>
<circle cx="759.76" cy="539.96" r="1.78" fill="#4fa3dc"/>
<circle cx="773.61" cy="538.43" r="1.78" fill="#4fa3dc"/>
<circle cx="787.45" cy="536.89" r="1.78" fill="#4fa3dc"/>
<circle cx="801.3" cy="535.35" r="1.78" fill="#4fa3dc"/>
<circle cx="815.15" cy="533.81" r="1.78" fill="#4fa3dc"/>
<circle cx="829" cy="532.28" r="1.78" fill="#4fa3dc"/>
<circle cx="842.85" cy="530.74" r="1.78" fill="#4fa3dc"/>
<circle cx="856.7" cy="529.2" r="1.78" fill="#4fa3dc"/>
<circle cx="870.55" cy="527.66" r="1.78" fill="#4fa3dc"/>
<circle cx="884.4" cy="526.12" r="1.78" fill="#4fa3dc"/>
<circle cx="898.25" cy="524.59" r="1.78" fill="#4fa3dc"/>
<circle cx="912.1" cy="523.05" r="1.78" fill="#4fa3dc"/>
<circle cx="925.95" cy="521.51" r="1.78" fill="#4fa3dc"/>
<circle cx="939.8" cy="519.97" r="1.78" fill="#4fa3dc"/>
<circle cx="953.65" cy="518.44" r="1.78" fill="#4fa3dc"/>
<circle cx="967.5" cy="516.9" r="1.78" fill="#4fa3dc"/>
<circle cx="755" cy="543.62" r="1.81" fill="#4fa3dc"/>
<circle cx="768.95" cy="542.06" r="1.81" fill="#4fa3dc"/>
<circle cx="782.9" cy="540.5" r="1.81" fill="#4fa3dc"/>
<circle cx="796.84" cy="538.94" r="1.81" fill="#4fa3dc"/>
<circle cx="810.79" cy="537.38" r="1.81" fill="#4fa3dc"/>
<circle cx="824.73" cy="535.82" r="1.81" fill="#4fa3dc"/>
<circle cx="838.68" cy="534.26" r="1.81" fill="#4fa3dc"/>
<circle cx="852.63" cy="532.7" r="1.81" fill="#4fa3dc"/>
<circle cx="866.57" cy="531.14" r="1.81" fill="#4fa3dc"/>
<circle cx="880.52" cy="529.58" r="1.81" fill="#4fa3dc"/>
<circle cx="894.46" cy="528.02" r="1.81" fill="#4fa3dc"/>
<circle cx="908.41" cy="526.45" r="1.81" fill="#4fa3dc"/>
<circle cx="922.36" cy="524.89" r="1.81" fill="#4fa3dc"/>
<circle cx="936.3" cy="523.33" r="1.81" fill="#4fa3dc"/>
<circle cx="950.25" cy="521.77" r="1.81" fill="#4fa3dc"/>
<circle cx="964.19" cy="520.21" r="1.81" fill="#4fa3dc"/>
<circle cx="750.16" cy="547.3" r="1.83" fill="#4fa3dc"/>
<circle cx="764.2" cy="545.72" r="1.83" fill="#4fa3dc"/>
<circle cx="778.24" cy="544.13" r="1.83" fill="#4fa3dc"/>
<circle cx="792.29" cy="542.55" r="1.83" fill="#4fa3dc"/>
<circle cx="806.33" cy="540.97" r="1.83" fill="#4fa3dc"/>
<circle cx="820.37" cy="539.39" r="1.83" fill="#4fa3dc"/>
<circle cx="834.41" cy="537.8" r="1.83" fill="#4fa3dc"/>
<circle cx="848.46" cy="536.22" r="1.83" fill="#4fa3dc"/>
<circle cx="862.5" cy="534.64" r="1.83" fill="#4fa3dc"/>
<circle cx="876.54" cy="533.05" r="1.83" fill="#4fa3dc"/>
<circle cx="890.58" cy="531.47" r="1.83" fill="#4fa3dc"/>
<circle cx="904.63" cy="529.89" r="1.83" fill="#4fa3dc"/>
<circle cx="918.67" cy="528.31" r="1.83" fill="#4fa3dc"/>
<circle cx="932.71" cy="526.72" r="1.83" fill="#4fa3dc"/>
<circle cx="946.75" cy="525.14" r="1.83" fill="#4fa3dc"/>
<circle cx="960.8" cy="523.56" r="1.83" fill="#4fa3dc"/>
<circle cx="974.84" cy="521.97" r="1.83" fill="#4fa3dc"/>
<circle cx="759.36" cy="549.4" r="1.85" fill="#4fa3dc"/>
<circle cx="773.5" cy="547.8" r="1.85" fill="#4fa3dc"/>
<circle cx="787.64" cy="546.19" r="1.85" fill="#4fa3dc"/>
<circle cx="801.78" cy="544.59" r="1.85" fill="#4fa3dc"/>
<circle cx="815.92" cy="542.98" r="1.85" fill="#4fa3dc"/>
<circle cx="830.06" cy="541.38" r="1.85" fill="#4fa3dc"/>
<circle cx="844.2" cy="539.77" r="1.85" fill="#4fa3dc"/>
<circle cx="858.34" cy="538.16" r="1.85" fill="#4fa3dc"/>
<circle cx="872.47" cy="536.56" r="1.85" fill="#4fa3dc"/>
<circle cx="886.61" cy="534.95" r="1.85" fill="#4fa3dc"/>
<circle cx="900.75" cy="533.35" r="1.85" fill="#4fa3dc"/>
<circle cx="914.89" cy="531.74" r="1.85" fill="#4fa3dc"/>
<circle cx="929.03" cy="530.14" r="1.85" fill="#4fa3dc"/>
<circle cx="943.17" cy="528.53" r="1.85" fill="#4fa3dc"/>
<circle cx="957.31" cy="526.93" r="1.85" fill="#4fa3dc"/>
<circle cx="971.45" cy="525.32" r="1.85" fill="#4fa3dc"/>
<circle cx="754.43" cy="553.12" r="1.87" fill="#4fa3dc"/>
<circle cx="768.66" cy="551.49" r="1.87" fill="#4fa3dc"/>
<circle cx="782.9" cy="549.86" r="1.87" fill="#4fa3dc"/>
<circle cx="797.13" cy="548.23" r="1.87" fill="#4fa3dc"/>
<circle cx="811.37" cy="546.6" r="1.87" fill="#4fa3dc"/>
<circle cx="825.61" cy="544.98" r="1.87" fill="#4fa3dc"/>
<circle cx="839.84" cy="543.35" r="1.87" fill="#4fa3dc"/>
<circle cx="854.08" cy="541.72" r="1.87" fill="#4fa3dc"/>
<circle cx="868.32" cy="540.09" r="1.87" fill="#4fa3dc"/>
<circle cx="882.55" cy="538.46" r="1.87" fill="#4fa3dc"/>
<circle cx="896.79" cy="536.84" r="1.87" fill="#4fa3dc"/>
<circle cx="911.02" cy="535.21" r="1.87" fill="#4fa3dc"/>
<circle cx="925.26" cy="533.58" r="1.87" fill="#4fa3dc"/>
<circle cx="939.5" cy="531.95" r="1.87" fill="#4fa3dc"/>
<circle cx="953.73" cy="530.32" r="1.87" fill="#4fa3dc"/>
<circle cx="967.97" cy="528.7" r="1.87" fill="#4fa3dc"/>
<circle cx="982.2" cy="527.07" r="1.87" fill="#4fa3dc"/>
<circle cx="763.73" cy="555.2" r="1.89" fill="#4fa3dc"/>
<circle cx="778.06" cy="553.55" r="1.89" fill="#4fa3dc"/>
<circle cx="792.4" cy="551.9" r="1.89" fill="#4fa3dc"/>
<circle cx="806.73" cy="550.25" r="1.89" fill="#4fa3dc"/>
<circle cx="821.06" cy="548.6" r="1.89" fill="#4fa3dc"/>
<circle cx="835.4" cy="546.95" r="1.89" fill="#4fa3dc"/>
<circle cx="849.73" cy="545.3" r="1.89" fill="#4fa3dc"/>
<circle cx="864.06" cy="543.65" r="1.89" fill="#4fa3dc"/>
<circle cx="878.4" cy="542" r="1.89" fill="#4fa3dc"/>
<circle cx="892.73" cy="540.35" r="1.89" fill="#4fa3dc"/>
<circle cx="907.06" cy="538.7" r="1.89" fill="#4fa3dc"/>
<circle cx="921.4" cy="537.05" r="1.89" fill="#4fa3dc"/>
<circle cx="935.73" cy="535.4" r="1.89" fill="#4fa3dc"/>
<circle cx="950.06" cy="533.75" r="1.89" fill="#4fa3dc"/>
<circle cx="964.4" cy="532.1" r="1.89" fill="#4fa3dc"/>
<circle cx="978.73" cy="530.45" r="1.89" fill="#4fa3dc"/>
<circle cx="758.71" cy="558.95" r="1.91" fill="#4fa3dc"/>
<circle cx="773.14" cy="557.28" r="1.91" fill="#4fa3dc"/>
<circle cx="787.57" cy="555.6" r="1.91" fill="#4fa3dc"/>
<circle cx="802" cy="553.93" r="1.91" fill="#4fa3dc"/>
<circle cx="816.43" cy="552.26" r="1.91" fill="#4fa3dc"/>
<circle cx="830.86" cy="550.58" r="1.91" fill="#4fa3dc"/>
<circle cx="845.29" cy="548.91" r="1.91" fill="#4fa3dc"/>
<circle cx="859.72" cy="547.24" r="1.91" fill="#4fa3dc"/>
<circle cx="874.15" cy="545.56" r="1.91" fill="#4fa3dc"/>
<circle cx="888.58" cy="543.89" r="1.91" fill="#4fa3dc"/>
<circle cx="903.01" cy="542.22" r="1.91" fill="#4fa3dc"/>
<circle cx="917.44" cy="540.54" r="1.91" fill="#4fa3dc"/>
<circle cx="931.87" cy="538.87" r="1.91" fill="#4fa3dc"/>
<circle cx="946.3" cy="537.2" r="1.91" fill="#4fa3dc"/>
<circle cx="960.73" cy="535.52" r="1.91" fill="#4fa3dc"/>
<circle cx="975.16" cy="533.85" r="1.91" fill="#4fa3dc"/>
<circle cx="989.59" cy="532.18" r="1.91" fill="#4fa3dc"/>
<circle cx="768.12" cy="561.02" r="1.93" fill="#4fa3dc"/>
<circle cx="782.64" cy="559.33" r="1.93" fill="#4fa3dc"/>
<circle cx="797.17" cy="557.63" r="1.93" fill="#4fa3dc"/>
<circle cx="811.7" cy="555.94" r="1.93" fill="#4fa3dc"/>
<circle cx="826.23" cy="554.24" r="1.93" fill="#4fa3dc"/>
<circle cx="840.75" cy="552.54" r="1.93" fill="#4fa3dc"/>
<circle cx="855.28" cy="550.85" r="1.93" fill="#4fa3dc"/>
<circle cx="869.81" cy="549.15" r="1.93" fill="#4fa3dc"/>
<circle cx="884.34" cy="547.46" r="1.93" fill="#4fa3dc"/>
<circle cx="898.86" cy="545.76" r="1.93" fill="#4fa3dc"/>
<circle cx="913.39" cy="544.06" r="1.93" fill="#4fa3dc"/>
<circle cx="927.92" cy="542.37" r="1.93" fill="#4fa3dc"/>
<circle cx="942.45" cy="540.67" r="1.93" fill="#4fa3dc"/>
<circle cx="956.97" cy="538.98" r="1.93" fill="#4fa3dc"/>
<circle cx="971.5" cy="537.28" r="1.93" fill="#4fa3dc"/>
<circle cx="986.03" cy="535.58" r="1.93" fill="#4fa3dc"/>
<circle cx="763" cy="564.8" r="1.95" fill="#4fa3dc"/>
<circle cx="777.62" cy="563.08" r="1.95" fill="#4fa3dc"/>
<circle cx="792.25" cy="561.36" r="1.95" fill="#4fa3dc"/>
<circle cx="806.88" cy="559.64" r="1.95" fill="#4fa3dc"/>
<circle cx="821.5" cy="557.92" r="1.95" fill="#4fa3dc"/>
<circle cx="836.12" cy="556.21" r="1.95" fill="#4fa3dc"/>
<circle cx="850.75" cy="554.49" r="1.95" fill="#4fa3dc"/>
<circle cx="865.38" cy="552.77" r="1.95" fill="#4fa3dc"/>
<circle cx="880" cy="551.05" r="1.95" fill="#4fa3dc"/>
<circle cx="894.62" cy="549.33" r="1.95" fill="#4fa3dc"/>
<circle cx="909.25" cy="547.61" r="1.95" fill="#4fa3dc"/>
<circle cx="923.88" cy="545.89" r="1.95" fill="#4fa3dc"/>
<circle cx="938.5" cy="544.17" r="1.95" fill="#4fa3dc"/>
<circle cx="953.12" cy="542.46" r="1.95" fill="#4fa3dc"/>
<circle cx="967.75" cy="540.74" r="1.95" fill="#4fa3dc"/>
<circle cx="982.38" cy="539.02" r="1.95" fill="#4fa3dc"/>
<circle cx="997" cy="537.3" r="1.95" fill="#4fa3dc"/>
<path d="M573 484.5 C598 424 655 400 712 400 C768 400 804 425 817.5 452" fill="none" stroke="url(#gArc)" stroke-width="6.8"/>
<path d="M825 463.5 L805.5 452 L827.5 442.5 Z" fill="#a51e28"/>
<text transform="translate(626 449) rotate(-35)" font-size="22" fill="#111" text-anchor="middle">e<tspan font-size="13" dy="-9">-</tspan></text>
<text transform="translate(694 423) rotate(0)" font-size="22" fill="#111" text-anchor="middle">e<tspan font-size="13" dy="-9">-</tspan></text>
<text transform="translate(762 436) rotate(28)" font-size="22" fill="#111" text-anchor="middle">e<tspan font-size="13" dy="-9">-</tspan></text>
<text transform="translate(611.7 475.6) rotate(-7.5)" font-size="19.5" font-weight="bold" textLength="171" lengthAdjust="spacingAndGlyphs"><tspan fill="#2a7dc6">Electro</tspan><tspan fill="#1f68b0">n mig</tspan><tspan fill="#17559a">ration</tspan></text>
<path d="M474 629.8 L986 568.2 L985 558.6 L1008.2 567.6 L987.8 582 L986.8 574.6 L474.8 637 Z" fill="url(#gTemp)"/>
<text transform="translate(668.5 635.8) rotate(-7.1)" font-size="22.5" font-weight="bold" textLength="183" lengthAdjust="spacingAndGlyphs"><tspan fill="#c9171f">Tempera</tspan><tspan fill="#a81a22">ture </tspan><tspan fill="#8a1a20">field</tspan></text>
<g transform="translate(553.9 532.9) rotate(-9)" filter="url(#blur1)"><path d="M-93 0 L-2 -7.800000000000001 L-2 7.800000000000001 Z" fill="#e8474f" fill-opacity="0.38"/><path d="M-85 0 L-2 -6.2 L-2 6.2 Z" fill="url(#gTail)"/></g><circle cx="553.9" cy="532.9" r="12" fill="#fff" fill-opacity="0.75" filter="url(#blur1)"/><circle cx="553.9" cy="532.9" r="10" fill="url(#gTeal)"/><text x="553.4" y="536.68" font-size="10.5" fill="#111" text-anchor="middle">K<tspan font-size="6.3" dy="-3.15">+</tspan></text>
<g transform="translate(697.4 499.7) rotate(-9)" filter="url(#blur1)"><path d="M-93 0 L-2 -7.800000000000001 L-2 7.800000000000001 Z" fill="#e8474f" fill-opacity="0.38"/><path d="M-85 0 L-2 -6.2 L-2 6.2 Z" fill="url(#gTail)"/></g><circle cx="697.4" cy="499.7" r="12" fill="#fff" fill-opacity="0.75" filter="url(#blur1)"/><circle cx="697.4" cy="499.7" r="10" fill="url(#gTeal)"/><text x="696.9" y="503.47999999999996" font-size="10.5" fill="#111" text-anchor="middle">K<tspan font-size="6.3" dy="-3.15">+</tspan></text>
<g transform="translate(750 543.5) rotate(-8)" filter="url(#blur1)"><path d="M-103 0 L-2 -9.36 L-2 9.36 Z" fill="#e8474f" fill-opacity="0.38"/><path d="M-95 0 L-2 -7.4399999999999995 L-2 7.4399999999999995 Z" fill="url(#gTail)"/></g><circle cx="750" cy="543.5" r="14" fill="#fff" fill-opacity="0.75" filter="url(#blur1)"/><circle cx="750" cy="543.5" r="12" fill="url(#gTeal)"/><text x="749.5" y="548.0" font-size="12.5" fill="#111" text-anchor="middle">K<tspan font-size="7.5" dy="-3.75">+</tspan></text>
<g transform="translate(846.1 497.7) rotate(-9)" filter="url(#blur1)"><path d="M-56 0 L-2 -7.175999999999999 L-2 7.175999999999999 Z" fill="#e8474f" fill-opacity="0.38"/><path d="M-48 0 L-2 -5.704 L-2 5.704 Z" fill="url(#gTail)"/></g><circle cx="846.1" cy="497.7" r="11.2" fill="#fff" fill-opacity="0.75" filter="url(#blur1)"/><circle cx="846.1" cy="497.7" r="9.2" fill="url(#gTeal)"/><text x="845.6" y="501.12" font-size="9.5" fill="#111" text-anchor="middle">K<tspan font-size="5.7" dy="-2.85">+</tspan></text>
<g clip-path="url(#clipIns)">
<rect x="1075.8" y="367.6" width="190.8" height="274.4" fill="#fff"/>
<circle cx="1180.25" cy="391.69" r="31.69" fill="url(#gCy2)" fill-opacity="0.8"/>
<circle cx="1160.08" cy="380.17" r="17.29" fill="url(#gCy2)" fill-opacity="0.8"/>
<circle cx="1203.3" cy="377.29" r="20.17" fill="url(#gCy2)" fill-opacity="0.8"/>
<circle cx="1188.9" cy="426.27" r="17.29" fill="url(#gCy2)" fill-opacity="0.8"/>
<circle cx="1220.59" cy="495.42" r="17.29" fill="url(#gCy2)" fill-opacity="0.8"/>
<circle cx="1260.93" cy="495.42" r="17.29" fill="url(#gCy2)" fill-opacity="0.8"/>
<circle cx="1093.81" cy="633.73" r="13.83" fill="url(#gCy2)" fill-opacity="0.8"/>
<circle cx="1263.81" cy="636.61" r="11.53" fill="url(#gCy2)" fill-opacity="0.8"/>
<circle cx="1082.29" cy="613.56" r="10.08" fill="url(#gCy2)" fill-opacity="0.8"/>
<circle cx="1260.93" cy="495.42" r="12.1" fill="url(#gGrey)"/>
<circle cx="1249.41" cy="639.49" r="11.53" fill="url(#gGrey)"/>
<line x1="1112.54" y1="419.07" x2="1075.08" y2="364.32" stroke="#c5393e" stroke-width="7.2" stroke-linecap="round"/>
<line x1="1112.54" y1="419.07" x2="1108.22" y2="362.88" stroke="#c5393e" stroke-width="7.2" stroke-linecap="round"/>
<line x1="1112.54" y1="419.07" x2="1126.95" y2="362.88" stroke="#c5393e" stroke-width="7.2" stroke-linecap="round"/>
<line x1="1112.54" y1="419.07" x2="1157.2" y2="362.88" stroke="#c5393e" stroke-width="7.2" stroke-linecap="round"/>
<line x1="1112.54" y1="419.07" x2="1070.76" y2="432.03" stroke="#c5393e" stroke-width="7.2" stroke-linecap="round"/>
<line x1="1112.54" y1="419.07" x2="1070.76" y2="456.53" stroke="#c5393e" stroke-width="7.2" stroke-linecap="round"/>
<line x1="1112.54" y1="419.07" x2="1090.93" y2="483.9" stroke="#c5393e" stroke-width="7.2" stroke-linecap="round"/>
<line x1="1090.93" y1="478.14" x2="1085.17" y2="489.66" stroke="#9a9aa8" stroke-width="6.34" stroke-linecap="round"/>
<line x1="1112.54" y1="419.07" x2="1151.44" y2="400.34" stroke="#c5393e" stroke-width="7.2" stroke-linecap="round"/>
<line x1="1151.44" y1="400.34" x2="1167.29" y2="392.27" stroke="#5ab8e4" stroke-width="6.34" stroke-linecap="round"/>
<line x1="1177.37" y1="468.05" x2="1126.95" y2="362.88" stroke="#c5393e" stroke-width="7.49" stroke-linecap="round"/>
<line x1="1112.54" y1="419.07" x2="1177.37" y2="468.05" stroke="#c5393e" stroke-width="8.07" stroke-linecap="round"/>
<line x1="1177.37" y1="468.05" x2="1214.83" y2="480.44" stroke="#c5393e" stroke-width="8.64" stroke-linecap="round"/>
<line x1="1214.83" y1="480.44" x2="1232.12" y2="486.78" stroke="#6cc6e4" stroke-width="8.07" stroke-linecap="round"/>
<line x1="1180.25" y1="443.56" x2="1180.83" y2="429.15" stroke="#d29ac8" stroke-width="6.34" stroke-linecap="round"/>
<line x1="1180.83" y1="429.15" x2="1181.69" y2="414.75" stroke="#5ab4e4" stroke-width="6.34" stroke-linecap="round"/>
<circle cx="1194.66" cy="397.46" r="20.17" fill="url(#gGrey)"/>
<circle cx="1093.81" cy="558.81" r="19.02" fill="url(#gGrey)"/>
<circle cx="1086.61" cy="512.71" r="31.69" fill="url(#gGrey)"/>
<circle cx="1186.02" cy="535.76" r="28.81" fill="url(#gGrey)"/>
<circle cx="1142.8" cy="558.81" r="17.29" fill="url(#gWhite)"/>
<line x1="1175.93" y1="561.69" x2="1175.93" y2="590.51" stroke="#3a9ad8" stroke-width="6.34" stroke-linecap="round"/>
<circle cx="1180.25" cy="610.68" r="27.37" fill="url(#gGrey)"/>
<circle cx="1177.37" cy="468.05" r="27.37" fill="url(#gRed)"/>
<circle cx="1112.54" cy="419.07" r="30.25" fill="url(#gRed)"/>
<path d="M1093.81 417.63 L1097.27 416.47 L1094.39 436.36 L1090.36 437.22 Z" fill="#d9b6d6" fill-opacity="0.85"/>
<circle cx="1175.93" cy="394.58" r="24.49" fill="url(#gCy2)" fill-opacity="0.8"/>
<circle cx="1162.97" cy="414.75" r="14.41" fill="url(#gCy2)" fill-opacity="0.8"/>
<circle cx="1200.42" cy="374.41" r="15.85" fill="url(#gCy2)" fill-opacity="0.8"/>
<line x1="1132.71" y1="491.1" x2="1126.08" y2="468.05" stroke="#62bde8" stroke-width="6.34" stroke-linecap="round"/>
<line x1="1132.71" y1="491.1" x2="1099.58" y2="501.76" stroke="#52b0e4" stroke-width="6.92" stroke-linecap="round"/>
<line x1="1132.71" y1="491.1" x2="1160.08" y2="517.03" stroke="#52b0e4" stroke-width="6.34" stroke-linecap="round"/>
<line x1="1102.46" y1="509.83" x2="1122.63" y2="521.36" stroke="#5a8ad8" stroke-width="2.88" stroke-linecap="round"/>
<circle cx="1132.71" cy="491.1" r="12.1" fill="url(#gBlue)"/>
<circle cx="1131.27" cy="504.07" r="31.69" fill="url(#gCy2)" fill-opacity="0.62"/>
<circle cx="1108.22" cy="495.42" r="20.17" fill="url(#gCy2)" fill-opacity="0.6"/>
<circle cx="1151.44" cy="481.02" r="20.17" fill="url(#gCy2)" fill-opacity="0.55"/>
<circle cx="1116.86" cy="532.88" r="24.49" fill="url(#gCy2)" fill-opacity="0.6"/>
<circle cx="1148.56" cy="535.76" r="23.05" fill="url(#gCy2)" fill-opacity="0.55"/>
<circle cx="1139.92" cy="457.97" r="17.29" fill="url(#gCy2)" fill-opacity="0.55"/>
<circle cx="1160.08" cy="561.69" r="20.17" fill="url(#gCy2)" fill-opacity="0.6"/>
<circle cx="1099.58" cy="475.25" r="12.97" fill="url(#gCy2)" fill-opacity="0.6"/>
<circle cx="1177.37" cy="573.22" r="20.75" fill="url(#gCy2)" fill-opacity="0.7"/>
<circle cx="1131.27" cy="561.69" r="17.29" fill="url(#gCy2)" fill-opacity="0.5"/>
<circle cx="1164.41" cy="509.83" r="14.41" fill="url(#gCy2)" fill-opacity="0.5"/>
<circle cx="1226.36" cy="498.3" r="27.37" fill="url(#gCy2)" fill-opacity="0.8"/>
<circle cx="1249.41" cy="515.59" r="24.49" fill="url(#gCy2)" fill-opacity="0.8"/>
<circle cx="1240.76" cy="535.76" r="17.86" fill="url(#gCy2)" fill-opacity="0.8"/>
<circle cx="1263.81" cy="521.36" r="14.41" fill="url(#gCy2)" fill-opacity="0.7"/>
<circle cx="1237.88" cy="481.02" r="14.41" fill="url(#gCy2)" fill-opacity="0.75"/>
<line x1="1132.71" y1="616.44" x2="1151.44" y2="616.44" stroke="#7fd0e6" stroke-width="6.92" stroke-linecap="round"/>
<line x1="1200.42" y1="615" x2="1220.59" y2="615" stroke="#7fd0e6" stroke-width="6.92" stroke-linecap="round"/>
<circle cx="1124.07" cy="623.64" r="8.07" fill="url(#gWhite)"/>
<circle cx="1227.8" cy="616.44" r="8.07" fill="url(#gWhite)"/>
<circle cx="1135.59" cy="613.56" r="19.02" fill="url(#gCy2)" fill-opacity="0.72"/>
<circle cx="1210.51" cy="612.12" r="21.9" fill="url(#gCy2)" fill-opacity="0.72"/>
<circle cx="1151.44" cy="590.51" r="11.53" fill="url(#gCy2)" fill-opacity="0.6"/>
<circle cx="1200.42" cy="590.51" r="11.53" fill="url(#gCy2)" fill-opacity="0.6"/>
<path d="M1179.7 625.5 V532.9 L1139.3 492.5 L1123.6 442" fill="none" stroke="#efe72c" stroke-width="2.9" stroke-linejoin="round"/>
<path d="M1118.2 432.8 L1129 440.2 L1119 444.6 Z" fill="#efe72c" stroke="#efe72c" stroke-width="0.8" stroke-linejoin="round"/>
</g>
</g>
</svg>
</body></html>
